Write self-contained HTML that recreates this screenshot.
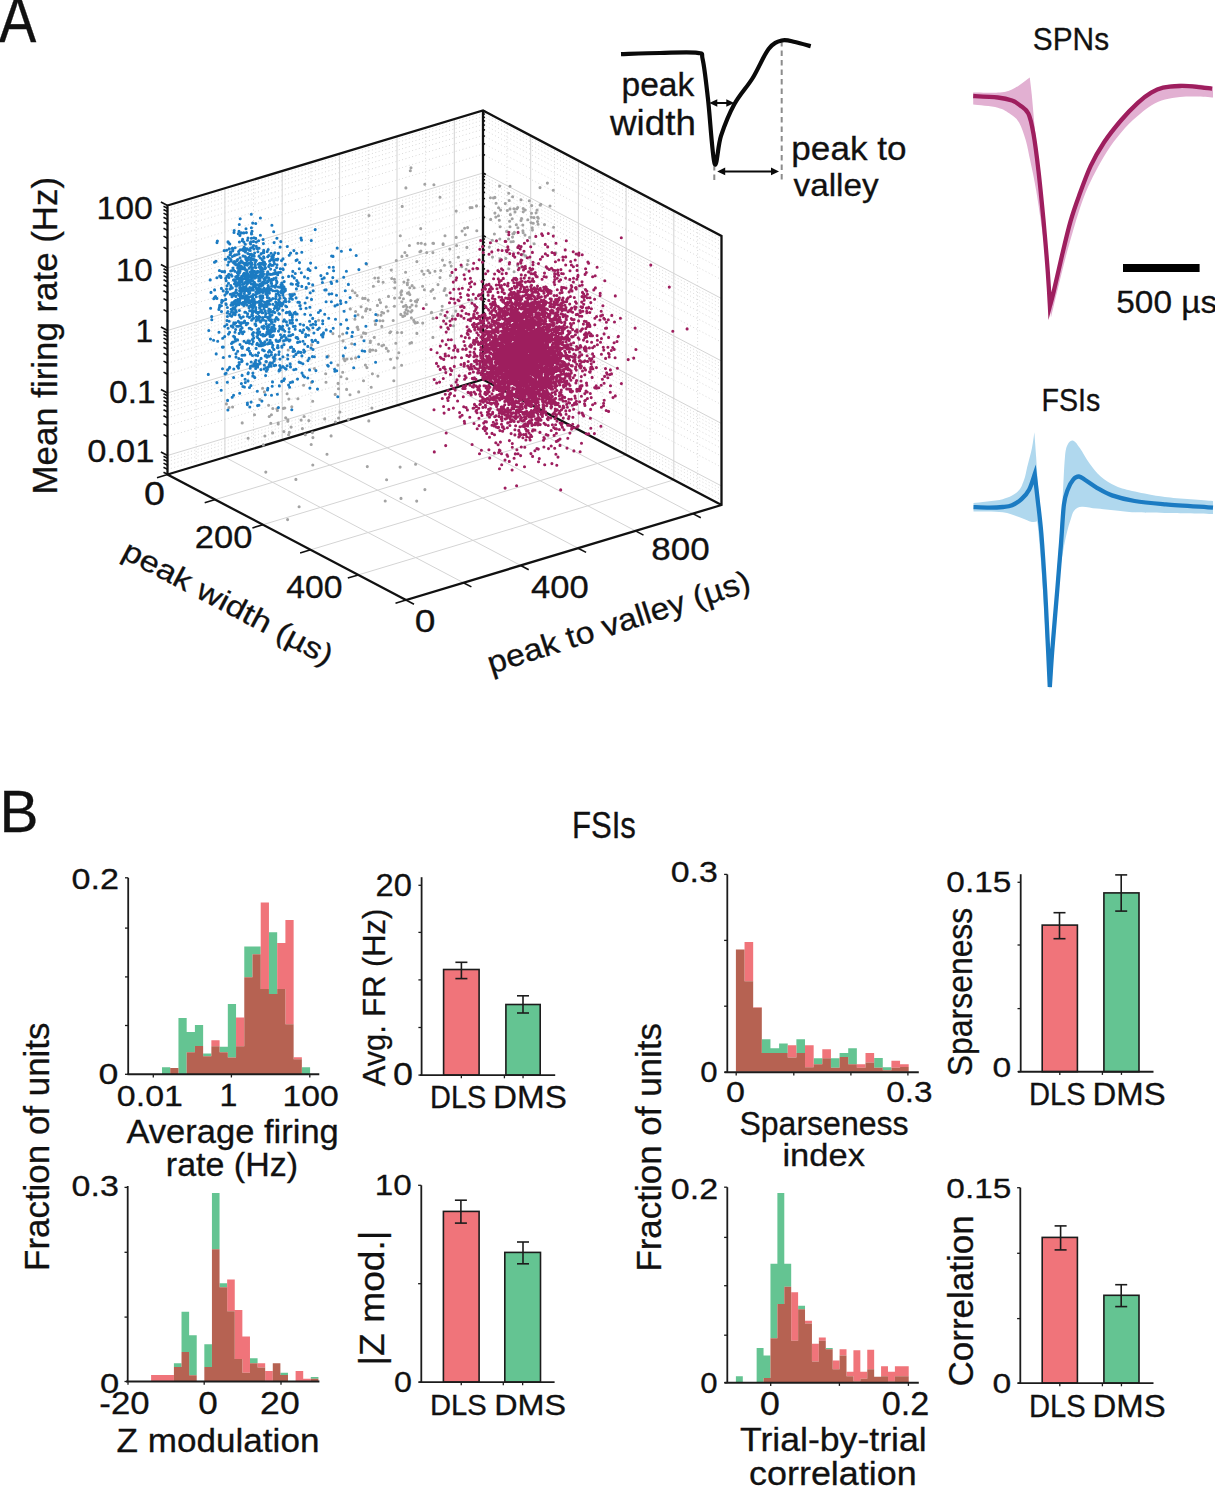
<!DOCTYPE html>
<html><head><meta charset="utf-8"><style>
html,body{margin:0;padding:0;background:#fff;overflow:hidden;width:1215px;height:1486px;}
svg{display:block;}
text{font-family:"Liberation Sans",sans-serif;font-size:100px;stroke:#111;stroke-width:0.3px;vector-effect:non-scaling-stroke;paint-order:stroke;}
</style></head><body>
<svg width="1215" height="1486" viewBox="0 0 1215 1486">
<rect width="1215" height="1486" fill="#fff"/>
<path d="M167.5 474.3L483.0 379.3L721.5 504.8M167.5 469.4L483.0 374.4L721.5 499.9M167.5 465.2L483.0 370.2L721.5 495.7M167.5 461.6L483.0 366.6L721.5 492.1M167.5 458.4L483.0 363.4L721.5 488.9M167.5 436.7L483.0 341.7L721.5 467.2M167.5 425.7L483.0 330.7L721.5 456.2M167.5 417.9L483.0 322.9L721.5 448.4M167.5 411.8L483.0 316.8L721.5 442.3M167.5 406.9L483.0 311.9L721.5 437.4M167.5 402.7L483.0 307.7L721.5 433.2M167.5 399.1L483.0 304.1L721.5 429.6M167.5 395.9L483.0 300.9L721.5 426.4M167.5 374.2L483.0 279.2L721.5 404.7M167.5 363.2L483.0 268.2L721.5 393.7M167.5 355.4L483.0 260.4L721.5 385.9M167.5 349.3L483.0 254.3L721.5 379.8M167.5 344.4L483.0 249.4L721.5 374.9M167.5 340.2L483.0 245.2L721.5 370.7M167.5 336.6L483.0 241.6L721.5 367.1M167.5 333.4L483.0 238.4L721.5 363.9M167.5 311.7L483.0 216.7L721.5 342.2M167.5 300.7L483.0 205.7L721.5 331.2M167.5 292.9L483.0 197.9L721.5 323.4M167.5 286.8L483.0 191.8L721.5 317.3M167.5 281.9L483.0 186.9L721.5 312.4M167.5 277.7L483.0 182.7L721.5 308.2M167.5 274.1L483.0 179.1L721.5 304.6M167.5 270.9L483.0 175.9L721.5 301.4M167.5 249.2L483.0 154.2L721.5 279.7M167.5 238.2L483.0 143.2L721.5 268.7M167.5 230.4L483.0 135.4L721.5 260.9M167.5 224.3L483.0 129.3L721.5 254.8M167.5 219.4L483.0 124.4L721.5 249.9M167.5 215.2L483.0 120.2L721.5 245.7M167.5 211.6L483.0 116.6L721.5 242.1M167.5 208.4L483.0 113.4L721.5 238.9M196.2 465.9L196.2 196.9M253.5 448.6L253.5 179.6M310.9 431.3L310.9 162.3M368.3 414.0L368.3 145.0M425.6 396.8L425.6 127.8M506.9 392.1L506.9 123.1M554.5 417.1L554.5 148.1M602.2 442.2L602.2 173.2M650.0 467.4L650.0 198.4M697.6 492.5L697.6 223.5" fill="none" stroke="#cfcfcf" stroke-width="0.8" stroke-dasharray="1 2.5"/>
<path d="M167.5 455.5L483.0 360.5L721.5 486.0M167.5 393.0L483.0 298.0L721.5 423.5M167.5 330.5L483.0 235.5L721.5 361.0M167.5 268.0L483.0 173.0L721.5 298.5M224.9 457.2L224.9 188.2M224.9 457.2L463.4 582.7M282.2 440.0L282.2 171.0M282.2 440.0L520.7 565.5M339.6 422.7L339.6 153.7M339.6 422.7L578.1 548.2M397.0 405.4L397.0 136.4M397.0 405.4L635.5 530.9M454.3 388.1L454.3 119.1M454.3 388.1L692.8 513.6M530.7 404.6L530.7 135.6M215.2 499.6L530.7 404.6M578.4 429.7L578.4 160.7M262.9 524.7L578.4 429.7M626.1 454.8L626.1 185.8M310.6 549.8L626.1 454.8M673.8 479.9L673.8 210.9M358.3 574.9L673.8 479.9" fill="none" stroke="#d4d4d4" stroke-width="1"/>
<path d="M167.5 205.5L167.5 474.5L406.0 600.0L721.5 505.0L721.5 236.0L483.0 110.5ZM483.0 110.5L483.0 379.5M167.5 474.5L483.0 379.5L721.5 505.0" fill="none" stroke="#111" stroke-width="2.3" stroke-linejoin="miter"/>
<path d="M167.5 474.3l-4.0 -2.1M483.0 379.3l1.9 1.0M167.5 469.4l-4.0 -2.1M483.0 374.4l1.9 1.0M167.5 465.2l-4.0 -2.1M483.0 370.2l1.9 1.0M167.5 461.6l-4.0 -2.1M483.0 366.6l1.9 1.0M167.5 458.4l-4.0 -2.1M483.0 363.4l1.9 1.0M167.5 455.5l-6.6 -3.5M483.0 360.5l2.8 1.5M167.5 436.7l-4.0 -2.1M483.0 341.7l1.9 1.0M167.5 425.7l-4.0 -2.1M483.0 330.7l1.9 1.0M167.5 417.9l-4.0 -2.1M483.0 322.9l1.9 1.0M167.5 411.8l-4.0 -2.1M483.0 316.8l1.9 1.0M167.5 406.9l-4.0 -2.1M483.0 311.9l1.9 1.0M167.5 402.7l-4.0 -2.1M483.0 307.7l1.9 1.0M167.5 399.1l-4.0 -2.1M483.0 304.1l1.9 1.0M167.5 395.9l-4.0 -2.1M483.0 300.9l1.9 1.0M167.5 393.0l-6.6 -3.5M483.0 298.0l2.8 1.5M167.5 374.2l-4.0 -2.1M483.0 279.2l1.9 1.0M167.5 363.2l-4.0 -2.1M483.0 268.2l1.9 1.0M167.5 355.4l-4.0 -2.1M483.0 260.4l1.9 1.0M167.5 349.3l-4.0 -2.1M483.0 254.3l1.9 1.0M167.5 344.4l-4.0 -2.1M483.0 249.4l1.9 1.0M167.5 340.2l-4.0 -2.1M483.0 245.2l1.9 1.0M167.5 336.6l-4.0 -2.1M483.0 241.6l1.9 1.0M167.5 333.4l-4.0 -2.1M483.0 238.4l1.9 1.0M167.5 330.5l-6.6 -3.5M483.0 235.5l2.8 1.5M167.5 311.7l-4.0 -2.1M483.0 216.7l1.9 1.0M167.5 300.7l-4.0 -2.1M483.0 205.7l1.9 1.0M167.5 292.9l-4.0 -2.1M483.0 197.9l1.9 1.0M167.5 286.8l-4.0 -2.1M483.0 191.8l1.9 1.0M167.5 281.9l-4.0 -2.1M483.0 186.9l1.9 1.0M167.5 277.7l-4.0 -2.1M483.0 182.7l1.9 1.0M167.5 274.1l-4.0 -2.1M483.0 179.1l1.9 1.0M167.5 270.9l-4.0 -2.1M483.0 175.9l1.9 1.0M167.5 268.0l-6.6 -3.5M483.0 173.0l2.8 1.5M167.5 249.2l-4.0 -2.1M483.0 154.2l1.9 1.0M167.5 238.2l-4.0 -2.1M483.0 143.2l1.9 1.0M167.5 230.4l-4.0 -2.1M483.0 135.4l1.9 1.0M167.5 224.3l-4.0 -2.1M483.0 129.3l1.9 1.0M167.5 219.4l-4.0 -2.1M483.0 124.4l1.9 1.0M167.5 215.2l-4.0 -2.1M483.0 120.2l1.9 1.0M167.5 211.6l-4.0 -2.1M483.0 116.6l1.9 1.0M167.5 208.4l-4.0 -2.1M483.0 113.4l1.9 1.0M167.5 205.5l-6.6 -3.5M483.0 110.5l2.8 1.5M167.5 474.5l-10.5 3.2M215.2 499.6l-10.5 3.2M262.9 524.7l-10.5 3.2M310.6 549.8l-10.5 3.2M358.3 574.9l-10.5 3.2M406.0 600.0l-10.5 3.2M406.0 600.0l8.0 4.2M463.4 582.7l8.0 4.2M520.7 565.5l8.0 4.2M578.1 548.2l8.0 4.2M635.5 530.9l8.0 4.2M692.8 513.6l8.0 4.2" fill="none" stroke="#111" stroke-width="1.6"/>
<path d="M400.9 292.3h0M434.4 298.3h0M405.8 305.2h0M361.6 336.9h0M375.0 321.0h0M390.6 359.3h0M401.3 294.7h0M433.9 184.8h0M377.4 305.4h0M352.4 290.7h0M369.0 215.5h0M407.4 283.1h0M440.6 314.2h0M363.5 332.9h0M383.1 282.2h0M419.9 251.7h0M363.5 380.7h0M390.6 331.7h0M338.5 388.8h0M347.0 359.0h0M326.0 382.3h0M411.4 317.8h0M366.9 367.6h0M424.4 289.7h0M391.3 270.1h0M407.2 313.7h0M311.5 382.4h0M395.8 343.3h0M374.8 278.0h0M408.1 280.0h0M342.7 372.3h0M362.7 298.4h0M394.1 367.7h0M397.3 358.1h0M445.0 235.7h0M388.2 351.1h0M412.0 305.0h0M402.2 206.4h0M389.8 332.8h0M403.4 306.5h0M409.8 294.6h0M394.9 282.2h0M351.7 343.8h0M410.8 300.6h0M492.5 257.1h0M338.1 383.4h0M443.1 244.5h0M442.0 310.2h0M362.5 317.2h0M493.5 198.0h0M409.4 245.5h0M393.8 380.8h0M426.3 304.5h0M444.2 290.4h0M413.7 320.3h0M444.5 265.2h0M408.1 311.0h0M435.0 271.2h0M467.6 227.6h0M381.8 326.4h0M433.1 318.4h0M397.3 332.5h0M401.7 290.9h0M343.0 340.9h0M358.0 314.8h0M432.9 337.4h0M451.2 266.1h0M462.1 231.0h0M344.2 359.5h0M358.1 329.4h0M440.7 270.6h0M339.9 412.0h0M377.6 315.1h0M404.8 312.6h0M456.2 237.4h0M440.0 277.6h0M365.1 298.4h0M381.8 312.3h0M380.5 302.6h0M494.4 234.0h0M370.1 309.6h0M400.8 314.4h0M455.8 311.1h0M399.7 297.7h0M394.6 298.1h0M370.0 349.7h0M401.8 301.7h0M366.8 308.7h0M466.9 247.4h0M471.5 300.0h0M407.4 293.2h0M429.8 272.7h0M387.9 311.0h0M458.4 257.3h0M394.4 279.3h0M406.9 255.5h0M377.9 376.1h0M396.3 260.5h0M358.7 391.9h0M348.4 419.4h0M402.8 316.4h0M381.9 345.7h0M446.9 317.8h0M496.1 203.2h0M357.1 327.2h0M355.6 311.5h0M407.4 284.8h0M452.5 316.1h0M422.7 323.1h0M386.3 306.7h0M420.9 251.1h0M428.0 270.5h0M372.7 350.0h0M412.0 310.6h0M416.2 305.9h0M355.7 357.9h0M412.1 285.6h0M374.3 337.4h0M442.5 260.1h0M409.8 287.7h0M416.6 301.9h0M401.6 365.2h0M414.5 321.8h0M335.2 394.4h0M318.6 320.3h0M422.6 286.3h0M288.2 350.0h0M420.7 228.6h0M350.0 394.8h0M450.4 275.6h0M365.6 333.4h0M400.3 235.8h0M417.6 299.8h0M337.9 365.1h0M468.0 260.6h0M508.7 268.7h0M406.8 307.1h0M379.4 299.7h0M373.4 286.3h0M378.6 344.3h0M449.8 249.0h0M368.2 300.1h0M406.1 309.8h0M354.9 319.2h0M409.9 343.2h0M372.4 373.8h0M489.3 247.1h0M388.5 296.4h0M461.8 266.8h0M414.1 287.8h0M375.5 324.4h0M383.6 313.0h0M355.0 292.7h0M380.0 267.3h0M401.7 332.6h0M393.2 320.5h0M351.4 358.7h0M386.3 348.4h0M440.0 197.3h0M361.1 306.8h0M369.9 351.4h0M431.0 291.2h0M464.6 228.3h0M371.2 387.2h0M404.7 315.6h0M350.3 308.9h0M314.4 368.5h0M445.0 288.5h0M415.4 301.3h0M366.6 264.3h0M398.8 352.7h0M438.0 284.6h0M411.6 342.6h0M394.4 306.3h0M370.4 341.0h0M332.9 333.6h0M514.1 271.7h0M379.9 320.7h0M442.2 306.3h0M391.7 278.5h0M382.9 320.8h0M357.1 295.6h0M416.9 261.6h0M416.9 333.4h0M378.4 281.5h0M431.3 312.8h0M456.6 245.6h0M426.7 252.6h0M421.9 271.1h0M381.0 315.3h0M346.8 378.7h0M443.1 243.9h0M433.5 243.4h0M403.4 298.7h0M401.9 256.4h0M418.0 243.3h0M450.0 262.3h0M467.3 264.6h0M366.2 309.1h0M476.8 230.8h0M343.8 358.5h0M421.3 243.2h0M446.5 295.2h0M432.9 252.6h0M512.5 237.1h0M456.2 211.1h0M365.4 365.0h0M325.7 373.8h0M432.9 243.2h0M375.8 350.6h0M411.0 312.0h0M466.1 269.2h0M341.0 376.8h0M303.6 385.2h0M408.8 292.6h0M410.0 307.2h0M415.1 323.0h0M394.7 288.0h0M370.3 342.5h0M309.3 330.1h0M417.4 322.5h0M347.8 328.4h0M311.6 344.9h0M423.8 274.3h0M431.6 312.4h0M404.9 252.5h0M339.4 336.2h0M365.7 310.9h0M342.7 334.0h0M383.6 345.0h0M403.9 282.1h0M357.5 327.1h0M432.8 289.6h0M405.6 272.3h0M500.6 210.1h0M328.3 356.1h0M425.1 244.2h0M378.3 278.0h0M453.5 325.8h0M344.9 360.7h0M555.8 252.9h0M472.0 207.5h0M529.6 237.4h0M531.2 222.8h0M525.0 235.1h0M513.3 241.5h0M465.3 234.8h0M492.3 240.3h0M510.0 208.9h0M523.2 208.5h0M494.9 197.4h0M514.4 232.4h0M537.5 221.6h0M538.1 224.3h0M512.9 233.8h0M538.3 218.2h0M509.6 221.3h0M516.8 208.7h0M537.6 217.2h0M525.2 210.0h0M522.9 230.7h0M505.7 258.4h0M523.2 254.2h0M536.1 212.7h0M506.6 231.4h0M516.3 224.8h0M508.7 193.3h0M510.0 186.3h0M523.2 211.7h0M499.3 220.3h0M521.0 199.7h0M476.5 205.9h0M470.1 207.6h0M550.0 206.0h0M529.3 200.7h0M521.6 218.6h0M513.7 233.7h0M553.6 227.3h0M517.7 207.5h0M527.8 219.8h0M533.3 223.3h0M553.3 190.3h0M508.5 239.0h0M507.3 210.5h0M509.2 200.5h0M517.6 265.5h0M540.2 205.1h0M495.8 217.1h0M537.1 210.0h0M499.8 239.0h0M534.0 217.6h0M490.4 197.7h0M499.6 186.1h0M531.5 213.3h0M525.6 255.8h0M540.8 204.4h0M534.1 243.7h0M498.6 207.8h0M512.6 196.8h0M547.4 183.1h0M490.7 219.4h0M510.0 226.8h0M521.0 220.4h0M540.0 187.6h0M515.0 211.9h0M517.9 227.8h0M494.9 213.1h0M532.4 229.9h0M500.0 258.7h0M521.6 266.7h0M532.2 227.8h0M510.4 214.8h0M510.3 214.6h0M531.4 217.2h0M505.3 203.6h0M513.9 208.8h0M511.0 241.7h0M523.1 232.6h0M522.8 225.0h0M512.2 218.8h0M531.7 205.6h0M544.5 224.6h0M498.5 215.7h0M500.1 226.7h0M264.9 436.0h0M262.6 388.2h0M264.4 391.9h0M288.6 434.8h0M312.7 401.3h0M263.3 444.9h0M301.1 420.1h0M327.0 454.3h0M335.4 422.0h0M302.4 428.6h0M268.6 405.2h0M291.8 406.7h0M287.8 421.3h0M371.9 408.1h0M285.7 417.7h0M305.3 434.7h0M272.8 408.5h0M232.6 407.0h0M308.8 420.6h0M254.5 414.8h0M291.1 427.1h0M269.2 416.5h0M226.4 403.9h0M346.6 389.4h0M278.2 423.1h0M276.9 408.7h0M287.9 419.9h0M287.1 393.7h0M284.8 408.0h0M270.8 423.2h0M312.4 432.6h0M272.6 432.9h0M331.1 435.9h0M338.6 418.0h0M283.9 431.6h0M242.2 422.9h0M271.4 414.8h0M229.0 407.5h0M289.3 432.4h0M324.7 418.9h0M283.4 408.4h0M304.1 416.5h0M311.2 444.5h0M288.9 399.0h0M259.9 399.6h0M248.1 438.3h0M297.9 398.7h0M312.9 437.6h0M277.4 410.5h0M278.2 424.0h0M385.2 501.0h0M416.7 501.1h0M424.9 489.6h0M265.8 472.1h0M367.3 466.6h0M400.1 467.1h0M299.1 506.8h0M386.6 479.8h0M401.0 498.4h0M368.8 420.9h0M312.8 465.0h0M295.9 479.4h0M415.6 464.3h0M287.6 519.6h0M411.0 167.7h0M424.8 184.3h0M405.9 187.9h0M410.3 170.8h0" stroke="#a3a3a3" stroke-width="3.1" stroke-linecap="round" fill="none"/>
<path d="M271.3 282.4h0M268.6 310.9h0M255.8 307.6h0M298.1 285.8h0M307.8 378.0h0M280.4 306.0h0M244.0 331.8h0M239.4 264.2h0M231.5 275.4h0M231.2 326.1h0M265.3 279.9h0M248.5 275.6h0M296.6 320.0h0M237.8 267.1h0M250.9 241.9h0M251.1 276.3h0M227.9 410.0h0M258.8 312.4h0M268.6 327.2h0M240.5 287.3h0M247.3 301.3h0M218.9 309.4h0M272.5 331.1h0M301.8 252.3h0M332.8 277.6h0M239.0 231.4h0M292.3 319.9h0M260.4 235.3h0M245.3 289.1h0M246.3 295.8h0M296.1 297.9h0M331.8 293.7h0M261.7 283.9h0M280.5 272.3h0M221.0 277.4h0M250.0 328.3h0M265.9 293.9h0M263.4 243.6h0M255.7 223.5h0M214.5 262.2h0M234.3 301.5h0M264.8 306.8h0M230.9 259.5h0M253.5 241.4h0M323.5 332.9h0M249.5 317.4h0M260.1 363.0h0M245.0 249.2h0M258.2 302.1h0M238.8 282.9h0M252.1 277.8h0M233.4 342.1h0M248.9 293.8h0M234.0 232.5h0M271.6 283.6h0M319.3 328.1h0M290.0 340.0h0M240.3 330.6h0M336.9 281.2h0M282.8 295.1h0M269.8 330.9h0M269.3 364.5h0M252.4 301.7h0M233.6 262.8h0M272.5 274.3h0M267.6 343.9h0M221.6 302.4h0M238.7 285.0h0M238.7 284.9h0M250.6 353.2h0M310.0 270.5h0M265.2 355.9h0M271.4 354.7h0M253.9 283.9h0M300.8 352.4h0M261.9 326.9h0M302.0 373.1h0M255.6 355.1h0M267.0 357.3h0M235.1 300.9h0M258.5 352.8h0M217.4 241.0h0M236.1 311.3h0M331.6 283.4h0M264.9 267.7h0M350.1 297.6h0M234.8 263.9h0M277.4 318.7h0M299.8 341.8h0M237.9 299.2h0M241.5 359.5h0M248.6 289.1h0M220.7 276.3h0M275.9 259.5h0M315.6 321.6h0M262.0 312.8h0M268.7 266.6h0M239.2 315.0h0M252.0 365.9h0M358.7 356.8h0M222.5 368.7h0M227.4 316.5h0M285.4 290.6h0M239.6 322.5h0M248.6 292.3h0M277.4 394.3h0M257.6 292.8h0M290.5 295.8h0M267.7 271.7h0M261.6 289.8h0M254.6 259.9h0M238.5 368.1h0M249.8 291.3h0M287.1 365.8h0M271.5 331.8h0M346.8 332.9h0M260.1 297.5h0M211.7 316.6h0M279.3 369.9h0M250.6 243.9h0M258.7 328.9h0M293.8 356.5h0M228.1 275.4h0M256.3 312.4h0M232.2 397.3h0M230.3 315.5h0M264.0 258.0h0M242.6 296.4h0M254.2 366.0h0M266.4 371.3h0M351.9 336.4h0M231.5 312.0h0M293.0 351.4h0M270.1 312.1h0M245.6 270.1h0M234.6 307.8h0M217.7 341.2h0M255.9 366.1h0M306.3 287.2h0M261.5 283.4h0M250.6 301.4h0M236.1 306.1h0M340.5 300.7h0M225.7 278.4h0M293.8 369.8h0M257.9 290.7h0M236.3 312.0h0M233.7 302.5h0M233.5 293.3h0M336.5 295.3h0M227.0 285.8h0M246.9 284.2h0M280.1 328.7h0M237.4 272.9h0M259.5 305.1h0M242.3 261.9h0M234.5 303.6h0M272.2 386.3h0M279.8 340.3h0M317.9 342.4h0M303.6 329.9h0M274.2 365.6h0M271.8 323.2h0M315.4 340.4h0M208.3 374.4h0M307.8 346.4h0M264.3 350.8h0M272.8 345.4h0M219.7 276.1h0M227.9 311.5h0M257.2 272.8h0M304.6 351.4h0M219.4 307.2h0M214.6 289.9h0M254.5 286.7h0M315.9 370.6h0M245.5 282.8h0M264.2 288.3h0M284.1 297.7h0M257.0 284.9h0M229.2 248.8h0M277.0 282.1h0M299.5 262.6h0M347.8 328.2h0M247.5 277.6h0M260.9 342.4h0M274.1 242.6h0M229.7 367.4h0M264.5 280.0h0M304.5 276.9h0M249.5 276.2h0M263.1 335.9h0M249.0 307.8h0M255.6 324.3h0M273.4 273.5h0M290.4 382.5h0M272.2 285.9h0M252.6 280.8h0M222.4 347.1h0M269.8 333.4h0M238.3 233.7h0M280.8 241.6h0M244.5 287.5h0M241.0 293.7h0M285.7 340.1h0M285.3 289.0h0M263.7 252.7h0M271.9 225.2h0M231.6 270.7h0M233.0 268.0h0M231.0 305.1h0M255.7 368.5h0M258.0 332.1h0M250.5 366.2h0M249.2 277.2h0M267.6 330.3h0M235.5 341.0h0M216.0 261.3h0M243.8 305.6h0M240.2 278.5h0M257.8 302.3h0M251.5 233.9h0M259.1 267.3h0M265.7 314.2h0M240.2 249.9h0M246.4 232.6h0M238.2 294.3h0M238.4 302.4h0M244.8 312.2h0M364.7 351.2h0M237.1 260.1h0M284.3 319.8h0M288.6 276.4h0M257.6 319.4h0M264.8 341.9h0M292.4 295.6h0M242.6 333.8h0M291.0 296.7h0M240.9 287.5h0M248.1 278.5h0M250.9 385.5h0M242.4 284.2h0M317.7 329.5h0M281.7 283.1h0M261.1 273.6h0M243.2 302.2h0M247.8 258.9h0M274.9 273.8h0M235.0 332.2h0M249.8 293.1h0M255.0 286.7h0M252.8 308.2h0M253.7 318.2h0M246.6 297.1h0M258.9 405.3h0M236.6 283.5h0M308.5 328.9h0M252.1 272.7h0M256.4 316.8h0M252.5 287.6h0M301.5 240.0h0M251.8 315.9h0M228.0 241.9h0M240.7 329.3h0M264.8 278.0h0M279.4 385.9h0M229.2 321.2h0M268.9 342.5h0M267.4 273.4h0M289.6 311.9h0M364.0 340.8h0M327.0 356.9h0M269.2 274.3h0M303.7 350.0h0M237.6 264.5h0M241.4 266.2h0M270.1 336.5h0M245.7 297.1h0M246.6 290.4h0M307.0 297.7h0M247.3 277.1h0M235.9 264.6h0M232.4 248.3h0M317.5 389.1h0M252.7 289.0h0M238.7 279.4h0M307.0 327.6h0M230.8 253.4h0M248.0 373.8h0M275.4 291.0h0M235.5 281.4h0M228.8 274.2h0M252.5 313.0h0M256.8 344.4h0M327.2 273.5h0M261.6 277.0h0M232.3 287.9h0M243.9 274.0h0M242.5 268.6h0M227.4 382.2h0M262.9 292.4h0M234.9 279.7h0M289.6 387.2h0M252.0 280.7h0M299.8 305.8h0M254.8 278.1h0M210.5 339.0h0M282.7 326.3h0M241.6 276.4h0M266.7 282.7h0M269.0 287.2h0M235.2 309.4h0M267.6 330.9h0M287.3 246.5h0M259.9 276.9h0M310.5 315.0h0M245.0 297.6h0M262.2 272.6h0M257.8 271.3h0M244.7 278.5h0M252.0 307.1h0M253.1 332.8h0M263.5 320.0h0M239.6 301.9h0M245.1 379.3h0M270.2 340.3h0M256.5 275.9h0M286.1 337.9h0M225.2 259.2h0M279.9 328.4h0M260.2 311.5h0M292.4 284.2h0M291.1 283.9h0M267.2 328.8h0M238.7 277.8h0M263.0 282.1h0M290.1 323.0h0M304.7 344.0h0M310.6 263.1h0M250.5 267.1h0M224.2 250.6h0M324.8 290.0h0M262.8 285.3h0M264.8 335.7h0M251.5 233.0h0M250.1 254.4h0M281.5 290.9h0M253.8 255.8h0M283.2 269.6h0M295.2 326.3h0M256.3 246.4h0M239.3 295.5h0M269.3 274.1h0M265.9 355.1h0M270.1 264.3h0M239.3 273.0h0M270.4 309.7h0M253.4 290.0h0M289.9 294.5h0M260.1 317.2h0M255.1 302.7h0M239.1 362.5h0M263.2 282.6h0M281.5 260.6h0M245.4 249.2h0M278.4 287.0h0M246.2 249.7h0M223.3 347.1h0M311.5 299.4h0M286.4 321.9h0M216.9 298.4h0M230.7 271.0h0M266.9 332.2h0M308.0 269.4h0M275.1 355.5h0M249.8 287.6h0M278.7 272.5h0M258.8 276.0h0M226.8 276.3h0M232.6 293.8h0M256.5 319.8h0M229.6 332.3h0M268.5 292.9h0M241.4 322.8h0M265.3 280.3h0M266.6 326.9h0M240.4 269.0h0M313.9 333.0h0M261.0 295.9h0M343.3 355.9h0M239.3 364.2h0M249.5 387.5h0M268.8 255.5h0M251.3 259.7h0M261.8 268.1h0M251.0 272.3h0M308.4 268.9h0M250.2 250.5h0M242.9 386.5h0M238.7 283.7h0M255.1 303.2h0M226.5 292.0h0M232.5 294.3h0M255.7 238.4h0M249.5 341.1h0M258.8 292.4h0M228.2 257.0h0M250.4 275.2h0M346.0 302.3h0M277.8 259.1h0M269.8 319.6h0M252.3 334.2h0M255.0 324.0h0M259.7 296.5h0M233.5 314.2h0M256.3 242.1h0M235.7 276.8h0M282.9 366.5h0M264.1 309.1h0M242.2 278.3h0M254.1 274.5h0M233.8 369.0h0M252.8 315.5h0M233.5 270.0h0M273.8 259.5h0M252.9 373.1h0M295.2 312.4h0M261.7 291.8h0M242.2 297.9h0M252.3 280.9h0M291.6 347.1h0M262.1 259.6h0M232.4 342.4h0M250.9 264.4h0M240.2 218.8h0M244.0 341.2h0M281.6 305.8h0M260.8 299.7h0M239.4 271.5h0M255.9 325.6h0M263.3 345.3h0M269.1 265.6h0M234.6 255.1h0M268.2 290.3h0M259.2 360.9h0M346.4 271.2h0M260.1 265.4h0M246.8 282.2h0M267.6 288.0h0M278.1 347.6h0M256.9 289.9h0M255.4 301.9h0M266.3 289.5h0M242.7 296.6h0M232.7 251.0h0M265.9 321.0h0M242.4 346.7h0M301.9 355.9h0M313.2 290.8h0M262.8 312.8h0M245.1 268.7h0M245.9 257.5h0M264.8 344.4h0M238.9 253.8h0M275.6 298.7h0M279.5 295.5h0M262.4 285.3h0M358.9 269.6h0M337.4 304.7h0M251.5 290.0h0M260.6 269.6h0M296.1 260.4h0M219.4 270.5h0M247.4 248.9h0M278.0 293.8h0M255.9 311.8h0M292.5 322.9h0M271.2 329.9h0M277.3 272.7h0M254.4 282.4h0M265.9 361.5h0M245.2 256.6h0M275.7 286.5h0M272.2 336.7h0M304.6 377.0h0M242.5 249.6h0M269.7 316.3h0M245.8 274.9h0M234.5 283.7h0M260.4 258.0h0M239.7 288.1h0M227.6 369.9h0M256.1 271.9h0M278.6 299.7h0M261.0 254.0h0M238.0 271.8h0M269.1 356.3h0M262.2 343.3h0M254.9 283.4h0M256.9 248.1h0M246.8 305.0h0M234.5 324.1h0M262.3 305.4h0M258.7 278.4h0M279.4 341.0h0M271.5 395.3h0M260.0 280.5h0M250.2 368.2h0M296.6 253.3h0M248.0 380.9h0M263.2 261.6h0M294.3 277.9h0M266.4 361.6h0M243.8 283.8h0M219.7 305.2h0M237.3 366.2h0M331.1 362.7h0M280.1 370.0h0M329.2 267.2h0M253.5 332.5h0M343.7 277.3h0M259.2 292.9h0M282.2 327.2h0M264.7 302.3h0M268.5 352.1h0M297.3 337.5h0M292.6 381.9h0M251.5 296.4h0M245.4 300.4h0M297.5 379.1h0M243.1 256.1h0M258.6 240.8h0M282.1 288.9h0M297.1 314.0h0M238.5 284.2h0M249.1 268.3h0M310.7 325.0h0M250.4 259.8h0M265.3 304.3h0M246.2 259.6h0M292.8 271.4h0M241.1 323.7h0M235.7 300.5h0M238.4 326.2h0M252.3 311.7h0M376.5 320.6h0M245.5 299.7h0M271.5 319.8h0M253.9 237.8h0M259.9 320.9h0M297.9 352.5h0M235.9 296.4h0M230.8 285.5h0M252.3 269.5h0M223.0 300.8h0M252.7 223.1h0M264.0 264.2h0M242.6 239.2h0M268.8 312.8h0M252.5 267.7h0M243.8 232.9h0M252.3 289.2h0M247.5 260.4h0M226.7 293.1h0M277.0 264.7h0M241.8 361.6h0M227.6 400.4h0M246.1 263.1h0M282.9 268.9h0M278.3 253.4h0M308.5 335.3h0M253.4 303.7h0M250.9 266.3h0M271.7 343.2h0M260.9 290.5h0M244.0 322.2h0M299.3 268.7h0M242.9 290.8h0M285.4 368.6h0M265.9 302.7h0M280.6 367.7h0M232.0 296.7h0M243.5 286.7h0M296.8 280.6h0M261.1 358.4h0M265.4 264.1h0M272.2 322.4h0M231.9 302.8h0M263.7 326.0h0M225.1 373.9h0M282.8 277.5h0M257.7 365.4h0M260.2 278.4h0M260.0 284.6h0M304.8 314.3h0M233.1 308.0h0M284.2 281.6h0M243.1 278.9h0M333.2 328.3h0M236.8 326.2h0M281.3 337.8h0M270.1 362.9h0M239.7 290.8h0M256.9 318.5h0M255.9 360.2h0M271.5 328.7h0M241.4 232.9h0M282.1 287.3h0M259.8 267.3h0M295.3 273.5h0M266.8 290.1h0M309.6 369.9h0M275.6 272.6h0M259.3 339.4h0M216.9 277.7h0M245.3 244.3h0M256.7 364.1h0M227.3 313.0h0M264.5 262.3h0M259.1 286.7h0M241.8 267.2h0M276.9 238.2h0M322.7 320.7h0M245.8 250.9h0M244.4 267.4h0M249.2 328.2h0M260.2 289.2h0M277.3 259.9h0M229.2 249.0h0M251.6 320.3h0M309.9 307.3h0M271.2 281.5h0M226.9 324.6h0M264.7 265.2h0M279.5 314.1h0M283.6 340.9h0M293.9 250.6h0M260.7 290.5h0M273.3 286.3h0M246.4 278.6h0M277.4 347.6h0M259.7 308.3h0M268.8 333.9h0M301.3 272.8h0M326.1 289.9h0M260.4 344.9h0M257.1 312.2h0M246.0 228.8h0M245.5 303.1h0M279.3 305.0h0M256.1 348.4h0M252.2 344.1h0M280.7 303.1h0M255.9 292.0h0M239.9 235.4h0M257.3 343.4h0M249.4 343.2h0M253.1 335.4h0M244.6 269.0h0M273.5 327.6h0M251.8 314.9h0M255.6 274.6h0M261.4 310.4h0M280.5 334.8h0M255.3 265.6h0M296.1 337.6h0M257.9 251.7h0M280.3 268.7h0M273.7 349.4h0M272.5 347.2h0M281.8 346.3h0M238.3 272.6h0M239.7 272.5h0M267.6 317.4h0M354.7 344.3h0M292.3 317.3h0M229.6 356.2h0M306.2 288.3h0M280.7 303.4h0M274.2 359.8h0M254.5 284.4h0M262.6 349.9h0M257.3 391.3h0M243.2 268.7h0M299.1 362.1h0M246.8 299.9h0M258.3 264.2h0M337.8 396.8h0M261.8 306.1h0M244.0 296.5h0M264.7 283.3h0M251.2 275.9h0M282.8 310.2h0M255.2 361.9h0M280.1 247.1h0M260.8 266.9h0M242.8 355.2h0M244.8 268.7h0M334.6 369.2h0M269.0 319.7h0M224.6 272.0h0M266.0 334.8h0M250.6 248.0h0M253.9 260.0h0M292.4 299.3h0M255.7 277.5h0M375.8 314.5h0M232.5 309.4h0M250.2 306.3h0M265.0 267.4h0M269.4 293.1h0M311.3 240.5h0M232.8 250.2h0M346.5 319.9h0M226.1 373.2h0M227.8 265.0h0M219.0 332.3h0M247.4 316.2h0M273.2 311.2h0M312.9 327.7h0M237.8 301.6h0M228.8 242.9h0M242.0 355.3h0M236.0 303.8h0M242.1 304.3h0M278.2 291.6h0M300.1 330.6h0M269.6 261.1h0M272.9 304.2h0M269.0 291.9h0M315.7 324.6h0M276.6 304.0h0M231.0 315.8h0M255.0 267.2h0M215.5 296.5h0M265.3 316.6h0M231.7 288.2h0M271.4 352.3h0M283.5 367.2h0M262.7 295.8h0M233.6 395.2h0M282.9 356.8h0M322.4 282.5h0M314.4 356.8h0M283.5 321.3h0M242.2 281.6h0M282.1 329.2h0M272.8 290.7h0M288.7 312.2h0M292.2 323.2h0M226.6 250.2h0M284.6 301.3h0M279.8 365.5h0M263.5 251.7h0M276.1 340.0h0M249.8 301.0h0M260.1 296.6h0M233.0 327.3h0M232.7 249.8h0M241.4 291.9h0M320.9 275.6h0M288.6 385.1h0M264.9 268.7h0M289.2 301.5h0M253.6 255.4h0M249.3 306.6h0M290.6 335.6h0M273.3 335.4h0M267.8 388.4h0M350.4 249.7h0M277.7 274.7h0M272.5 312.0h0M296.5 284.2h0M284.0 344.6h0M244.6 288.1h0M255.8 267.8h0M320.4 310.6h0M254.6 304.7h0M276.4 341.1h0M237.6 339.9h0M265.9 292.4h0M280.0 359.1h0M246.2 281.6h0M286.6 306.7h0M233.7 312.6h0M253.0 301.4h0M251.1 402.1h0M259.7 301.0h0M286.0 301.6h0M280.9 284.7h0M236.8 261.0h0M294.1 313.1h0M228.9 277.4h0M217.0 242.6h0M313.0 324.3h0M237.7 268.0h0M251.9 264.5h0M243.6 303.4h0M245.1 248.0h0M257.6 329.6h0M252.2 299.3h0M248.0 238.0h0M271.8 342.8h0M227.0 320.6h0M260.8 271.7h0M276.0 296.3h0M266.6 291.6h0M245.6 277.5h0M216.2 353.9h0M257.6 337.5h0M274.8 270.3h0M267.4 369.5h0M297.6 342.4h0M247.4 403.0h0M288.8 335.8h0M230.1 254.6h0M253.7 338.1h0M251.2 362.0h0M226.0 303.8h0M208.8 330.5h0M283.7 380.4h0M276.8 307.4h0M259.6 363.6h0M235.2 338.8h0M230.4 252.1h0M241.9 278.0h0M267.5 389.9h0M247.8 283.3h0M224.6 271.4h0M249.1 300.3h0M239.8 281.1h0M301.0 238.1h0M284.4 378.9h0M245.4 251.9h0M259.1 345.8h0M234.3 261.6h0M255.8 274.2h0M263.5 305.4h0M268.2 329.7h0M265.9 313.4h0M234.9 271.3h0M267.9 318.0h0M297.9 338.8h0M279.6 326.3h0M261.2 334.7h0M239.4 310.5h0M211.8 319.7h0M273.3 256.9h0M282.3 284.5h0M315.8 267.7h0M237.5 278.7h0M235.2 282.1h0M274.3 308.5h0M244.7 289.1h0M240.0 344.5h0M244.3 263.4h0M266.6 277.3h0M234.5 255.5h0M248.7 280.0h0M270.8 274.4h0M241.4 383.6h0M238.7 282.2h0M284.2 291.4h0M276.7 283.0h0M240.9 303.0h0M239.6 266.1h0M294.4 294.2h0M293.6 349.3h0M244.4 387.0h0M289.1 331.9h0M255.3 294.8h0M232.3 256.5h0M254.4 283.2h0M263.1 239.5h0M271.1 253.3h0M243.1 249.5h0M239.4 242.0h0M250.3 280.3h0M259.1 332.7h0M259.0 256.2h0M255.0 260.0h0M244.3 293.6h0M299.4 302.4h0M276.6 267.6h0M257.6 288.7h0M267.7 256.7h0M328.7 318.3h0M252.8 298.5h0M355.1 315.9h0M277.0 290.7h0M248.6 342.1h0M257.4 248.8h0M273.8 278.6h0M237.7 351.2h0M243.2 297.2h0M254.1 306.0h0M307.9 278.3h0M257.6 355.6h0M274.0 349.5h0M253.4 259.3h0M375.6 362.3h0M352.5 332.3h0M248.0 340.7h0M273.7 231.8h0M242.0 279.3h0M300.2 305.6h0M275.2 306.0h0M252.8 376.0h0M210.6 308.2h0M333.6 270.7h0M302.3 332.4h0M280.0 359.1h0M258.6 318.4h0M315.5 340.3h0M224.7 336.5h0M254.2 256.2h0M323.2 334.4h0M243.9 242.1h0M262.8 289.7h0M310.2 292.7h0M231.2 260.9h0M333.3 267.3h0M242.1 288.4h0M242.5 278.8h0M233.8 322.9h0M318.4 312.5h0M233.6 324.2h0M262.5 263.8h0M267.4 295.7h0M255.0 264.2h0M270.6 269.1h0M210.2 279.9h0M281.9 347.2h0M247.4 290.2h0M249.7 291.7h0M232.2 309.7h0M291.8 409.8h0M267.3 295.6h0M259.1 302.5h0M250.1 272.1h0M223.2 290.9h0M257.6 366.9h0M250.7 261.8h0M252.7 297.0h0M234.4 263.2h0M281.0 292.4h0M259.0 272.0h0M245.5 287.4h0M297.1 259.7h0M275.4 354.7h0M228.5 334.1h0M243.2 316.7h0M253.9 248.9h0M271.5 259.3h0M243.6 296.4h0M244.0 275.7h0M274.8 312.5h0M273.9 261.4h0M251.3 283.9h0M272.9 279.6h0M240.1 270.9h0M260.4 218.0h0M232.6 302.9h0M236.0 286.1h0M250.3 242.6h0M251.0 280.1h0M254.3 276.6h0M278.8 313.5h0M245.6 281.7h0M241.1 295.6h0M249.8 407.0h0M362.2 350.7h0M257.6 405.6h0M246.2 287.7h0M247.9 253.5h0M259.3 345.1h0M268.0 330.3h0M268.0 281.8h0M248.3 372.8h0M233.6 377.5h0M251.4 227.7h0M279.0 370.9h0M225.7 299.4h0M278.4 407.6h0M270.3 334.0h0M266.2 323.8h0M255.1 260.3h0M267.2 251.6h0M259.1 248.2h0M238.3 303.6h0M259.1 316.4h0M231.5 343.5h0M241.5 347.3h0M239.3 224.5h0M229.4 258.3h0M247.2 342.5h0M365.9 326.3h0M247.4 349.5h0M251.7 280.5h0M247.2 364.1h0M264.0 288.7h0M239.1 303.8h0M274.4 263.5h0M290.4 347.4h0M274.2 361.0h0M345.3 290.8h0M242.3 240.7h0M252.3 339.5h0M289.1 328.6h0M252.6 280.3h0M278.8 354.4h0M259.7 308.3h0M303.2 375.6h0M237.8 300.4h0M266.3 367.8h0M243.4 297.9h0M271.7 327.1h0M237.8 259.5h0M231.7 316.2h0M229.9 314.3h0M251.9 289.1h0M240.5 289.9h0M253.5 285.0h0M241.5 277.4h0M269.2 265.3h0M269.6 350.6h0M260.9 369.6h0M226.2 304.4h0M335.0 305.9h0M302.9 363.7h0M261.4 345.7h0M235.7 322.8h0M247.0 270.6h0M257.1 336.5h0M265.6 375.5h0M264.9 290.4h0M289.3 340.9h0M245.9 286.5h0M284.8 331.2h0M288.1 339.7h0M233.6 336.2h0M254.4 286.2h0M226.0 259.3h0M245.4 282.7h0M353.7 367.7h0M290.2 363.9h0M271.0 300.1h0M264.4 365.2h0M311.9 340.3h0M246.8 258.3h0M269.7 304.2h0M280.0 298.2h0M331.6 256.0h0M283.7 336.1h0M238.9 304.7h0M271.2 279.6h0M251.1 304.7h0M290.7 313.5h0M251.7 263.1h0M275.0 328.7h0M254.1 376.8h0M247.0 260.6h0M348.4 284.4h0M263.7 250.2h0M309.9 388.1h0M266.9 275.2h0M229.4 368.1h0M268.4 366.9h0M238.6 251.6h0M271.7 286.1h0M259.7 263.2h0M240.1 317.0h0M260.2 341.0h0M265.3 394.8h0M307.9 360.6h0M264.4 307.2h0M233.6 349.8h0M267.6 304.4h0M245.8 296.5h0M249.2 250.2h0M289.8 298.5h0M283.2 292.6h0M276.0 277.7h0M267.2 297.5h0M301.8 286.4h0M254.8 283.4h0M324.2 277.9h0M271.1 283.3h0M330.7 331.3h0M247.6 313.7h0M247.0 295.8h0M261.1 320.7h0M240.6 325.8h0M226.5 289.0h0M234.0 302.9h0M238.2 267.8h0M298.5 351.7h0M277.4 310.2h0M257.0 293.4h0M245.6 312.2h0M286.1 369.1h0M283.5 329.7h0M242.7 262.8h0M340.8 324.3h0M274.7 319.7h0M262.3 269.2h0M278.4 305.3h0M295.2 329.2h0M226.2 280.7h0M259.8 284.2h0M235.1 262.6h0M234.2 262.2h0M283.0 304.1h0M234.6 337.0h0M277.8 345.6h0M331.4 301.8h0M242.3 348.3h0M239.9 282.5h0M248.1 276.9h0M255.8 309.5h0M275.2 287.3h0M214.4 297.8h0M268.4 355.8h0M262.9 297.7h0M248.6 263.2h0M263.0 334.3h0M231.2 309.2h0M227.5 291.9h0M283.0 303.0h0M241.5 331.7h0M250.8 277.5h0M324.7 314.2h0M238.3 321.3h0M233.4 304.3h0M272.5 381.9h0M256.6 289.2h0M285.1 264.8h0M309.6 321.3h0M322.8 336.9h0M251.3 214.3h0M305.6 336.7h0M249.4 282.3h0M276.4 317.6h0M252.0 231.3h0M322.5 334.2h0M257.8 334.6h0M236.0 353.7h0M260.3 277.6h0M283.0 258.9h0M271.8 279.6h0M247.6 282.0h0M278.1 341.5h0M242.1 375.4h0M260.9 263.2h0M295.9 354.4h0M253.2 341.5h0M334.9 371.3h0M303.6 325.1h0M231.0 287.0h0M247.4 404.6h0M274.0 325.4h0M290.6 253.1h0M238.8 358.6h0M252.8 301.1h0M253.7 304.9h0M315.2 229.6h0M241.1 260.8h0M289.9 320.5h0M277.8 302.8h0M222.7 338.3h0M250.5 353.5h0M292.1 294.5h0M344.1 311.2h0M287.4 325.3h0M245.3 382.5h0M248.6 348.2h0M263.7 265.0h0M251.7 271.6h0M275.5 298.6h0M256.6 288.2h0M297.9 302.3h0M229.8 244.0h0M238.7 270.3h0M251.4 238.3h0M326.2 329.9h0M272.8 298.6h0M289.8 314.7h0M253.5 245.5h0M242.1 361.0h0M258.7 281.0h0M326.1 301.8h0M230.0 289.0h0M253.2 294.5h0M241.1 318.1h0M266.7 274.1h0M248.5 302.6h0M345.3 347.7h0M279.2 301.2h0M236.6 304.4h0M244.1 273.3h0M249.1 297.0h0M268.8 279.4h0M232.3 296.3h0M223.4 357.5h0M263.6 256.7h0M311.0 348.0h0M322.1 279.0h0M240.8 324.1h0M292.4 315.4h0M216.9 382.6h0M239.4 262.7h0M251.4 258.2h0M269.3 324.7h0M251.6 254.2h0M256.3 260.6h0M237.0 303.2h0M256.8 332.7h0M269.8 343.4h0M293.4 326.4h0M275.6 319.3h0M238.9 254.0h0M221.5 311.6h0M268.7 277.8h0M235.2 314.6h0M238.5 282.3h0M244.1 247.3h0M275.0 358.5h0M281.7 337.2h0M271.8 265.4h0M275.8 285.4h0M312.5 381.6h0M244.8 249.3h0M266.0 290.0h0M243.4 322.6h0M329.1 294.1h0M366.1 263.5h0M239.7 280.5h0M258.1 334.6h0M263.4 282.5h0M256.2 288.5h0M243.9 268.3h0M305.1 303.0h0M246.4 288.5h0M243.4 248.7h0M322.7 323.8h0M255.9 274.7h0M262.2 300.9h0M269.2 298.3h0M221.8 300.2h0M335.5 319.2h0M250.1 276.1h0M247.2 280.0h0M300.7 362.7h0M296.4 288.9h0M231.8 303.1h0M271.0 289.2h0M255.2 286.1h0M253.0 311.0h0M279.8 287.3h0M249.1 257.0h0M298.2 282.9h0M312.7 318.4h0M258.4 290.3h0M213.8 298.7h0M268.0 326.2h0M283.9 286.7h0M286.2 312.7h0M246.7 272.8h0M244.5 296.6h0M271.5 336.3h0M263.1 275.4h0M266.1 304.9h0M260.6 277.4h0M234.7 279.6h0M238.6 365.4h0M240.4 293.7h0M259.0 291.9h0M238.3 275.2h0M262.3 304.5h0M263.6 274.1h0M247.8 323.2h0M254.6 253.0h0M273.3 279.5h0M232.3 347.4h0M233.3 303.5h0M285.4 299.1h0M260.5 303.1h0M333.0 256.4h0M246.0 323.3h0M308.8 283.6h0M300.7 308.7h0M271.7 256.6h0M251.4 310.8h0M256.2 320.9h0M246.2 342.8h0M262.8 319.1h0M247.5 240.2h0M236.2 289.9h0M250.4 353.9h0M258.0 330.1h0M248.6 298.0h0M268.9 309.0h0M232.0 276.1h0M231.3 274.9h0M275.0 321.2h0M268.3 280.7h0M255.9 271.9h0M337.2 248.1h0M237.0 276.3h0M287.1 325.1h0M270.1 320.4h0M239.7 290.9h0M279.0 308.5h0M243.4 274.4h0M328.3 366.1h0M292.2 276.1h0M289.2 255.2h0M336.7 370.8h0M244.2 263.6h0M331.0 282.1h0M239.7 393.2h0M279.1 351.7h0M228.7 262.1h0M255.2 311.4h0M292.8 334.5h0M272.4 363.1h0M265.3 311.0h0M267.6 301.0h0M264.2 368.9h0M261.2 271.9h0M305.8 334.6h0M258.0 292.7h0M256.3 260.5h0M236.9 293.1h0M251.6 329.3h0M249.8 302.8h0M269.9 289.9h0M239.8 300.1h0M313.0 349.5h0M273.7 254.7h0M244.8 264.9h0M284.4 335.3h0M270.7 363.6h0M284.8 289.0h0M312.4 356.6h0M272.2 330.1h0M252.4 319.2h0M356.2 255.5h0M257.9 313.4h0M251.5 276.4h0M243.7 290.8h0M236.5 254.7h0M249.7 310.8h0M341.4 251.2h0M270.0 315.0h0M306.1 308.3h0M260.4 274.8h0M233.5 280.1h0M285.2 264.3h0M271.1 366.3h0M266.9 306.5h0M247.4 265.3h0M239.2 333.4h0M303.0 341.3h0M255.4 262.0h0M270.1 316.8h0M237.1 285.4h0M276.4 280.5h0M246.6 289.0h0M262.8 317.5h0M252.5 247.3h0M245.8 258.7h0M259.7 331.8h0M222.0 271.6h0M252.5 355.5h0M263.5 290.0h0M224.7 326.2h0M242.1 327.9h0M295.7 314.0h0M290.5 366.9h0M227.4 307.5h0M241.1 261.8h0M260.6 322.0h0M235.1 247.7h0M221.2 390.3h0M268.2 292.4h0M235.9 291.7h0M340.8 303.6h0M273.2 357.5h0M234.4 295.3h0M268.5 302.5h0M285.7 306.0h0M256.3 296.8h0M312.6 341.7h0M287.7 359.0h0M294.6 351.1h0M247.7 273.9h0M275.6 365.2h0M236.4 286.2h0M244.6 321.0h0M278.2 319.6h0M213.6 340.3h0M240.4 297.6h0M233.0 304.9h0M249.4 351.1h0M327.6 365.3h0M268.2 249.5h0M295.9 369.2h0M261.3 253.6h0M266.3 291.7h0M244.8 291.4h0M274.5 330.9h0M250.9 274.4h0M286.7 312.3h0M239.9 262.8h0M269.3 301.2h0M235.6 329.5h0M273.1 265.3h0M268.2 285.5h0M259.8 306.1h0M238.6 272.0h0M221.4 305.8h0M244.8 355.1h0M230.3 294.3h0M309.1 358.4h0M304.0 352.3h0M243.4 250.6h0M267.0 339.8h0M235.9 286.1h0M278.5 331.1h0M251.8 270.0h0M251.2 275.1h0M265.6 291.4h0M321.5 334.9h0M224.9 295.1h0M241.0 268.2h0M235.3 292.5h0M259.6 307.6h0M272.0 315.0h0M252.6 274.8h0M266.2 277.4h0M275.7 302.1h0M221.4 288.4h0M252.1 255.7h0M254.2 299.4h0M263.7 328.4h0M232.3 248.4h0M312.7 284.9h0M240.1 257.8h0M228.1 328.2h0M254.8 377.6h0M263.2 271.5h0M264.0 278.7h0M228.5 283.3h0M261.9 401.1h0M239.8 285.4h0M243.8 283.8h0M253.9 363.8h0M265.5 267.9h0M264.1 350.7h0M271.1 259.7h0M261.1 286.3h0M246.3 324.7h0M281.7 381.4h0M276.2 294.3h0M211.0 292.4h0M271.5 322.4h0M254.1 271.4h0M234.2 230.6h0M287.7 355.0h0M300.2 324.2h0M236.0 357.1h0M274.9 252.8h0" stroke="#1b7bc2" stroke-width="3.1" stroke-linecap="round" fill="none"/>
<path d="M519.4 377.3h0M498.2 344.3h0M514.2 349.5h0M504.2 365.9h0M531.3 326.9h0M538.6 355.5h0M563.1 400.9h0M600.7 315.9h0M511.9 310.8h0M539.4 360.6h0M519.5 436.3h0M564.9 378.3h0M496.7 357.0h0M490.9 286.7h0M533.6 383.0h0M529.9 268.2h0M531.3 356.0h0M512.9 329.0h0M510.9 334.8h0M567.7 337.7h0M500.3 348.2h0M508.2 334.1h0M472.1 368.9h0M556.4 329.3h0M509.1 294.9h0M552.7 324.6h0M506.3 250.6h0M536.1 382.5h0M540.2 424.6h0M553.6 373.1h0M547.0 362.9h0M566.0 381.5h0M472.5 324.7h0M536.5 276.8h0M564.3 346.9h0M517.5 384.5h0M524.2 353.0h0M584.3 368.0h0M503.0 392.8h0M541.9 332.9h0M506.9 331.6h0M497.0 379.9h0M493.6 377.4h0M555.4 366.7h0M531.5 285.3h0M517.7 388.0h0M532.9 374.7h0M546.8 302.5h0M503.8 332.3h0M541.9 372.3h0M502.7 354.9h0M561.3 381.5h0M442.3 398.5h0M518.4 373.9h0M540.3 333.5h0M549.0 397.4h0M509.0 318.5h0M522.7 412.2h0M489.6 361.0h0M532.6 371.9h0M520.0 352.2h0M531.2 351.5h0M495.8 346.8h0M499.5 338.6h0M543.1 385.9h0M505.8 353.1h0M545.6 376.1h0M451.3 339.7h0M576.2 401.6h0M511.3 368.2h0M497.2 370.3h0M489.7 458.0h0M546.3 382.6h0M531.9 303.6h0M549.3 337.6h0M590.0 297.7h0M512.1 361.4h0M547.6 327.4h0M565.8 401.2h0M511.7 349.2h0M524.9 375.6h0M516.9 313.6h0M529.8 281.7h0M532.1 367.9h0M554.8 371.7h0M533.0 264.8h0M521.9 391.7h0M549.5 341.4h0M571.7 308.1h0M525.1 360.5h0M559.6 392.8h0M532.7 278.8h0M557.7 273.9h0M527.8 424.7h0M501.7 297.2h0M513.7 357.2h0M489.3 333.0h0M532.4 405.1h0M440.2 369.4h0M531.9 419.7h0M573.5 278.3h0M569.0 416.5h0M520.8 364.6h0M536.9 346.0h0M566.2 318.7h0M554.7 303.1h0M489.5 289.2h0M496.5 240.7h0M540.2 337.7h0M523.6 317.6h0M542.4 309.5h0M517.9 366.6h0M504.9 381.0h0M541.3 389.6h0M541.1 354.8h0M534.5 310.2h0M541.8 384.1h0M488.6 409.2h0M446.0 323.7h0M540.0 418.9h0M531.5 333.1h0M562.4 299.9h0M541.3 352.7h0M529.1 367.1h0M603.8 318.3h0M527.4 330.1h0M540.4 351.9h0M552.9 399.9h0M531.5 327.0h0M460.2 293.6h0M509.3 461.4h0M539.9 313.5h0M570.1 374.1h0M520.6 367.8h0M543.9 293.3h0M559.3 326.5h0M528.9 361.9h0M536.1 370.2h0M510.9 352.3h0M524.2 414.4h0M513.7 417.0h0M498.9 382.6h0M556.5 351.0h0M538.4 360.6h0M531.5 365.6h0M507.8 372.3h0M518.4 362.0h0M579.4 366.1h0M555.7 337.7h0M539.5 323.4h0M523.3 340.4h0M516.1 279.8h0M527.9 347.5h0M547.6 375.1h0M498.1 325.3h0M514.8 366.5h0M514.5 360.5h0M555.0 270.5h0M527.5 330.1h0M571.0 344.9h0M539.6 338.4h0M543.9 349.7h0M538.4 385.1h0M543.9 437.5h0M454.9 303.1h0M537.5 316.8h0M522.7 367.1h0M536.2 354.3h0M477.2 428.7h0M534.9 401.8h0M566.6 373.7h0M508.1 410.1h0M548.2 290.1h0M532.7 269.1h0M531.1 406.5h0M552.8 414.2h0M524.3 345.3h0M493.9 353.8h0M521.0 349.5h0M565.3 315.9h0M540.7 360.1h0M518.2 343.6h0M475.2 340.5h0M516.6 356.9h0M489.5 360.0h0M490.6 414.7h0M485.1 374.1h0M559.7 369.5h0M614.1 342.8h0M516.4 304.3h0M560.8 378.7h0M519.9 299.7h0M500.9 376.5h0M523.0 344.0h0M494.7 416.7h0M541.4 413.0h0M537.4 346.5h0M539.0 319.6h0M546.9 371.3h0M546.2 363.8h0M513.3 352.2h0M579.2 347.9h0M533.5 362.6h0M515.8 357.4h0M490.9 344.4h0M502.6 367.8h0M576.3 370.1h0M514.3 365.6h0M529.0 389.9h0M509.6 383.6h0M531.9 355.4h0M562.1 366.4h0M539.2 370.9h0M556.5 358.4h0M513.9 394.8h0M496.0 356.2h0M535.2 350.6h0M534.5 297.0h0M514.4 351.6h0M532.9 343.3h0M514.7 328.9h0M491.9 343.2h0M587.2 334.4h0M552.3 353.1h0M480.2 401.0h0M526.8 321.1h0M549.1 387.8h0M477.6 341.5h0M478.8 408.3h0M500.7 384.6h0M559.7 399.3h0M555.9 454.2h0M526.4 355.8h0M525.9 372.8h0M546.8 337.7h0M540.7 387.2h0M546.1 380.7h0M497.4 319.7h0M532.1 314.6h0M538.4 347.9h0M524.4 379.5h0M544.8 320.9h0M545.9 287.2h0M563.0 328.3h0M527.4 325.4h0M508.0 349.0h0M497.5 358.8h0M554.0 399.5h0M547.2 268.1h0M483.4 353.6h0M546.1 342.0h0M484.3 339.4h0M541.7 352.7h0M468.6 299.8h0M556.8 465.3h0M527.0 319.5h0M511.1 366.9h0M528.3 394.2h0M603.6 403.2h0M528.4 385.7h0M515.7 315.7h0M542.2 369.0h0M486.3 363.7h0M443.3 367.6h0M510.4 419.0h0M530.9 359.8h0M525.3 371.4h0M506.5 356.0h0M499.5 312.0h0M520.2 249.0h0M543.8 398.1h0M534.5 355.3h0M517.8 346.8h0M480.0 344.1h0M479.7 385.9h0M531.4 364.5h0M575.9 382.9h0M527.5 343.4h0M518.7 350.7h0M533.8 347.7h0M513.9 383.1h0M535.3 309.2h0M484.0 359.6h0M546.5 348.3h0M530.5 366.6h0M500.7 324.2h0M513.3 255.6h0M522.3 351.0h0M525.2 336.5h0M531.5 384.8h0M524.3 303.6h0M515.9 369.3h0M527.4 355.0h0M606.4 322.2h0M530.1 387.8h0M517.5 316.5h0M512.8 408.4h0M533.5 311.8h0M492.0 369.6h0M564.4 373.9h0M551.8 359.7h0M550.6 363.4h0M495.0 368.9h0M522.6 343.2h0M511.7 373.5h0M529.0 365.7h0M552.8 362.4h0M508.6 298.9h0M509.8 329.8h0M505.0 460.1h0M497.3 315.0h0M480.6 328.8h0M464.1 274.7h0M534.4 365.0h0M533.9 309.1h0M541.1 384.0h0M527.0 338.6h0M550.1 366.7h0M499.7 399.9h0M532.6 330.7h0M531.0 270.1h0M515.6 302.4h0M515.0 350.8h0M594.7 387.6h0M498.9 383.4h0M552.5 374.7h0M499.8 309.7h0M538.2 354.1h0M516.7 382.7h0M531.5 382.3h0M530.1 365.9h0M539.5 377.7h0M461.5 357.8h0M539.4 347.2h0M554.7 284.5h0M509.3 264.0h0M538.4 384.5h0M502.7 414.0h0M573.4 266.7h0M513.8 345.1h0M466.2 348.9h0M531.7 388.0h0M554.8 279.5h0M489.5 339.6h0M540.9 375.2h0M591.3 367.4h0M521.1 400.2h0M512.7 324.8h0M532.2 293.9h0M529.1 316.8h0M576.2 314.6h0M542.4 360.3h0M508.4 402.4h0M518.3 253.0h0M530.1 412.3h0M518.9 314.0h0M557.5 361.0h0M505.2 336.7h0M530.1 359.5h0M494.8 356.3h0M519.8 415.3h0M522.1 351.4h0M501.0 412.0h0M502.9 313.1h0M503.9 326.2h0M534.2 356.7h0M504.5 322.8h0M532.8 366.2h0M514.6 405.7h0M529.2 398.0h0M477.8 372.6h0M551.7 354.0h0M541.6 314.7h0M511.9 405.1h0M499.9 382.1h0M536.4 340.7h0M490.4 373.4h0M528.6 320.3h0M541.4 352.5h0M551.4 340.9h0M538.5 263.6h0M504.1 355.3h0M497.0 288.7h0M539.3 379.6h0M518.7 353.6h0M560.2 375.0h0M522.2 366.0h0M517.7 354.6h0M531.3 363.4h0M531.2 365.1h0M486.4 341.2h0M513.1 331.0h0M548.0 335.5h0M496.5 328.1h0M523.9 347.5h0M502.8 301.8h0M534.6 324.9h0M513.8 325.7h0M578.2 337.7h0M523.5 270.0h0M549.1 354.2h0M512.2 357.9h0M537.1 298.6h0M544.2 289.1h0M480.5 350.0h0M519.9 342.1h0M543.6 410.1h0M559.1 299.6h0M569.1 331.9h0M535.3 403.3h0M531.0 348.6h0M561.5 308.0h0M558.2 342.3h0M561.0 361.2h0M521.3 274.9h0M503.4 337.3h0M498.2 375.7h0M602.9 305.8h0M471.5 281.7h0M537.8 354.4h0M538.6 340.8h0M491.1 368.4h0M517.1 377.5h0M495.4 424.1h0M561.6 273.5h0M521.5 417.8h0M501.5 424.3h0M524.0 385.0h0M482.6 246.6h0M562.7 396.8h0M590.3 371.6h0M538.9 384.6h0M512.7 399.2h0M565.6 278.1h0M518.8 436.9h0M530.0 320.5h0M514.0 333.9h0M499.3 413.3h0M502.5 344.2h0M495.5 373.7h0M522.3 403.6h0M462.3 306.1h0M541.8 359.3h0M523.9 311.6h0M567.1 355.3h0M528.0 295.6h0M549.1 338.4h0M520.4 291.8h0M507.8 391.0h0M546.5 354.7h0M469.3 337.9h0M551.2 291.3h0M613.0 397.5h0M554.7 319.7h0M511.7 351.2h0M522.8 382.3h0M521.2 260.0h0M482.1 370.9h0M571.4 391.9h0M547.1 364.4h0M526.8 312.5h0M542.1 279.3h0M528.7 349.0h0M533.4 398.3h0M548.0 373.8h0M517.9 309.3h0M522.2 391.1h0M531.5 341.9h0M551.5 307.0h0M561.9 398.4h0M534.3 388.0h0M483.9 376.0h0M472.4 386.7h0M515.4 359.0h0M534.9 336.9h0M511.9 302.9h0M545.9 339.9h0M514.0 401.8h0M509.5 341.6h0M529.4 348.7h0M509.3 336.6h0M482.5 292.8h0M530.1 395.5h0M525.2 361.4h0M560.5 414.3h0M494.6 352.2h0M541.1 335.3h0M532.7 325.6h0M507.0 324.6h0M533.3 345.8h0M512.0 408.1h0M498.1 357.6h0M527.0 327.6h0M530.5 414.9h0M539.3 366.1h0M522.1 317.2h0M555.2 392.0h0M498.3 352.9h0M532.3 360.6h0M543.4 304.7h0M484.8 334.9h0M531.8 411.7h0M516.4 321.8h0M511.6 400.3h0M495.8 363.1h0M520.4 354.9h0M497.8 404.1h0M535.6 392.5h0M540.2 342.2h0M500.5 344.1h0M551.1 408.0h0M542.4 368.9h0M531.3 365.5h0M495.0 303.0h0M519.1 373.5h0M525.4 309.8h0M509.0 362.9h0M466.1 313.5h0M522.4 361.2h0M463.9 341.5h0M535.6 361.9h0M500.3 357.9h0M578.0 275.4h0M545.2 361.6h0M536.9 448.5h0M497.6 376.2h0M532.4 347.3h0M497.8 380.3h0M517.3 355.9h0M569.5 369.6h0M480.5 362.3h0M502.5 383.0h0M522.6 323.1h0M543.5 388.2h0M547.5 295.3h0M543.5 291.3h0M541.5 344.1h0M590.7 360.4h0M496.2 340.3h0M550.4 397.8h0M512.8 339.2h0M509.1 346.2h0M549.0 339.9h0M545.5 400.8h0M528.6 379.1h0M521.1 376.3h0M501.2 350.0h0M564.4 362.5h0M502.7 345.9h0M443.6 321.1h0M590.8 334.1h0M525.6 316.8h0M482.7 315.2h0M479.2 259.7h0M513.5 297.6h0M469.9 393.1h0M468.3 319.8h0M541.3 300.2h0M516.5 379.6h0M545.8 380.6h0M500.8 370.4h0M503.8 360.3h0M551.3 376.3h0M524.0 316.6h0M539.0 319.9h0M548.8 361.9h0M530.3 383.6h0M505.2 348.1h0M536.7 354.7h0M556.2 361.7h0M524.7 342.5h0M530.1 339.2h0M532.1 288.7h0M544.2 337.4h0M495.7 375.1h0M528.6 378.9h0M515.5 370.0h0M511.4 313.9h0M486.7 433.5h0M478.4 329.2h0M542.0 373.4h0M541.1 365.5h0M512.4 320.0h0M495.0 344.5h0M510.6 300.9h0M521.5 371.0h0M566.4 358.3h0M550.0 363.4h0M483.4 365.2h0M485.4 405.2h0M464.3 421.4h0M544.7 397.2h0M545.0 333.7h0M513.3 332.4h0M513.1 379.8h0M476.4 406.4h0M482.4 360.0h0M557.3 289.8h0M501.7 326.0h0M497.0 363.5h0M523.8 369.2h0M539.3 393.1h0M508.8 232.3h0M542.4 365.0h0M536.7 371.9h0M585.1 350.5h0M539.9 432.4h0M492.2 331.2h0M524.7 376.0h0M510.5 370.1h0M511.5 315.0h0M560.3 353.7h0M492.7 354.6h0M507.1 367.6h0M536.9 318.2h0M542.4 415.9h0M524.0 362.4h0M538.9 308.1h0M555.9 369.1h0M518.1 328.9h0M564.8 322.9h0M483.3 402.2h0M485.2 430.7h0M517.6 345.6h0M546.8 346.0h0M527.0 391.1h0M529.1 371.1h0M521.4 308.9h0M522.4 345.9h0M528.6 395.8h0M528.5 335.1h0M592.9 368.8h0M581.8 354.8h0M510.9 356.7h0M489.5 437.2h0M486.4 338.9h0M493.7 347.4h0M535.6 419.1h0M489.2 350.3h0M525.7 399.7h0M581.9 385.9h0M473.9 384.5h0M527.4 402.1h0M560.2 319.9h0M530.9 356.0h0M534.4 347.6h0M580.6 331.1h0M520.2 328.0h0M511.1 433.6h0M501.1 367.7h0M530.8 380.3h0M502.0 420.7h0M548.6 328.5h0M535.1 334.5h0M563.3 406.0h0M507.4 357.8h0M506.4 313.0h0M520.8 317.6h0M576.7 380.5h0M539.2 358.9h0M476.0 411.2h0M513.3 406.2h0M514.5 348.0h0M570.8 289.5h0M527.9 393.1h0M526.2 326.2h0M557.0 421.1h0M536.1 301.8h0M530.5 364.0h0M529.6 330.2h0M554.1 435.4h0M571.3 372.9h0M556.1 367.2h0M510.2 338.3h0M521.2 348.7h0M443.3 378.5h0M543.5 380.7h0M546.4 313.0h0M551.7 369.8h0M492.3 397.8h0M446.2 433.0h0M555.6 398.2h0M559.9 411.3h0M474.1 323.4h0M518.1 368.6h0M528.6 337.9h0M524.4 348.5h0M498.2 389.5h0M516.5 352.8h0M570.0 385.5h0M529.8 312.1h0M595.2 275.7h0M497.8 409.5h0M515.9 400.7h0M533.7 372.0h0M569.6 359.9h0M518.1 299.6h0M549.5 379.5h0M540.5 328.6h0M547.5 369.2h0M498.4 361.2h0M515.6 301.9h0M567.1 355.7h0M517.4 302.1h0M567.5 375.9h0M544.1 363.5h0M551.1 352.0h0M507.5 362.2h0M503.5 328.9h0M502.9 373.6h0M520.3 410.0h0M609.2 357.0h0M556.7 385.8h0M496.2 342.3h0M547.6 342.7h0M532.3 391.5h0M479.5 453.8h0M480.9 294.6h0M510.3 421.8h0M587.1 355.7h0M521.0 303.7h0M537.4 347.1h0M564.1 381.2h0M457.6 401.0h0M472.3 378.4h0M530.5 337.2h0M501.4 390.5h0M522.3 318.8h0M496.6 358.6h0M509.1 398.3h0M540.2 328.1h0M483.0 332.9h0M544.3 347.2h0M532.1 390.3h0M509.7 349.9h0M499.5 468.8h0M527.3 373.1h0M503.2 365.9h0M508.7 376.9h0M542.6 368.8h0M525.0 315.1h0M516.3 377.6h0M581.3 376.6h0M493.5 330.7h0M544.6 356.9h0M540.3 367.7h0M512.2 347.5h0M494.2 321.4h0M535.9 348.0h0M547.5 327.5h0M535.1 354.2h0M512.3 363.7h0M494.1 426.0h0M529.8 374.0h0M517.9 263.9h0M544.9 296.2h0M461.4 336.0h0M510.8 412.7h0M520.8 350.9h0M502.2 375.3h0M490.8 363.5h0M551.4 404.4h0M469.0 329.6h0M563.7 364.5h0M512.7 380.0h0M523.5 315.4h0M543.5 440.2h0M524.9 381.4h0M538.3 347.6h0M548.3 292.7h0M554.2 318.8h0M471.2 364.6h0M552.2 321.9h0M553.1 325.6h0M535.7 365.4h0M553.8 377.3h0M539.3 345.9h0M533.4 326.4h0M505.8 332.0h0M467.2 333.4h0M517.4 328.5h0M584.1 361.6h0M518.1 355.8h0M560.1 367.4h0M527.9 317.0h0M566.7 388.9h0M510.2 350.8h0M527.1 424.6h0M492.9 295.9h0M514.8 330.9h0M577.2 332.1h0M481.5 349.6h0M529.9 324.7h0M537.7 304.3h0M509.7 368.1h0M535.5 350.7h0M501.6 345.5h0M563.0 298.1h0M498.6 372.6h0M573.6 342.7h0M566.4 367.3h0M505.5 361.2h0M511.9 330.4h0M526.1 391.3h0M545.0 333.1h0M534.3 375.6h0M542.6 330.2h0M541.4 375.4h0M440.3 346.1h0M518.8 298.6h0M540.4 259.2h0M543.6 382.4h0M552.0 252.5h0M532.7 353.5h0M512.0 357.4h0M514.2 337.0h0M559.3 333.3h0M509.0 356.9h0M497.6 368.7h0M533.4 382.1h0M535.8 355.2h0M463.5 386.8h0M510.6 373.9h0M453.4 408.1h0M483.2 252.6h0M520.3 346.1h0M483.4 327.1h0M525.5 405.6h0M564.3 329.0h0M529.4 342.9h0M511.7 312.6h0M530.2 397.1h0M515.9 344.1h0M559.4 297.7h0M533.3 339.8h0M521.1 322.7h0M510.3 370.8h0M543.9 324.3h0M494.5 325.3h0M499.8 313.4h0M500.4 335.4h0M549.9 341.3h0M491.1 347.2h0M517.1 372.7h0M551.3 304.2h0M545.6 286.9h0M516.8 358.7h0M575.1 357.2h0M539.2 374.4h0M501.2 418.8h0M553.0 358.3h0M496.7 397.7h0M509.2 358.1h0M519.6 384.7h0M563.6 371.2h0M480.7 331.8h0M512.4 360.2h0M496.3 285.0h0M469.8 384.9h0M509.0 389.6h0M556.7 343.2h0M498.2 327.3h0M497.5 323.9h0M521.5 360.1h0M450.0 321.0h0M508.5 384.1h0M498.6 364.3h0M484.0 385.8h0M528.2 379.4h0M522.9 360.0h0M471.1 345.4h0M521.1 361.9h0M518.2 293.4h0M575.2 309.1h0M519.9 354.9h0M519.4 317.7h0M525.2 362.0h0M566.5 345.0h0M526.6 352.5h0M490.6 335.1h0M509.5 353.3h0M476.0 379.4h0M569.1 340.5h0M620.4 318.2h0M536.4 400.0h0M506.1 306.5h0M493.7 332.6h0M552.6 372.7h0M533.3 321.4h0M500.7 351.7h0M574.2 404.4h0M540.4 324.0h0M504.3 311.7h0M543.8 370.8h0M552.4 344.9h0M487.4 393.5h0M519.0 387.8h0M568.7 402.6h0M545.1 366.8h0M505.1 412.3h0M523.4 350.2h0M491.7 372.2h0M588.6 323.2h0M487.4 339.5h0M518.8 430.7h0M501.9 372.4h0M544.5 380.6h0M506.1 373.8h0M514.8 381.2h0M530.3 331.4h0M569.7 304.0h0M566.0 288.1h0M535.6 290.4h0M516.2 396.6h0M510.8 320.1h0M544.2 345.9h0M494.1 346.4h0M539.6 385.0h0M512.5 280.3h0M506.7 331.3h0M527.9 348.7h0M550.8 417.9h0M508.0 375.3h0M534.4 380.4h0M487.1 351.1h0M494.7 309.9h0M509.5 347.4h0M508.1 422.8h0M541.7 337.6h0M518.6 326.4h0M540.9 336.2h0M531.7 339.3h0M558.0 338.0h0M522.2 307.0h0M490.0 387.2h0M530.7 396.2h0M477.2 326.7h0M527.0 388.9h0M539.7 357.7h0M543.9 340.8h0M528.6 391.1h0M545.1 344.5h0M531.6 378.6h0M503.3 301.4h0M516.7 386.2h0M522.8 359.0h0M517.8 333.7h0M593.8 356.4h0M543.8 406.6h0M528.0 367.4h0M594.6 299.3h0M523.5 307.9h0M531.8 372.4h0M498.9 387.8h0M552.5 364.2h0M561.9 330.2h0M440.3 357.2h0M505.9 382.8h0M571.3 348.5h0M586.3 433.7h0M476.2 318.5h0M559.0 413.3h0M496.6 405.2h0M537.9 322.0h0M508.1 336.9h0M611.3 350.5h0M570.7 261.5h0M535.8 380.5h0M539.6 303.0h0M507.7 305.3h0M521.7 337.1h0M536.5 321.9h0M552.2 371.2h0M525.6 341.2h0M535.2 317.2h0M522.5 404.1h0M518.3 347.8h0M520.8 386.2h0M512.3 359.4h0M487.4 379.3h0M499.8 352.1h0M542.7 342.1h0M525.0 355.9h0M499.7 339.2h0M542.9 363.0h0M538.3 384.6h0M552.3 345.4h0M526.1 393.7h0M510.5 355.8h0M538.0 352.5h0M494.9 299.2h0M551.4 377.4h0M545.4 323.7h0M514.5 349.0h0M543.4 371.3h0M552.4 396.5h0M516.8 402.6h0M489.0 284.4h0M431.0 349.5h0M495.6 329.3h0M527.6 376.5h0M521.7 284.9h0M485.3 401.0h0M547.3 364.9h0M505.2 327.5h0M518.5 329.3h0M583.4 324.1h0M505.2 303.4h0M504.0 350.5h0M512.6 376.5h0M532.6 380.1h0M503.6 300.7h0M571.6 429.1h0M527.2 375.9h0M522.2 338.6h0M508.4 357.2h0M560.8 339.9h0M528.1 371.3h0M509.6 403.5h0M457.9 351.3h0M550.1 298.7h0M543.1 340.2h0M580.0 360.6h0M555.6 424.8h0M452.3 319.1h0M517.2 318.9h0M484.3 374.2h0M528.2 393.8h0M509.1 385.5h0M514.0 363.5h0M464.1 307.4h0M540.3 332.0h0M530.7 341.5h0M556.4 433.2h0M502.9 337.1h0M522.8 364.5h0M513.3 332.8h0M529.7 341.5h0M499.9 316.4h0M521.8 281.3h0M575.4 331.2h0M506.1 357.6h0M556.1 302.9h0M540.6 359.7h0M521.9 321.1h0M542.2 352.9h0M532.6 327.5h0M516.5 358.0h0M538.9 294.2h0M589.4 347.9h0M567.0 448.1h0M526.0 377.8h0M531.5 369.2h0M500.0 450.6h0M481.0 412.8h0M507.5 368.7h0M514.5 323.3h0M510.2 330.3h0M529.9 257.1h0M594.9 318.2h0M520.0 364.0h0M567.3 298.9h0M561.5 289.9h0M518.8 324.5h0M538.5 306.0h0M551.8 337.4h0M575.2 260.0h0M522.1 379.0h0M556.5 332.7h0M500.5 347.8h0M522.1 370.4h0M508.5 336.1h0M504.8 404.7h0M593.7 361.8h0M515.6 318.0h0M534.5 340.6h0M515.6 359.5h0M606.2 410.5h0M584.5 349.2h0M548.7 374.5h0M522.9 368.1h0M476.9 364.1h0M525.8 360.5h0M504.3 354.5h0M491.5 403.4h0M490.4 327.2h0M521.7 360.6h0M566.7 381.7h0M530.0 346.8h0M527.6 412.5h0M495.2 372.5h0M499.7 345.4h0M572.0 319.4h0M513.4 317.8h0M508.6 335.6h0M504.0 338.8h0M529.0 358.0h0M531.7 337.2h0M530.2 363.5h0M511.1 352.9h0M535.6 350.5h0M583.3 415.2h0M517.7 337.6h0M549.2 364.7h0M504.9 397.6h0M507.5 326.8h0M562.0 342.9h0M452.0 272.4h0M556.7 385.5h0M528.6 393.1h0M566.7 301.6h0M514.2 379.5h0M569.8 279.4h0M499.8 351.9h0M562.9 407.8h0M549.0 360.0h0M554.7 448.2h0M556.5 345.5h0M560.3 358.4h0M512.7 307.0h0M502.1 250.5h0M542.1 414.6h0M526.2 346.3h0M520.3 387.1h0M529.9 373.0h0M612.7 347.6h0M532.1 349.4h0M492.0 345.8h0M539.5 289.9h0M517.1 340.9h0M516.9 367.3h0M540.9 344.3h0M548.2 336.7h0M541.2 384.6h0M527.0 392.8h0M586.5 383.0h0M562.5 326.9h0M561.5 409.8h0M518.5 353.3h0M496.5 363.1h0M495.8 353.8h0M537.5 375.4h0M516.1 383.4h0M511.4 375.6h0M533.4 379.7h0M601.2 311.2h0M542.3 311.4h0M552.2 322.0h0M512.2 366.8h0M499.2 338.0h0M537.0 377.2h0M480.4 404.3h0M534.5 288.6h0M545.4 361.0h0M560.3 356.9h0M512.3 420.1h0M483.7 321.4h0M522.5 392.8h0M540.0 373.2h0M517.6 367.0h0M527.6 374.6h0M473.8 341.3h0M534.5 308.9h0M515.8 344.2h0M535.6 340.1h0M635.1 328.1h0M530.7 371.8h0M523.1 339.4h0M535.2 303.2h0M498.4 367.3h0M557.5 351.5h0M520.0 352.7h0M543.8 352.1h0M502.1 418.6h0M536.3 308.5h0M542.1 371.7h0M454.7 345.9h0M546.2 365.1h0M494.6 301.8h0M569.6 425.2h0M520.6 261.9h0M554.0 382.0h0M517.9 336.7h0M515.8 395.2h0M530.0 295.4h0M504.9 397.4h0M517.3 369.2h0M554.9 353.6h0M505.2 412.0h0M504.6 384.8h0M501.4 372.4h0M538.5 318.2h0M503.4 365.2h0M515.9 297.9h0M523.9 336.2h0M545.9 360.6h0M501.5 339.3h0M516.7 345.7h0M520.8 366.0h0M547.8 338.6h0M535.9 373.6h0M501.4 331.3h0M527.7 308.7h0M542.8 358.5h0M572.6 329.6h0M615.1 357.7h0M529.8 355.1h0M476.9 307.2h0M539.9 390.5h0M524.7 350.4h0M633.7 358.1h0M495.1 359.3h0M506.9 359.6h0M523.3 371.3h0M556.7 366.6h0M505.2 340.7h0M500.8 342.7h0M604.8 280.8h0M544.7 464.8h0M508.7 394.0h0M549.9 290.5h0M511.3 381.1h0M518.4 363.7h0M536.4 309.6h0M537.6 359.4h0M506.6 388.5h0M579.6 285.8h0M573.1 357.3h0M526.8 352.7h0M580.3 312.4h0M509.7 355.8h0M527.8 294.5h0M523.9 330.0h0M528.6 389.0h0M527.4 322.0h0M533.4 273.8h0M518.5 353.9h0M570.9 311.3h0M526.6 358.9h0M549.0 361.4h0M513.9 353.1h0M510.5 356.9h0M535.2 352.1h0M553.2 378.5h0M501.4 390.9h0M472.0 303.2h0M560.0 293.1h0M541.7 395.5h0M511.4 362.5h0M521.8 397.7h0M581.5 443.3h0M528.4 371.7h0M529.7 379.8h0M582.5 371.0h0M526.0 294.5h0M585.3 346.9h0M511.8 295.0h0M500.4 386.6h0M565.6 352.8h0M535.8 236.4h0M575.7 367.1h0M515.2 378.1h0M505.3 366.4h0M500.4 326.6h0M507.9 373.5h0M586.2 321.6h0M505.4 333.4h0M510.3 379.4h0M511.4 380.9h0M558.4 328.4h0M591.4 308.8h0M523.1 380.3h0M508.1 376.8h0M515.9 364.5h0M544.9 369.0h0M558.3 375.9h0M526.1 316.7h0M536.2 346.9h0M509.4 361.9h0M514.5 384.8h0M522.9 342.2h0M491.0 374.9h0M503.0 370.6h0M445.2 369.2h0M537.0 400.7h0M505.3 360.4h0M554.5 355.8h0M485.6 273.7h0M508.7 328.9h0M544.6 313.9h0M505.4 306.9h0M520.7 353.5h0M548.0 327.2h0M507.9 374.8h0M589.1 332.6h0M572.5 391.2h0M532.3 387.0h0M515.5 342.6h0M505.2 352.0h0M527.7 401.4h0M523.5 343.9h0M500.9 389.7h0M532.5 309.7h0M496.8 401.9h0M523.8 356.8h0M503.1 426.7h0M538.0 318.9h0M497.1 396.6h0M533.6 348.1h0M550.1 292.6h0M508.1 283.3h0M505.0 316.1h0M520.0 338.4h0M537.2 288.5h0M510.6 402.9h0M534.4 398.5h0M491.4 404.1h0M555.3 410.6h0M501.3 338.0h0M505.8 376.2h0M522.5 367.6h0M527.3 366.1h0M479.4 389.3h0M525.3 394.6h0M473.1 408.3h0M550.3 324.5h0M517.9 384.7h0M485.3 364.1h0M491.0 353.4h0M446.2 332.1h0M542.2 393.9h0M533.1 369.7h0M548.6 357.4h0M551.6 369.2h0M523.8 307.4h0M534.1 358.9h0M535.0 409.7h0M542.7 399.2h0M554.8 254.4h0M478.4 335.1h0M517.8 294.9h0M534.4 362.3h0M502.0 352.2h0M510.6 396.8h0M516.6 375.1h0M505.2 337.1h0M582.0 296.6h0M551.1 300.9h0M489.1 338.1h0M579.5 360.8h0M503.7 338.1h0M536.8 360.9h0M519.0 303.2h0M478.9 418.3h0M489.3 410.5h0M556.4 337.3h0M562.2 423.2h0M541.3 314.5h0M538.2 345.6h0M521.5 360.2h0M526.2 327.1h0M531.0 384.1h0M493.2 390.4h0M481.4 450.3h0M483.4 342.3h0M464.6 379.3h0M543.0 336.6h0M596.4 367.6h0M517.4 341.2h0M474.2 392.1h0M501.9 324.0h0M552.1 329.5h0M528.0 341.6h0M530.5 348.9h0M520.8 349.0h0M489.7 349.4h0M496.2 335.7h0M517.4 303.8h0M550.9 394.8h0M540.3 349.2h0M527.4 385.9h0M505.4 342.9h0M534.8 355.8h0M529.7 395.6h0M559.6 317.3h0M474.0 408.0h0M488.4 309.5h0M534.2 333.0h0M505.5 330.8h0M522.7 321.1h0M520.6 371.8h0M448.0 400.5h0M497.6 353.9h0M544.1 320.8h0M502.6 431.3h0M545.1 363.3h0M519.9 356.8h0M523.2 341.8h0M560.5 364.5h0M490.1 337.2h0M520.4 365.1h0M504.1 348.3h0M506.4 356.1h0M523.4 375.1h0M492.6 368.2h0M552.2 367.0h0M544.0 306.7h0M537.2 400.1h0M524.3 295.7h0M584.8 374.8h0M537.8 385.0h0M520.3 365.6h0M473.5 379.0h0M513.2 313.5h0M525.8 377.5h0M590.6 368.9h0M447.5 398.3h0M455.7 269.6h0M556.7 326.9h0M515.7 361.4h0M505.9 376.5h0M544.5 273.1h0M583.6 415.9h0M577.7 276.6h0M558.6 275.3h0M497.0 361.6h0M558.8 370.6h0M505.2 241.4h0M513.7 355.4h0M517.0 356.6h0M496.6 353.7h0M530.1 377.2h0M529.0 333.4h0M593.8 289.9h0M508.0 371.1h0M500.2 356.9h0M513.3 324.2h0M504.9 409.9h0M530.9 339.8h0M533.5 345.3h0M492.4 310.6h0M529.8 332.6h0M541.6 346.8h0M599.9 320.0h0M584.9 337.7h0M538.8 399.1h0M533.6 336.9h0M521.0 345.9h0M532.8 269.0h0M586.0 391.0h0M520.2 375.8h0M592.1 377.4h0M563.2 362.7h0M546.8 363.4h0M502.8 346.9h0M527.3 340.1h0M510.1 394.0h0M517.9 367.9h0M502.8 387.4h0M574.2 427.7h0M548.1 378.4h0M543.9 405.4h0M544.0 369.2h0M594.4 433.6h0M481.0 347.4h0M589.5 358.5h0M502.0 395.9h0M518.4 368.2h0M530.0 365.0h0M524.8 305.6h0M472.1 444.5h0M527.0 371.2h0M509.7 351.0h0M552.5 312.9h0M562.2 344.5h0M512.1 370.8h0M487.1 320.3h0M500.2 368.5h0M524.9 344.2h0M527.8 300.1h0M539.6 328.7h0M554.5 317.7h0M540.0 432.2h0M526.3 391.8h0M534.1 388.5h0M537.4 291.9h0M549.6 365.9h0M550.6 365.9h0M546.9 377.0h0M584.2 300.3h0M511.4 355.7h0M542.3 397.2h0M509.3 351.2h0M530.7 347.2h0M467.1 326.8h0M499.0 297.1h0M514.7 382.2h0M552.4 333.0h0M530.7 360.3h0M517.6 340.8h0M531.2 359.7h0M523.2 377.7h0M551.7 352.5h0M493.5 317.5h0M523.1 396.4h0M549.5 368.8h0M549.2 326.8h0M476.2 386.1h0M588.7 307.4h0M539.4 396.1h0M525.7 320.8h0M515.9 333.9h0M470.0 373.2h0M530.4 343.1h0M500.4 365.0h0M539.3 347.4h0M471.0 347.0h0M518.7 297.1h0M513.0 330.5h0M533.2 339.3h0M562.3 355.4h0M516.1 301.7h0M570.6 389.3h0M510.8 410.1h0M547.7 246.9h0M516.6 370.7h0M550.7 373.4h0M541.3 323.8h0M534.6 344.8h0M521.4 315.2h0M504.3 324.8h0M532.7 344.8h0M554.8 356.7h0M531.0 307.9h0M537.1 406.6h0M545.3 370.4h0M548.4 374.8h0M523.9 333.4h0M533.7 281.4h0M531.2 334.0h0M524.4 345.6h0M530.7 340.9h0M474.7 327.2h0M498.7 342.7h0M540.1 314.2h0M515.9 352.2h0M571.8 286.9h0M485.2 325.7h0M545.3 244.4h0M519.6 395.7h0M512.7 359.2h0M492.6 375.4h0M524.0 328.0h0M525.1 414.3h0M538.3 333.0h0M495.1 307.7h0M501.1 397.0h0M525.1 396.4h0M510.4 341.0h0M487.1 358.1h0M556.1 317.9h0M509.8 363.7h0M536.0 355.3h0M479.8 404.6h0M568.9 389.1h0M610.3 392.3h0M567.6 365.0h0M514.0 379.5h0M563.7 387.2h0M473.6 325.1h0M525.4 290.0h0M495.8 377.3h0M449.0 348.2h0M486.4 344.9h0M564.0 429.8h0M498.1 330.2h0M522.4 420.9h0M574.0 354.0h0M476.6 410.2h0M498.7 452.5h0M503.4 367.0h0M537.2 276.7h0M534.5 376.2h0M546.1 346.2h0M515.5 348.3h0M524.6 391.3h0M513.8 310.1h0M514.2 292.2h0M503.8 388.0h0M530.1 440.0h0M510.4 329.4h0M576.6 404.1h0M555.7 403.7h0M499.8 359.4h0M526.0 349.8h0M527.2 369.2h0M557.0 378.0h0M537.4 292.0h0M536.7 349.1h0M533.4 334.7h0M498.4 325.3h0M555.0 305.1h0M528.5 360.0h0M515.5 354.8h0M578.6 390.2h0M506.8 350.0h0M524.8 364.9h0M533.5 296.0h0M492.0 425.2h0M499.7 308.2h0M518.5 375.1h0M529.1 405.5h0M571.0 370.7h0M570.1 332.6h0M506.6 372.9h0M529.7 313.7h0M531.3 410.5h0M445.2 354.1h0M530.5 390.8h0M507.9 400.2h0M520.7 381.1h0M532.8 319.1h0M486.5 376.7h0M502.2 337.1h0M553.2 270.1h0M507.1 352.3h0M518.5 368.8h0M603.5 405.7h0M521.9 377.6h0M496.8 395.2h0M489.6 352.6h0M525.4 357.4h0M569.6 410.5h0M507.8 380.8h0M520.2 322.3h0M579.7 355.9h0M480.8 337.2h0M543.9 335.9h0M517.0 344.1h0M540.4 339.2h0M531.1 372.2h0M492.1 321.4h0M573.2 251.8h0M580.9 306.8h0M601.2 385.2h0M510.7 355.6h0M507.3 357.9h0M496.5 368.6h0M532.1 315.2h0M534.3 409.7h0M491.2 376.6h0M576.1 287.5h0M523.1 355.6h0M536.4 340.6h0M524.3 425.9h0M516.7 324.7h0M547.8 332.0h0M546.8 370.1h0M529.8 340.3h0M516.2 356.8h0M528.0 391.7h0M516.9 356.6h0M514.1 458.2h0M548.3 386.3h0M538.1 414.4h0M549.4 347.7h0M560.9 333.0h0M525.4 282.1h0M526.4 317.4h0M543.7 310.6h0M492.4 315.0h0M551.2 381.8h0M543.6 359.8h0M491.7 363.5h0M540.1 382.0h0M504.0 365.6h0M542.2 346.6h0M500.1 353.2h0M525.4 352.0h0M538.3 319.5h0M545.7 333.5h0M531.8 357.2h0M550.2 362.0h0M539.7 378.5h0M489.9 380.9h0M512.3 447.3h0M535.0 308.2h0M513.7 358.2h0M490.4 408.6h0M545.2 351.2h0M516.6 339.2h0M531.1 314.8h0M527.7 374.3h0M526.0 373.0h0M554.0 412.7h0M525.0 332.3h0M541.7 394.5h0M514.8 257.1h0M527.4 326.7h0M530.9 353.1h0M507.3 401.1h0M552.4 367.1h0M549.5 399.0h0M493.8 332.8h0M504.4 369.6h0M528.8 335.8h0M451.7 370.6h0M553.2 379.3h0M517.7 373.2h0M558.0 311.8h0M534.2 410.3h0M529.0 329.4h0M579.1 339.2h0M562.8 378.8h0M506.8 338.5h0M514.3 360.9h0M550.2 400.0h0M526.1 381.2h0M535.0 317.2h0M608.5 353.2h0M516.3 327.1h0M448.8 409.4h0M571.3 399.2h0M533.3 379.7h0M533.3 303.9h0M542.4 385.4h0M497.7 327.9h0M503.9 332.7h0M552.6 389.3h0M517.7 304.0h0M608.6 411.4h0M487.0 367.3h0M547.4 358.8h0M533.9 401.5h0M532.3 350.8h0M534.3 389.2h0M580.1 386.9h0M555.2 331.2h0M556.5 379.5h0M548.1 372.9h0M526.7 305.8h0M538.6 393.2h0M535.9 372.4h0M546.3 368.6h0M566.0 341.7h0M484.5 364.3h0M550.5 350.9h0M522.0 355.4h0M508.2 365.3h0M546.2 338.4h0M521.4 396.2h0M546.4 378.8h0M545.7 321.2h0M576.4 401.2h0M535.9 350.0h0M535.0 341.5h0M617.0 341.5h0M507.3 392.7h0M528.8 351.7h0M495.9 305.3h0M528.8 373.0h0M470.1 355.2h0M520.7 355.7h0M506.4 415.5h0M504.8 367.0h0M555.1 316.1h0M537.6 373.1h0M516.7 347.1h0M526.7 436.8h0M484.6 353.0h0M501.8 361.6h0M578.8 255.2h0M488.3 351.3h0M510.3 309.4h0M543.5 347.4h0M563.8 385.3h0M540.5 352.7h0M527.7 393.8h0M489.7 363.4h0M530.7 435.1h0M522.1 351.0h0M555.0 392.3h0M543.1 348.1h0M524.1 326.3h0M511.1 415.4h0M602.4 379.2h0M522.2 354.0h0M507.3 346.3h0M510.5 392.2h0M507.6 408.5h0M538.7 344.7h0M517.1 311.1h0M485.2 370.3h0M572.3 365.9h0M561.1 391.9h0M526.0 407.9h0M524.8 326.0h0M546.9 382.5h0M549.6 356.3h0M528.7 315.2h0M540.0 329.0h0M501.7 464.8h0M490.5 291.4h0M513.0 360.2h0M525.6 417.5h0M531.2 332.5h0M574.9 396.0h0M523.1 333.5h0M487.5 390.3h0M500.4 393.9h0M520.2 397.9h0M547.8 324.9h0M585.8 328.6h0M536.0 353.6h0M492.6 304.6h0M547.9 402.8h0M596.6 316.5h0M542.5 368.6h0M592.6 404.8h0M542.7 327.2h0M560.8 327.5h0M508.4 391.8h0M502.8 270.0h0M543.0 381.6h0M552.7 339.6h0M527.5 404.2h0M574.7 306.9h0M529.9 309.5h0M534.9 346.9h0M511.0 309.8h0M540.3 352.2h0M512.9 310.3h0M545.0 345.1h0M538.7 392.8h0M499.4 351.9h0M530.1 405.9h0M519.0 358.4h0M530.6 381.1h0M561.7 337.7h0M672.8 331.3h0M520.2 374.1h0M507.7 414.1h0M527.3 375.1h0M544.0 322.6h0M504.9 349.8h0M525.8 434.4h0M485.7 368.3h0M507.6 349.6h0M528.0 350.8h0M501.6 364.4h0M501.6 334.8h0M532.3 326.3h0M534.5 371.6h0M531.9 344.5h0M552.0 310.9h0M526.0 345.6h0M499.3 281.9h0M505.1 488.1h0M522.6 296.1h0M528.7 334.7h0M531.8 311.7h0M503.3 381.9h0M527.0 366.0h0M507.2 319.3h0M496.5 386.7h0M519.5 316.2h0M520.7 323.9h0M516.3 333.6h0M521.2 385.8h0M503.4 358.7h0M488.8 322.9h0M528.0 367.2h0M515.8 340.4h0M573.4 360.9h0M539.9 362.5h0M577.6 349.2h0M522.2 395.1h0M528.0 350.7h0M534.9 381.8h0M530.3 352.8h0M521.5 298.1h0M506.5 418.2h0M496.8 406.2h0M539.5 361.8h0M502.1 273.8h0M564.7 397.4h0M513.2 325.1h0M506.6 346.5h0M500.2 366.3h0M558.3 336.3h0M523.1 388.7h0M573.4 282.0h0M526.4 377.1h0M557.2 381.3h0M539.8 351.7h0M502.1 414.0h0M540.5 346.6h0M488.2 295.2h0M507.7 341.6h0M513.9 395.0h0M513.8 339.8h0M516.2 305.6h0M547.7 344.9h0M502.1 364.7h0M529.1 297.3h0M533.7 388.7h0M571.1 365.6h0M497.5 331.0h0M543.6 401.8h0M541.5 342.7h0M498.4 384.0h0M521.3 351.5h0M528.6 328.5h0M489.4 357.1h0M510.3 378.0h0M515.7 333.8h0M557.3 409.9h0M528.4 392.2h0M490.4 304.1h0M541.8 337.5h0M522.6 340.3h0M544.2 321.0h0M543.9 300.1h0M515.5 307.4h0M483.0 376.9h0M524.4 243.3h0M566.7 301.1h0M544.4 371.5h0M547.6 340.4h0M537.6 331.8h0M503.0 289.8h0M516.1 414.5h0M485.7 386.1h0M531.6 389.7h0M542.0 396.8h0M500.8 362.8h0M522.0 326.1h0M526.3 303.9h0M477.8 389.7h0M515.0 317.4h0M539.6 348.4h0M563.6 366.0h0M515.3 331.6h0M497.5 355.6h0M547.7 372.0h0M527.3 310.6h0M510.4 399.3h0M534.4 337.2h0M490.0 331.5h0M493.8 350.7h0M516.4 348.0h0M540.5 355.0h0M528.7 305.4h0M508.5 351.9h0M494.3 386.7h0M518.2 340.6h0M496.5 359.7h0M585.6 268.7h0M536.7 355.1h0M533.3 337.8h0M479.0 294.9h0M470.5 331.2h0M546.9 345.1h0M500.1 373.5h0M524.0 399.7h0M468.8 367.8h0M554.0 362.3h0M515.8 312.9h0M507.1 335.9h0M457.0 379.7h0M488.8 413.6h0M484.1 341.3h0M507.1 395.2h0M542.9 355.0h0M590.3 393.5h0M551.5 268.2h0M549.8 315.4h0M540.5 342.8h0M507.6 371.0h0M518.9 367.0h0M495.5 404.3h0M466.9 355.4h0M546.9 390.3h0M570.9 380.2h0M511.3 291.9h0M531.1 320.2h0M562.7 333.1h0M538.8 407.8h0M515.6 341.4h0M555.8 355.2h0M540.4 394.3h0M495.5 387.6h0M528.4 376.4h0M515.4 344.3h0M522.9 324.2h0M497.9 380.8h0M511.6 346.1h0M503.7 334.1h0M510.3 362.7h0M567.4 335.3h0M523.3 313.3h0M544.4 394.6h0M600.2 293.3h0M485.9 317.9h0M504.6 355.8h0M510.8 311.1h0M543.1 331.6h0M528.7 392.8h0M569.9 433.1h0M533.7 360.8h0M511.5 404.0h0M525.5 391.0h0M548.0 395.6h0M509.7 350.4h0M539.0 314.3h0M505.0 327.8h0M540.6 340.6h0M538.0 355.1h0M560.9 339.7h0M496.4 363.5h0M503.9 409.0h0M525.1 380.6h0M509.2 374.7h0M474.7 329.4h0M501.5 453.8h0M487.9 271.1h0M489.0 254.3h0M515.9 317.9h0M544.7 363.4h0M507.8 246.9h0M512.4 373.1h0M545.8 349.1h0M507.7 361.8h0M547.7 309.5h0M534.8 348.8h0M534.3 400.9h0M518.7 348.4h0M513.1 349.1h0M474.5 344.2h0M530.7 370.3h0M591.8 366.9h0M510.9 402.2h0M518.2 282.7h0M520.7 341.4h0M521.1 286.2h0M541.1 360.4h0M569.6 403.0h0M523.5 361.0h0M516.8 383.3h0M494.3 345.5h0M577.5 314.4h0M558.9 354.5h0M558.1 363.2h0M495.0 338.4h0M567.3 348.9h0M553.9 360.3h0M478.4 295.8h0M568.8 373.9h0M571.9 427.4h0M534.5 342.8h0M533.1 363.2h0M508.9 347.8h0M524.4 354.1h0M534.0 358.2h0M551.4 366.9h0M532.6 424.7h0M514.4 316.0h0M550.7 384.3h0M560.4 304.9h0M521.1 389.1h0M549.7 359.5h0M532.4 304.2h0M517.6 321.3h0M552.0 378.0h0M548.0 418.2h0M569.1 384.3h0M488.0 357.3h0M518.3 344.0h0M523.3 385.0h0M537.3 373.3h0M536.5 412.4h0M525.0 352.4h0M503.2 397.4h0M551.1 380.3h0M534.5 394.5h0M510.7 343.6h0M536.8 349.7h0M533.4 344.0h0M530.5 364.7h0M532.8 414.0h0M547.0 369.3h0M516.4 327.1h0M528.6 393.7h0M510.6 373.9h0M512.6 367.2h0M482.3 359.6h0M522.2 382.3h0M531.6 423.2h0M508.3 308.8h0M487.1 349.4h0M490.0 317.5h0M539.3 458.6h0M510.9 364.7h0M533.9 385.1h0M521.0 374.0h0M489.7 326.5h0M559.6 361.1h0M507.9 285.9h0M531.5 397.5h0M535.9 312.6h0M509.2 363.2h0M504.1 337.0h0M601.4 407.2h0M509.8 253.6h0M530.5 325.0h0M549.3 371.9h0M503.7 370.5h0M562.1 305.5h0M564.5 325.0h0M519.2 359.6h0M520.5 281.9h0M533.6 412.7h0M493.6 343.9h0M539.0 393.5h0M508.1 364.1h0M521.3 254.6h0M531.8 302.7h0M544.1 276.6h0M553.3 369.7h0M474.6 304.9h0M605.5 328.2h0M554.5 362.3h0M456.6 277.7h0M513.0 348.9h0M539.7 363.2h0M543.1 315.3h0M552.8 324.1h0M538.2 312.9h0M503.0 380.3h0M473.9 366.2h0M522.3 342.7h0M544.4 360.0h0M496.7 351.8h0M595.1 403.2h0M507.9 329.2h0M553.4 403.1h0M548.2 386.6h0M548.8 399.5h0M523.0 338.9h0M520.7 346.9h0M565.6 347.8h0M532.7 351.4h0M529.8 343.0h0M517.6 337.3h0M480.7 401.2h0M579.1 357.3h0M536.4 362.4h0M509.0 387.6h0M473.5 326.7h0M506.6 333.4h0M491.1 398.4h0M552.3 351.5h0M487.8 359.8h0M499.3 324.6h0M529.7 382.2h0M551.2 382.9h0M500.8 310.8h0M522.8 348.3h0M510.7 340.8h0M493.3 422.2h0M525.7 399.6h0M586.1 350.9h0M543.4 391.4h0M512.5 393.8h0M571.6 336.6h0M531.4 374.2h0M532.4 323.4h0M529.3 356.2h0M524.3 317.1h0M512.3 443.5h0M539.1 341.9h0M546.9 333.2h0M438.2 366.3h0M526.3 316.1h0M524.4 368.9h0M493.4 374.3h0M517.6 381.7h0M494.3 352.2h0M547.2 386.1h0M536.8 354.9h0M482.6 343.8h0M514.8 358.7h0M527.7 329.6h0M512.0 413.4h0M509.3 373.7h0M509.4 440.6h0M544.6 322.0h0M545.5 424.6h0M551.9 312.9h0M541.5 343.5h0M508.2 313.1h0M552.4 356.5h0M569.6 310.2h0M536.9 343.8h0M510.0 391.2h0M529.3 374.5h0M567.9 358.4h0M526.2 305.3h0M532.1 372.7h0M509.7 398.0h0M490.4 372.6h0M549.3 348.7h0M521.0 335.6h0M527.9 381.2h0M555.5 340.0h0M532.5 367.8h0M553.5 319.6h0M495.7 386.7h0M458.0 300.0h0M523.5 373.0h0M543.3 334.2h0M509.8 348.8h0M547.2 344.5h0M474.1 314.5h0M531.0 353.3h0M500.2 364.0h0M551.2 430.5h0M529.3 347.6h0M526.4 374.0h0M499.8 312.5h0M553.8 343.1h0M498.0 372.6h0M512.5 404.4h0M531.4 358.5h0M548.6 363.2h0M506.8 334.8h0M495.8 365.1h0M529.1 325.2h0M536.2 366.7h0M498.4 369.1h0M525.6 334.1h0M517.8 291.1h0M564.9 310.0h0M547.9 335.7h0M453.8 289.2h0M499.6 362.4h0M556.8 295.6h0M534.4 336.7h0M498.3 278.9h0M488.4 331.9h0M486.9 333.7h0M508.9 376.0h0M553.0 328.9h0M529.6 420.9h0M527.2 367.1h0M480.5 354.9h0M589.6 371.8h0M494.3 338.8h0M530.1 325.7h0M450.5 374.5h0M529.7 330.4h0M519.8 359.8h0M575.3 398.2h0M510.1 415.5h0M507.8 340.9h0M565.0 355.8h0M496.1 352.8h0M515.2 394.1h0M527.6 345.6h0M527.2 366.5h0M523.2 291.8h0M484.7 317.9h0M505.2 377.2h0M526.9 389.0h0M525.2 412.0h0M550.9 362.7h0M515.1 334.1h0M512.7 336.2h0M498.0 292.4h0M523.8 349.1h0M495.1 334.9h0M537.8 341.0h0M529.1 374.2h0M604.2 400.2h0M525.7 429.0h0M504.1 361.5h0M499.4 363.4h0M495.5 367.3h0M535.2 338.0h0M540.2 372.3h0M444.1 413.1h0M531.6 315.3h0M492.6 337.3h0M485.7 393.5h0M520.2 316.9h0M502.6 318.7h0M474.5 404.4h0M448.4 329.0h0M528.9 394.9h0M569.1 291.9h0M528.6 363.5h0M531.2 364.9h0M454.5 395.8h0M517.5 363.7h0M567.8 367.6h0M535.1 365.9h0M504.0 336.7h0M526.6 364.4h0M526.0 290.2h0M458.8 289.0h0M581.0 347.0h0M520.6 329.8h0M514.3 372.4h0M536.6 383.8h0M510.1 325.8h0M567.7 425.2h0M530.5 307.7h0M523.9 390.9h0M507.0 251.7h0M485.1 350.5h0M528.7 364.0h0M602.5 315.1h0M584.8 400.8h0M518.7 344.2h0M523.8 314.9h0M576.1 254.0h0M520.0 331.5h0M488.1 337.9h0M548.5 360.3h0M526.5 358.8h0M573.6 323.0h0M490.5 379.8h0M495.1 362.3h0M499.2 271.6h0M533.5 358.0h0M568.5 418.6h0M499.0 416.4h0M530.7 358.6h0M559.2 333.8h0M564.7 322.1h0M473.3 342.6h0M521.4 385.6h0M560.6 279.7h0M543.8 330.1h0M532.6 302.5h0M484.3 348.5h0M576.4 303.3h0M575.4 334.8h0M515.4 418.1h0M531.8 340.1h0M519.1 356.9h0M596.2 385.9h0M518.2 349.3h0M552.7 364.9h0M549.1 380.1h0M568.1 369.7h0M468.1 392.4h0M534.3 352.1h0M546.0 337.6h0M501.6 369.9h0M575.9 349.8h0M523.1 336.0h0M553.7 346.5h0M500.5 370.2h0M530.4 343.5h0M538.2 390.4h0M537.9 303.4h0M538.2 402.6h0M517.8 354.8h0M557.8 320.0h0M556.1 335.5h0M523.1 414.1h0M525.3 392.7h0M580.4 345.6h0M547.0 345.1h0M524.0 361.3h0M519.0 374.0h0M502.6 398.2h0M535.5 376.9h0M536.6 363.6h0M518.2 348.6h0M521.0 278.5h0M561.3 390.0h0M542.7 335.4h0M537.0 398.6h0M552.6 368.3h0M538.8 405.2h0M459.0 300.7h0M564.0 362.8h0M493.1 371.2h0M530.1 361.7h0M510.3 351.1h0M550.5 325.5h0M474.8 348.9h0M474.9 361.5h0M502.4 289.5h0M510.5 363.4h0M530.5 305.8h0M543.0 388.7h0M516.6 322.8h0M532.9 397.3h0M509.7 372.2h0M547.6 339.4h0M488.7 368.8h0M527.3 350.8h0M519.3 352.8h0M460.6 306.7h0M482.3 289.8h0M537.8 336.1h0M513.3 315.0h0M434.2 379.5h0M551.3 299.0h0M559.5 361.0h0M562.1 310.7h0M503.2 327.9h0M536.9 376.2h0M539.3 391.7h0M503.5 302.2h0M511.0 330.6h0M518.3 409.9h0M587.6 361.4h0M497.0 351.6h0M493.5 383.3h0M545.7 411.9h0M504.6 385.1h0M454.3 366.4h0M519.5 307.2h0M544.4 396.5h0M524.5 466.7h0M496.4 328.2h0M499.8 324.4h0M499.9 398.6h0M505.3 331.7h0M521.9 316.9h0M477.1 356.3h0M521.7 339.1h0M521.7 331.7h0M587.1 324.3h0M526.7 388.2h0M487.6 318.1h0M538.8 349.5h0M527.9 368.6h0M544.6 322.5h0M499.1 380.7h0M502.8 365.5h0M489.6 337.5h0M530.2 373.6h0M545.4 412.0h0M548.9 383.7h0M555.4 346.9h0M526.4 321.1h0M547.6 375.7h0M517.8 247.4h0M550.4 403.4h0M522.0 328.7h0M559.3 429.5h0M579.6 316.1h0M525.1 344.0h0M509.9 345.6h0M491.5 363.9h0M501.5 268.8h0M482.9 378.1h0M554.2 281.9h0M520.4 385.4h0M496.5 331.8h0M508.1 347.1h0M453.8 299.0h0M521.6 377.3h0M527.9 355.5h0M508.3 371.8h0M581.7 302.1h0M566.3 383.5h0M530.6 320.4h0M594.4 346.2h0M516.7 410.2h0M491.2 370.8h0M534.6 388.9h0M495.9 311.4h0M547.3 336.3h0M537.8 372.5h0M532.7 357.5h0M534.3 387.9h0M541.3 369.0h0M494.4 308.7h0M540.3 363.8h0M478.4 329.0h0M441.3 358.3h0M509.2 338.5h0M503.0 359.1h0M514.8 348.9h0M491.3 364.0h0M535.9 276.0h0M549.0 393.8h0M494.3 399.5h0M548.2 351.3h0M585.4 400.3h0M556.0 243.3h0M504.3 361.4h0M465.8 385.6h0M517.4 313.9h0M539.2 362.0h0M503.4 337.6h0M514.3 331.2h0M490.1 363.7h0M546.0 333.9h0M530.5 369.7h0M566.3 354.8h0M560.5 339.6h0M560.5 367.3h0M611.5 373.9h0M501.5 407.1h0M544.4 350.0h0M556.9 390.5h0M544.7 316.4h0M525.6 338.8h0M538.4 341.6h0M515.5 305.0h0M516.3 362.3h0M520.3 283.0h0M480.7 240.5h0M604.1 383.3h0M687.1 328.9h0M551.9 463.6h0M484.5 359.8h0M522.8 306.1h0M553.0 368.4h0M496.7 375.1h0M582.2 285.1h0M517.0 320.2h0M530.1 320.9h0M527.8 342.2h0M485.3 315.5h0M541.3 310.1h0M546.4 355.9h0M499.4 368.4h0M549.2 269.5h0M536.5 411.2h0M518.0 349.1h0M539.1 342.4h0M546.9 368.9h0M541.8 378.9h0M527.9 302.7h0M507.8 415.3h0M489.9 357.9h0M555.5 337.4h0M572.6 312.3h0M531.8 352.0h0M568.8 399.3h0M526.7 368.2h0M545.7 301.5h0M460.9 315.9h0M524.9 308.4h0M516.0 335.9h0M523.0 331.9h0M518.0 453.8h0M546.7 382.7h0M541.3 340.2h0M528.7 368.2h0M544.1 307.2h0M531.3 357.0h0M581.4 366.3h0M526.3 321.6h0M529.6 343.1h0M555.8 383.7h0M463.3 386.5h0M524.3 306.1h0M507.8 342.7h0M487.3 402.5h0M587.4 326.4h0M507.4 343.8h0M476.9 332.8h0M509.9 425.5h0M493.6 330.0h0M581.8 316.2h0M570.1 331.9h0M532.5 430.9h0M512.7 338.1h0M524.1 291.1h0M570.8 327.4h0M585.3 296.3h0M558.9 329.7h0M499.4 351.5h0M525.7 387.1h0M515.5 325.9h0M550.1 387.7h0M492.2 370.0h0M547.2 359.7h0M490.3 325.7h0M541.8 330.0h0M546.7 325.7h0M559.5 309.3h0M555.6 340.4h0M537.9 350.5h0M496.2 360.0h0M561.7 361.6h0M520.9 340.7h0M498.6 427.3h0M474.8 355.3h0M563.3 418.1h0M512.7 335.2h0M526.5 338.5h0M514.6 372.7h0M548.8 358.4h0M550.3 386.6h0M532.6 382.4h0M523.9 345.9h0M553.8 304.8h0M520.8 329.0h0M576.8 389.4h0M484.8 377.1h0M528.6 342.2h0M527.9 375.5h0M525.9 340.7h0M565.7 265.0h0M514.1 421.4h0M546.2 289.8h0M504.8 361.0h0M520.8 396.2h0M536.9 371.0h0M535.3 348.4h0M507.3 357.3h0M512.3 374.7h0M517.0 326.8h0M522.0 307.5h0M517.6 360.9h0M483.2 398.6h0M489.8 366.6h0M546.2 266.7h0M562.1 292.5h0M524.2 355.1h0M505.6 335.6h0M505.2 318.2h0M521.5 341.8h0M498.6 376.6h0M543.5 346.6h0M517.2 372.7h0M557.2 328.5h0M498.9 317.9h0M519.6 383.7h0M555.7 327.3h0M527.2 318.4h0M507.8 335.6h0M499.3 336.7h0M527.6 339.6h0M516.7 334.3h0M525.3 266.4h0M525.6 390.4h0M503.4 407.2h0M482.6 372.1h0M529.1 308.8h0M586.3 272.5h0M490.5 377.3h0M434.0 409.8h0M517.2 315.8h0M514.1 310.7h0M555.7 377.2h0M545.4 253.9h0M531.6 349.7h0M511.1 357.6h0M497.7 360.0h0M499.2 372.1h0M529.9 337.3h0M508.8 397.9h0M464.4 364.3h0M502.7 367.0h0M553.7 427.6h0M527.4 391.4h0M521.6 393.8h0M513.8 331.8h0M537.2 401.9h0M561.7 287.4h0M495.8 321.6h0M533.1 304.6h0M603.3 347.3h0M484.1 362.3h0M581.7 329.6h0M513.8 388.7h0M485.8 378.8h0M540.3 288.2h0M538.5 392.5h0M514.2 345.4h0M507.5 375.6h0M499.0 372.5h0M512.7 406.1h0M524.3 417.3h0M564.4 302.0h0M518.8 347.6h0M516.1 371.7h0M542.0 389.6h0M578.8 389.0h0M533.2 339.8h0M525.3 423.9h0M526.9 352.7h0M473.4 387.1h0M546.4 342.3h0M530.2 340.7h0M520.0 409.5h0M556.9 322.9h0M510.1 395.4h0M534.9 450.8h0M520.2 406.6h0M556.8 336.5h0M474.6 311.2h0M547.3 348.2h0M519.6 332.4h0M518.5 347.4h0M508.9 297.7h0M534.6 299.8h0M518.2 346.1h0M582.7 414.6h0M557.7 363.8h0M491.3 365.4h0M470.4 278.2h0M522.7 335.6h0M527.6 346.4h0M539.5 386.8h0M514.1 361.0h0M559.8 394.0h0M500.6 355.1h0M538.9 328.4h0M545.6 379.9h0M497.2 375.4h0M554.1 302.9h0M540.0 333.5h0M512.1 314.9h0M537.2 401.1h0M531.5 384.1h0M526.6 350.2h0M517.4 362.7h0M514.6 344.0h0M525.6 341.6h0M525.9 341.9h0M510.6 336.8h0M590.4 418.2h0M531.8 339.1h0M504.5 284.4h0M578.9 253.1h0M569.4 351.9h0M507.6 298.4h0M503.3 384.5h0M505.9 329.7h0M537.5 286.1h0M528.7 361.0h0M547.9 347.4h0M499.3 390.7h0M515.6 379.2h0M538.5 461.8h0M535.0 424.8h0M550.4 302.7h0M542.6 360.4h0M527.0 328.3h0M513.4 345.0h0M542.3 377.6h0M534.8 388.6h0M518.6 402.9h0M520.4 328.0h0M553.0 343.7h0M522.7 391.1h0M476.7 338.4h0M528.4 289.9h0M549.2 317.6h0M514.7 322.6h0M518.9 312.8h0M505.6 368.1h0M497.6 355.8h0M555.3 338.1h0M500.1 387.2h0M556.1 370.2h0M521.3 357.2h0M558.5 375.2h0M507.4 427.7h0M508.0 357.4h0M572.9 417.3h0M586.7 311.2h0M567.1 367.3h0M529.4 337.6h0M500.1 315.2h0M533.5 394.1h0M491.1 335.4h0M530.8 343.7h0M531.3 397.5h0M482.2 397.3h0M496.4 427.1h0M517.4 397.1h0M531.1 349.4h0M515.8 345.8h0M498.3 385.5h0M532.6 396.9h0M519.5 308.0h0M564.6 382.5h0M521.9 365.6h0M534.6 334.5h0M568.0 357.1h0M536.0 351.3h0M494.4 342.1h0M473.2 294.2h0M505.9 337.4h0M499.9 343.3h0M496.4 361.5h0M552.0 374.3h0M514.9 332.1h0M440.9 327.1h0M525.0 418.0h0M545.3 386.5h0M565.5 368.8h0M532.1 328.0h0M600.9 426.3h0M533.4 359.6h0M480.7 353.1h0M512.4 370.0h0M527.6 290.7h0M532.5 326.3h0M524.7 359.1h0M572.2 356.8h0M532.3 332.9h0M486.8 352.3h0M590.3 335.7h0M513.8 383.4h0M486.2 388.0h0M487.5 415.1h0M478.5 342.8h0M561.0 333.8h0M533.8 304.6h0M575.2 362.0h0M501.7 311.2h0M527.3 344.2h0M474.7 283.9h0M519.0 349.0h0M552.5 357.6h0M538.8 356.8h0M539.2 341.4h0M494.4 403.0h0M507.2 342.9h0M523.2 378.6h0M523.9 375.7h0M527.0 287.0h0M516.0 324.1h0M495.3 365.6h0M517.0 365.5h0M524.2 394.7h0M530.6 365.0h0M528.5 394.0h0M490.4 242.7h0M532.1 402.0h0M524.4 426.8h0M551.2 382.7h0M525.1 357.9h0M507.9 336.0h0M543.7 334.7h0M449.5 302.8h0M600.1 295.6h0M521.5 373.0h0M566.9 335.9h0M524.1 356.8h0M536.2 351.9h0M520.8 324.9h0M504.3 385.2h0M591.9 358.9h0M542.7 334.4h0M528.9 363.3h0M552.8 359.3h0M517.2 371.4h0M508.0 384.5h0M482.1 335.9h0M551.3 406.6h0M526.1 418.5h0M445.8 372.6h0M532.5 327.1h0M480.3 391.4h0M504.5 353.0h0M538.8 342.0h0M534.2 357.0h0M570.2 356.3h0M536.1 355.2h0M524.2 361.5h0M569.4 349.3h0M516.8 346.7h0M562.4 427.2h0M477.0 412.7h0M569.1 332.6h0M484.9 288.1h0M526.3 347.2h0M536.4 350.3h0M534.0 346.5h0M555.6 403.8h0M521.5 337.0h0M501.3 351.7h0M526.4 388.2h0M535.7 380.5h0M539.1 323.8h0M453.6 350.2h0M516.0 311.7h0M544.2 360.3h0M474.7 354.0h0M528.5 326.7h0M463.3 396.8h0M519.4 295.7h0M538.8 331.8h0M540.6 362.2h0M520.1 348.2h0M516.3 341.7h0M503.3 278.4h0M526.9 331.9h0M509.7 318.2h0M489.5 417.2h0M544.4 438.4h0M507.2 368.6h0M512.7 367.7h0M501.2 280.5h0M542.4 344.4h0M551.7 350.9h0M561.5 424.9h0M521.5 404.7h0M494.5 379.4h0M531.8 334.3h0M501.6 378.3h0M534.9 430.1h0M535.0 332.4h0M538.0 347.5h0M546.2 336.9h0M512.9 326.3h0M533.4 341.4h0M455.2 390.1h0M608.6 337.4h0M525.2 322.7h0M508.3 249.5h0M481.4 374.8h0M518.7 284.7h0M457.6 385.0h0M522.4 408.6h0M526.2 333.3h0M505.4 378.8h0M515.9 278.2h0M533.0 262.3h0M530.4 363.4h0M445.1 315.6h0M491.2 307.5h0M513.4 312.5h0M453.3 282.1h0M501.2 316.6h0M514.5 356.1h0M502.5 316.3h0M532.3 416.5h0M523.3 336.1h0M529.5 437.5h0M510.0 396.1h0M575.5 287.8h0M492.9 365.5h0M517.3 374.7h0M512.7 348.6h0M530.0 322.8h0M537.8 402.4h0M515.4 377.3h0M543.6 316.3h0M566.3 240.8h0M510.7 313.9h0M512.6 345.3h0M502.0 308.9h0M465.1 388.4h0M546.0 386.8h0M526.9 366.2h0M515.7 356.7h0M527.7 401.9h0M511.3 334.1h0M497.1 375.7h0M560.6 358.1h0M590.8 302.6h0M487.0 386.7h0M562.9 257.0h0M549.5 303.1h0M548.9 366.1h0M548.3 314.6h0M487.3 346.3h0M478.5 344.5h0M523.2 390.8h0M541.4 290.6h0M564.0 362.2h0M499.4 381.1h0M516.0 310.4h0M523.3 345.3h0M513.4 324.3h0M586.8 291.1h0M547.7 374.4h0M510.8 352.7h0M523.9 381.2h0M484.3 286.2h0M511.4 297.8h0M545.7 373.3h0M469.1 271.1h0M537.1 341.8h0M524.3 382.8h0M551.3 338.1h0M510.4 371.1h0M582.5 292.4h0M521.3 447.0h0M513.9 348.1h0M582.0 281.7h0M537.4 346.6h0M505.1 373.4h0M549.3 370.2h0M544.1 423.3h0M544.0 408.7h0M501.6 354.8h0M547.7 392.5h0M541.3 308.2h0M504.2 293.4h0M566.1 414.2h0M590.8 367.4h0M570.6 370.5h0M492.3 319.9h0M564.8 351.1h0M483.2 323.4h0M554.1 324.6h0M562.7 361.6h0M512.1 308.0h0M570.1 310.3h0M517.4 358.8h0M545.8 359.2h0M515.7 315.7h0M517.4 285.2h0M524.1 312.3h0M489.6 399.9h0M514.9 348.8h0M522.6 363.7h0M451.4 370.5h0M603.8 350.1h0M570.4 296.5h0M544.4 332.3h0M511.2 360.5h0M560.1 423.1h0M508.1 368.3h0M462.8 388.5h0M515.3 397.1h0M524.6 314.1h0M563.7 309.1h0M562.8 342.3h0M553.0 376.5h0M508.3 364.7h0M520.0 327.6h0M535.4 292.1h0M535.8 338.0h0M516.6 352.6h0M529.3 351.7h0M539.2 419.9h0M493.3 321.2h0M539.5 325.4h0M543.2 406.1h0M488.9 449.7h0M498.5 398.3h0M547.3 365.9h0M537.9 377.3h0M557.9 357.5h0M512.6 365.5h0M518.4 390.8h0M543.0 347.7h0M503.2 412.0h0M558.2 440.4h0M514.4 312.5h0M510.9 340.7h0M551.9 334.7h0M485.2 345.9h0M604.1 333.9h0M516.3 297.0h0M518.9 297.0h0M451.0 298.5h0M546.8 405.7h0M560.7 489.9h0M584.2 348.0h0M534.2 342.2h0M501.1 300.0h0M557.8 301.4h0M510.9 381.0h0M508.0 393.8h0M518.5 346.0h0M547.3 370.2h0M516.1 395.1h0M529.3 310.8h0M478.9 386.9h0M450.5 393.4h0M515.2 295.4h0M500.8 356.9h0M530.5 346.4h0M513.5 317.0h0M597.4 344.7h0M542.3 345.3h0M499.8 338.2h0M534.2 344.2h0M526.6 431.1h0M568.4 358.2h0M567.2 327.0h0M545.1 397.4h0M555.1 304.8h0M540.0 309.9h0M531.8 400.2h0M517.4 355.0h0M501.5 362.2h0M513.3 412.9h0M526.9 324.4h0M536.6 420.1h0M543.6 359.5h0M546.7 366.6h0M535.7 308.3h0M532.3 370.1h0M567.2 344.7h0M537.9 424.9h0M553.2 339.8h0M529.2 416.9h0M543.3 317.2h0M557.3 299.4h0M537.9 305.4h0M534.1 357.2h0M528.0 430.6h0M540.9 349.9h0M461.3 316.3h0M567.3 316.2h0M529.1 371.0h0M494.0 323.8h0M503.4 340.5h0M461.0 364.5h0M527.4 368.3h0M512.1 320.5h0M513.9 320.8h0M521.6 383.7h0M540.9 363.0h0M470.0 385.3h0M498.7 394.8h0M560.7 371.7h0M500.4 442.1h0M544.5 323.0h0M512.4 360.5h0M539.3 411.5h0M514.6 342.9h0M482.5 367.8h0M547.1 383.1h0M514.7 366.8h0M555.7 403.6h0M446.1 344.6h0M558.6 341.1h0M538.5 328.9h0M524.7 306.0h0M525.6 334.5h0M526.6 309.1h0M542.8 353.4h0M524.1 347.2h0M538.3 449.1h0M518.0 367.9h0M491.6 341.8h0M508.0 362.9h0M505.5 336.8h0M528.9 304.4h0M531.7 307.6h0M510.6 305.9h0M516.5 327.0h0M555.8 404.7h0M561.7 336.7h0M516.5 391.4h0M536.7 343.1h0M493.1 348.9h0M532.6 456.4h0M542.6 235.5h0M525.1 301.9h0M545.2 376.2h0M509.4 302.5h0M532.2 321.5h0M510.6 293.4h0M514.6 356.7h0M541.5 321.1h0M524.2 354.3h0M568.0 345.1h0M511.3 320.7h0M549.6 363.5h0M559.2 344.3h0M557.1 342.4h0M520.9 434.6h0M513.8 282.7h0M520.9 377.2h0M483.3 428.6h0M545.7 358.4h0M539.6 371.6h0M502.1 375.6h0M542.1 361.5h0M536.6 291.9h0M530.8 311.6h0M497.2 313.5h0M546.0 328.0h0M524.1 424.5h0M530.9 390.6h0M548.8 341.9h0M552.5 351.0h0M511.9 351.5h0M468.6 289.7h0M522.1 362.8h0M519.6 353.3h0M514.3 371.4h0M516.6 485.8h0M536.6 346.2h0M486.1 356.1h0M537.1 382.6h0M456.0 280.0h0M527.3 257.8h0M515.3 453.9h0M549.5 331.1h0M548.2 425.5h0M530.7 349.5h0M469.0 356.5h0M561.0 327.2h0M583.5 340.1h0M556.3 362.8h0M596.4 388.3h0M565.0 346.9h0M499.1 363.7h0M551.9 377.7h0M522.2 337.4h0M509.4 354.7h0M537.4 341.7h0M526.4 383.9h0M460.0 416.9h0M559.5 380.2h0M527.4 384.7h0M566.7 339.2h0M529.2 323.4h0M509.6 323.6h0M524.5 386.1h0M528.7 321.2h0M524.7 347.7h0M535.9 324.4h0M531.0 325.3h0M580.3 364.0h0M496.2 327.7h0M524.0 251.3h0M585.5 369.9h0M485.0 362.3h0M512.3 344.3h0M482.3 400.3h0M570.4 323.5h0M523.2 347.8h0M572.7 424.2h0M507.5 302.4h0M532.2 333.1h0M534.6 348.8h0M520.5 385.3h0M535.0 323.2h0M470.7 286.7h0M523.4 342.2h0M485.9 399.6h0M494.8 323.1h0M535.6 392.2h0M561.3 399.3h0M468.4 295.4h0M522.6 372.4h0M523.0 344.8h0M523.0 396.2h0M535.3 272.5h0M469.8 417.2h0M557.9 351.7h0M535.7 344.3h0M498.2 250.1h0M504.5 352.9h0M548.5 448.6h0M485.0 365.2h0M502.1 377.0h0M527.1 415.6h0M508.9 353.1h0M522.8 412.9h0M488.3 374.8h0M523.9 364.0h0M572.4 405.2h0M466.1 407.5h0M519.0 320.0h0M483.4 363.4h0M531.9 340.0h0M494.9 381.5h0M530.7 377.7h0M538.0 358.3h0M513.5 350.0h0M547.1 382.9h0M434.3 451.9h0M524.1 381.6h0M542.3 348.6h0M509.8 335.3h0M546.3 277.1h0M582.5 328.8h0M515.3 320.0h0M553.3 353.6h0M499.1 384.6h0M513.1 367.0h0M526.7 328.2h0M502.0 409.8h0M550.5 347.6h0M524.3 278.1h0M541.2 350.8h0M582.6 307.1h0M601.4 338.5h0M485.7 364.5h0M555.9 370.6h0M507.6 321.7h0M475.3 306.1h0M508.0 398.9h0M551.2 330.1h0M486.9 366.2h0M514.5 356.6h0M531.9 358.1h0M493.2 357.3h0M554.1 295.5h0M517.0 370.5h0M534.1 369.0h0M611.8 315.4h0M549.3 386.6h0M470.9 366.4h0M527.7 389.2h0M507.4 309.0h0M559.3 396.0h0M516.4 410.5h0M548.0 435.3h0M527.5 240.6h0M531.7 358.0h0M534.7 398.2h0M535.2 329.7h0M486.6 428.4h0M525.9 362.9h0M550.7 339.3h0M547.1 366.0h0M480.4 396.0h0M502.0 288.6h0M504.4 376.8h0M494.0 396.9h0M492.0 433.4h0M465.3 337.6h0M580.6 385.8h0M525.3 349.3h0M538.1 297.7h0M558.0 353.2h0M566.0 309.9h0M523.2 345.8h0M533.2 354.1h0M576.9 391.3h0M509.0 341.1h0M519.2 391.9h0M525.5 364.8h0M500.3 287.2h0M531.5 339.9h0M508.1 377.6h0M529.2 346.8h0M470.1 352.0h0M492.7 412.2h0M523.4 360.9h0M443.8 359.4h0M497.9 270.6h0M452.0 357.7h0M525.4 357.7h0M541.7 365.1h0M522.6 334.9h0M522.7 307.3h0M518.2 421.8h0M531.1 390.5h0M531.9 346.8h0M507.2 378.7h0M617.4 368.2h0M532.5 356.8h0M527.4 319.1h0M521.9 369.1h0M542.2 359.3h0M497.6 360.1h0M582.2 413.0h0M556.9 339.9h0M542.5 320.2h0M535.6 324.9h0M520.6 351.9h0M578.6 320.9h0M563.8 345.2h0M523.8 314.2h0M517.6 382.1h0M476.3 341.9h0M530.0 306.5h0M537.6 334.9h0M513.3 358.3h0M554.0 347.8h0M542.6 380.9h0M489.9 403.3h0M535.7 346.5h0M488.6 323.0h0M516.9 357.1h0M500.0 338.0h0M534.2 360.2h0M565.4 327.7h0M535.9 397.1h0M502.9 339.4h0M507.5 386.2h0M460.8 297.2h0M523.5 374.1h0M518.1 232.4h0M549.4 336.1h0M501.5 285.5h0M539.5 393.0h0M528.0 394.4h0M501.9 315.9h0M556.9 363.7h0M529.3 404.1h0M544.0 353.8h0M474.4 377.9h0M515.0 307.6h0M529.6 352.3h0M521.6 339.2h0M511.1 364.3h0M524.4 326.1h0M528.8 298.8h0M469.4 373.5h0M535.3 332.1h0M508.8 404.6h0M510.6 300.1h0M485.5 289.1h0M563.8 369.5h0M535.0 363.3h0M540.4 373.2h0M494.1 425.3h0M513.7 348.3h0M551.2 334.2h0M558.0 314.8h0M475.8 309.4h0M551.4 365.7h0M462.0 310.8h0M574.5 403.3h0M562.8 362.7h0M560.9 303.5h0M558.1 308.4h0M543.0 362.9h0M614.2 349.4h0M473.8 314.4h0M528.3 387.0h0M527.8 324.7h0M503.4 370.2h0M520.5 288.8h0M524.0 374.5h0M492.6 413.6h0M536.7 402.3h0M562.0 364.8h0M549.2 324.6h0M501.9 360.0h0M485.5 330.6h0M542.4 416.4h0M521.5 349.6h0M519.0 407.0h0M520.0 322.7h0M555.4 342.4h0M526.1 402.9h0M510.3 410.3h0M527.6 426.0h0M502.8 357.8h0M457.7 315.4h0M519.9 432.7h0M554.1 305.8h0M522.3 351.7h0M509.6 262.6h0M531.0 415.6h0M537.7 417.7h0M523.8 381.2h0M529.9 316.4h0M514.3 369.8h0M523.7 354.4h0M512.2 360.1h0M503.0 395.0h0M538.9 327.2h0M520.2 324.0h0M508.0 344.3h0M564.4 378.8h0M519.7 361.7h0M546.7 383.7h0M518.7 344.4h0M543.8 351.3h0M553.6 382.9h0M520.7 404.4h0M527.0 351.2h0M516.4 371.9h0M530.0 422.9h0M523.9 367.5h0M502.0 350.2h0M528.3 375.9h0M507.8 352.5h0M495.9 355.6h0M527.0 367.2h0M560.7 374.3h0M529.5 351.7h0M447.2 312.0h0M494.2 330.8h0M488.0 399.3h0M486.0 360.8h0M515.9 327.4h0M541.7 352.8h0M592.6 276.8h0M607.9 347.2h0M544.9 378.2h0M518.7 370.3h0M494.5 434.7h0M540.2 330.2h0M552.0 334.4h0M515.7 307.7h0M480.9 326.6h0M500.1 347.0h0M539.6 340.3h0M516.1 312.3h0M551.1 398.8h0M530.6 378.9h0M505.1 331.7h0M507.9 343.0h0M492.7 345.8h0M534.8 320.5h0M521.5 323.6h0M493.2 346.5h0M588.7 433.9h0M530.6 401.1h0M531.4 290.2h0M522.6 339.8h0M527.9 319.2h0M465.8 349.5h0M471.2 394.4h0M569.0 356.6h0M547.0 403.7h0M479.9 363.9h0M501.8 348.2h0M519.9 372.9h0M539.2 343.5h0M494.1 304.6h0M510.9 307.7h0M547.1 341.3h0M497.5 344.0h0M554.3 301.7h0M561.5 342.6h0M526.3 359.1h0M530.8 296.1h0M509.5 319.3h0M509.2 340.4h0M513.2 379.0h0M576.6 346.6h0M531.5 340.2h0M516.2 375.3h0M484.5 353.3h0M533.9 344.3h0M563.6 371.5h0M543.8 396.6h0M528.1 422.2h0M498.3 354.8h0M541.3 387.1h0M436.7 383.0h0M494.3 357.3h0M536.4 391.9h0M524.4 385.7h0M546.0 388.2h0M548.3 339.8h0M484.4 369.6h0M536.3 333.0h0M517.5 346.3h0M547.7 255.5h0M515.4 340.3h0M471.1 392.5h0M540.2 361.2h0M539.0 331.0h0M604.7 319.3h0M534.3 351.2h0M538.2 323.7h0M540.5 345.1h0M553.1 335.0h0M573.2 336.5h0M520.0 390.2h0M514.4 286.2h0M513.6 355.1h0M523.6 376.6h0M445.2 356.0h0M586.4 308.1h0M604.6 376.4h0M508.0 355.2h0M551.0 389.1h0M475.0 329.9h0M532.8 368.1h0M535.8 345.9h0M464.8 279.1h0M519.7 314.3h0M514.4 371.8h0M537.9 393.8h0M535.5 407.2h0M521.7 380.6h0M560.7 393.5h0M535.8 396.4h0M552.4 386.5h0M534.5 348.0h0M550.6 320.1h0M509.7 361.9h0M489.7 396.3h0M541.0 305.6h0M525.3 372.0h0M524.9 352.5h0M543.1 341.1h0M506.6 359.4h0M524.4 362.6h0M532.4 382.5h0M512.3 380.3h0M564.9 305.2h0M484.0 359.8h0M518.0 305.3h0M560.8 414.9h0M548.7 291.7h0M518.3 364.6h0M571.4 265.0h0M470.7 318.8h0M518.9 362.7h0M559.7 384.9h0M518.5 390.6h0M525.4 338.5h0M515.4 351.7h0M506.0 370.6h0M560.3 350.1h0M531.7 436.5h0M541.9 365.5h0M528.8 356.0h0M528.5 377.7h0M541.9 368.8h0M523.2 336.6h0M555.9 403.0h0M564.5 315.5h0M571.3 324.9h0M526.5 318.7h0M505.8 348.0h0M540.7 373.6h0M506.6 356.5h0M559.0 321.6h0M541.7 395.1h0M537.5 317.1h0M528.0 355.4h0M509.0 397.3h0M443.6 406.5h0M562.7 338.8h0M529.7 392.8h0M497.3 346.1h0M555.7 334.8h0M605.5 368.6h0M541.0 356.5h0M514.8 345.6h0M494.8 356.0h0M492.9 302.3h0M568.1 297.8h0M539.1 318.6h0M543.0 386.6h0M533.1 429.8h0M538.7 307.2h0M504.8 330.7h0M519.9 393.2h0M522.9 437.8h0M516.8 364.1h0M532.9 364.2h0M491.0 348.7h0M537.7 340.7h0M522.7 369.6h0M497.6 338.9h0M548.9 378.2h0M524.2 412.9h0M557.3 360.8h0M543.2 383.4h0M566.8 381.1h0M560.1 333.8h0M529.5 348.0h0M553.0 310.9h0M524.1 391.6h0M512.3 346.3h0M524.4 353.7h0M560.0 439.1h0M545.2 309.2h0M554.4 353.1h0M540.5 360.0h0M523.4 343.7h0M542.5 335.2h0M544.2 369.5h0M492.4 298.2h0M536.3 332.6h0M555.1 357.8h0M597.4 340.3h0M566.9 345.3h0M523.7 367.4h0M564.4 369.3h0M523.0 421.1h0M519.0 334.3h0M503.6 406.6h0M557.5 359.1h0M517.9 344.1h0M568.1 311.8h0M453.7 388.4h0M503.1 356.9h0M481.6 297.8h0M512.5 344.9h0M540.7 334.3h0M461.1 265.0h0M511.4 311.9h0M525.7 334.5h0M535.2 387.1h0M464.1 366.3h0M572.7 349.4h0M539.5 389.6h0M524.5 355.0h0M542.8 357.6h0M529.0 347.9h0M554.9 391.8h0M539.2 316.5h0M535.6 378.8h0M480.2 320.4h0M537.9 293.1h0M500.6 397.7h0M527.3 393.2h0M521.3 342.1h0M525.2 373.2h0M505.1 369.5h0M520.6 409.7h0M533.1 356.7h0M530.1 372.3h0M509.9 321.7h0M528.5 369.8h0M555.4 261.8h0M513.4 319.6h0M495.8 337.1h0M520.1 376.4h0M472.9 268.8h0M534.7 349.5h0M555.7 384.1h0M515.3 395.9h0M506.2 319.2h0M518.8 430.2h0M531.0 318.3h0M498.0 373.6h0M507.9 366.5h0M575.5 301.8h0M518.3 395.5h0M481.9 321.6h0M525.3 361.5h0M522.7 335.2h0M480.8 298.7h0M554.6 369.1h0M491.7 337.2h0M459.2 375.7h0M530.6 417.1h0M499.6 363.7h0M522.8 360.0h0M551.0 321.2h0M529.4 311.2h0M565.6 385.8h0M543.3 413.3h0M526.7 321.4h0M520.4 389.4h0M556.5 348.2h0M511.0 376.0h0M455.4 319.1h0M515.6 354.2h0M495.2 316.6h0M533.8 350.7h0M538.7 394.4h0M561.5 303.8h0M543.0 408.1h0M509.2 343.7h0M535.8 376.4h0M554.0 282.3h0M542.7 363.1h0M532.5 345.8h0M579.6 401.7h0M464.6 423.2h0M522.1 356.1h0M468.8 314.2h0M543.9 361.7h0M520.1 314.1h0M535.6 404.3h0M591.2 363.7h0M557.9 369.3h0M491.6 326.1h0M505.3 328.6h0M503.9 327.1h0M495.9 370.0h0M450.3 368.5h0M509.5 350.6h0M486.0 343.4h0M541.0 420.1h0M504.5 356.4h0M536.6 393.7h0M512.8 356.4h0M537.4 347.2h0M504.2 388.8h0M563.2 385.6h0M510.0 368.3h0M492.2 359.4h0M508.0 303.7h0M536.2 333.8h0M495.8 344.8h0M542.2 357.3h0M532.1 335.2h0M554.7 377.1h0M519.5 382.4h0M529.9 324.1h0M481.1 328.4h0M543.5 398.3h0M506.0 319.8h0M535.9 315.6h0M554.3 330.6h0M577.1 265.5h0M527.9 413.7h0M550.9 361.7h0M520.7 346.3h0M515.3 418.1h0M497.9 362.0h0M518.7 357.9h0M507.2 314.8h0M542.4 256.8h0M525.3 361.0h0M503.3 302.1h0M513.5 253.9h0M507.5 360.0h0M528.9 402.0h0M482.3 338.7h0M553.9 347.3h0M489.4 402.8h0M513.8 375.9h0M513.2 353.7h0M520.2 381.0h0M533.4 414.3h0M518.7 385.5h0M485.9 394.6h0M552.6 319.0h0M505.4 319.4h0M590.8 428.2h0M515.0 352.0h0M516.9 279.4h0M532.1 372.2h0M482.7 333.0h0M563.9 339.1h0M518.4 332.6h0M503.9 379.7h0M501.4 369.2h0M528.6 271.9h0M554.1 400.8h0M544.4 348.9h0M520.6 386.7h0M507.0 367.0h0M541.4 352.6h0M553.7 313.3h0M577.1 427.1h0M562.7 369.7h0M514.7 378.9h0M459.6 412.6h0M530.3 331.3h0M520.8 344.1h0M573.9 450.9h0M501.9 375.3h0M511.2 350.0h0M507.8 392.2h0M529.9 348.3h0M511.6 365.3h0M481.1 361.3h0M543.3 398.2h0M493.6 278.8h0M541.5 359.1h0M577.8 276.8h0M586.7 337.0h0M501.5 349.7h0M509.5 344.4h0M518.8 318.1h0M507.7 310.3h0M528.2 402.3h0M501.9 375.6h0M540.6 335.7h0M514.9 373.7h0M516.3 331.8h0M528.4 350.0h0M549.1 335.1h0M515.9 337.1h0M529.3 325.5h0M578.1 425.9h0M489.0 310.3h0M462.1 415.3h0M522.3 286.2h0M473.7 340.4h0M534.0 366.4h0M556.8 332.0h0M477.6 268.6h0M556.3 360.2h0M537.7 359.8h0M555.1 362.5h0M523.2 357.5h0M511.1 315.3h0M544.2 391.3h0M531.9 333.0h0M539.6 303.8h0M497.3 346.0h0M550.0 320.4h0M527.5 369.6h0M556.3 338.2h0M556.3 371.4h0M513.7 408.8h0M552.7 347.5h0M527.1 402.1h0M479.3 389.7h0M526.4 302.0h0M525.1 402.2h0M549.0 337.9h0M539.2 352.4h0M514.8 378.5h0M517.0 406.8h0M547.3 332.3h0M558.0 457.1h0M543.2 301.7h0M484.7 314.0h0M483.0 367.9h0M540.7 375.6h0M496.9 360.2h0M491.4 312.3h0M482.5 262.3h0M514.2 388.9h0M526.7 340.2h0M556.0 410.8h0M492.7 350.0h0M500.7 337.8h0M516.0 396.3h0M509.7 357.6h0M591.6 342.2h0M536.1 380.5h0M535.6 345.0h0M514.9 429.7h0M530.3 377.9h0M513.4 324.3h0M525.6 374.5h0M531.1 337.5h0M513.2 336.3h0M548.3 340.2h0M531.6 364.8h0M540.9 324.6h0M535.4 408.7h0M508.6 383.2h0M533.9 327.6h0M546.2 380.4h0M584.4 334.6h0M487.9 292.1h0M494.3 354.3h0M522.4 303.9h0M526.8 355.1h0M554.4 354.7h0M487.4 398.2h0M516.2 324.6h0M540.7 395.1h0M520.1 353.3h0M503.5 389.3h0M535.7 289.4h0M485.1 346.9h0M518.7 384.6h0M507.7 456.3h0M533.9 379.5h0M541.7 233.9h0M535.5 354.5h0M510.5 370.4h0M523.5 359.5h0M586.9 312.8h0M525.9 344.6h0M532.8 340.2h0M525.4 425.4h0M544.4 370.0h0M492.8 397.7h0M553.5 359.5h0M525.2 350.1h0M477.7 373.0h0M559.4 375.8h0M526.8 341.5h0M487.0 327.8h0M581.0 381.0h0M504.8 310.9h0M492.5 378.1h0M518.9 327.9h0M516.1 389.3h0M552.4 424.7h0M556.9 320.3h0M479.0 316.4h0M552.3 334.9h0M541.6 370.2h0M487.8 334.3h0M484.8 393.7h0M496.9 331.2h0M506.9 358.3h0M514.9 371.2h0M548.3 417.4h0M522.6 358.5h0M498.0 369.7h0M553.4 371.0h0M529.2 278.1h0M492.4 288.8h0M493.9 388.4h0M538.8 301.9h0M621.4 383.6h0M515.8 413.2h0M542.6 401.5h0M547.7 334.5h0M522.4 266.9h0M485.3 376.5h0M543.3 392.9h0M538.2 334.7h0M556.4 414.7h0M562.4 348.4h0M520.8 389.6h0M489.1 391.8h0M537.4 344.2h0M635.9 349.5h0M556.4 441.4h0M524.3 380.5h0M491.9 305.6h0M543.5 329.8h0M479.8 249.3h0M498.6 317.1h0M512.5 375.5h0M535.6 386.7h0M527.5 368.5h0M527.7 356.9h0M543.2 313.8h0M561.4 353.6h0M522.9 374.3h0M523.4 355.5h0M507.3 371.6h0M483.7 423.1h0M481.5 358.3h0M537.2 342.4h0M586.2 336.4h0M510.3 371.7h0M480.6 373.0h0M509.7 289.6h0M528.9 360.7h0M492.0 393.9h0M523.2 358.8h0M501.3 407.0h0M529.0 433.0h0M515.9 377.9h0M546.5 361.3h0M516.1 338.8h0M527.0 361.1h0M470.6 345.4h0M582.0 385.5h0M499.5 319.6h0M513.4 388.5h0M480.9 329.9h0M543.9 447.0h0M566.8 299.6h0M555.0 418.6h0M484.4 378.3h0M537.9 370.2h0M496.3 400.9h0M535.3 368.9h0M552.7 347.2h0M533.1 368.7h0M549.7 327.2h0M518.9 351.9h0M557.0 375.5h0M507.8 355.5h0M545.3 392.3h0M555.5 350.6h0M555.7 338.2h0M528.8 333.6h0M534.3 321.0h0M497.3 381.0h0M558.1 367.9h0M532.2 338.8h0M521.6 357.3h0M534.1 292.0h0M515.2 385.0h0M530.7 286.6h0M506.3 330.9h0M537.1 304.8h0M528.6 361.8h0M494.7 332.3h0M533.8 390.9h0M490.4 342.6h0M554.3 350.8h0M517.6 346.7h0M524.6 342.8h0M561.2 313.9h0M546.4 382.4h0M549.6 353.4h0M491.8 344.3h0M502.7 331.3h0M516.3 293.7h0M528.0 281.2h0M519.3 434.3h0M525.4 275.3h0M521.2 368.4h0M471.5 345.6h0M500.7 350.9h0M550.1 365.7h0M522.1 281.2h0M535.1 360.3h0M540.6 349.2h0M526.1 338.3h0M528.8 338.2h0M557.3 278.3h0M500.0 260.9h0M442.3 340.9h0M544.1 332.3h0M551.8 365.3h0M513.6 348.9h0M469.6 369.1h0M489.4 376.6h0M524.8 370.9h0M506.4 351.2h0M552.2 332.7h0M541.6 354.6h0M530.6 350.2h0M501.2 362.7h0M540.0 367.6h0M507.1 392.4h0M490.9 327.4h0M484.3 399.0h0M505.2 352.2h0M501.0 358.7h0M514.8 379.0h0M540.5 354.5h0M565.2 314.9h0M532.9 374.2h0M513.9 330.8h0M503.1 334.9h0M539.6 356.6h0M522.6 308.5h0M503.6 345.7h0M560.4 348.1h0M531.8 351.2h0M500.3 390.7h0M536.5 402.1h0M483.3 326.6h0M521.2 369.7h0M506.2 305.9h0M520.8 333.3h0M567.8 337.5h0M475.6 394.1h0M486.3 307.5h0M532.3 280.9h0M448.1 390.6h0M511.5 391.7h0M480.4 317.3h0M532.9 308.7h0M509.4 387.8h0M537.7 365.3h0M501.2 340.0h0M523.3 341.4h0M547.5 358.4h0M497.4 340.6h0M522.0 323.3h0M554.2 307.3h0M610.4 369.9h0M531.9 335.4h0M490.0 372.2h0M504.7 376.9h0M539.9 372.4h0M538.2 324.4h0M567.4 407.3h0M546.4 324.3h0M650.8 265.1h0M510.2 345.3h0M520.0 317.2h0M571.3 318.5h0M534.6 342.3h0M572.1 336.9h0M535.1 339.5h0M528.1 336.5h0M534.9 344.0h0M584.4 321.3h0M513.9 366.1h0M506.2 364.4h0M506.6 398.0h0M512.0 333.6h0M553.3 236.1h0M495.5 372.0h0M618.4 336.3h0M550.8 358.3h0M531.2 377.6h0M607.8 377.8h0M510.2 293.5h0M537.9 359.2h0M556.3 363.1h0M539.1 391.6h0M462.3 288.2h0M546.9 329.8h0M543.7 337.9h0M542.6 401.2h0M519.3 379.0h0M541.0 352.8h0M499.7 381.6h0M496.6 406.6h0M610.5 385.7h0M591.2 397.6h0M560.4 377.8h0M546.2 337.4h0M496.0 387.2h0M550.9 406.9h0M492.7 373.9h0M556.3 312.8h0M557.0 309.2h0M540.4 318.7h0M579.0 412.9h0M520.5 325.9h0M512.0 331.7h0M529.4 378.1h0M536.0 312.4h0M521.7 394.8h0M532.8 383.9h0M488.8 300.4h0M524.8 349.9h0M573.2 377.7h0M533.0 396.4h0M519.7 397.4h0M502.1 381.0h0M512.4 314.9h0M522.8 313.8h0M554.1 367.8h0M540.8 383.6h0M517.2 393.0h0M536.6 388.4h0M581.4 396.3h0M525.7 378.3h0M539.9 302.3h0M529.7 360.2h0M532.7 326.5h0M526.6 325.8h0M482.9 407.4h0M488.3 336.3h0M579.9 352.2h0M474.0 352.4h0M484.5 345.9h0M525.8 314.2h0M529.5 321.1h0M587.4 398.5h0M476.5 359.9h0M516.5 359.3h0M436.7 317.8h0M481.7 356.1h0M527.8 390.8h0M514.1 359.6h0M485.6 407.1h0M563.1 260.1h0M532.3 362.1h0M537.5 356.2h0M545.5 321.7h0M516.5 410.8h0M542.9 328.7h0M565.7 256.9h0M555.1 385.6h0M525.3 406.9h0M518.0 383.7h0M558.0 349.1h0M486.8 373.7h0M445.5 356.0h0M538.5 417.4h0M564.3 315.8h0M508.1 336.9h0M458.0 314.2h0M513.8 364.9h0M521.4 341.0h0M560.2 342.9h0M503.4 336.8h0M468.5 330.6h0M479.3 361.1h0M551.6 406.7h0M568.6 363.9h0M512.0 346.1h0M586.3 348.4h0M532.1 395.8h0M492.6 378.0h0M501.6 335.6h0M506.5 362.0h0M514.8 396.3h0M507.9 386.9h0M566.4 319.7h0M488.6 388.7h0M507.0 355.1h0M534.0 416.2h0M555.7 314.1h0M520.8 387.0h0M513.7 371.5h0M504.1 327.0h0M538.2 347.3h0M517.9 328.7h0M545.0 304.7h0M542.0 301.6h0M527.2 370.8h0M529.2 382.1h0M520.6 420.1h0M491.6 381.6h0M489.5 347.9h0M519.5 333.6h0M535.0 364.5h0M549.8 318.5h0M532.4 399.1h0M594.8 324.7h0M523.0 383.7h0M536.9 316.1h0M527.4 349.5h0M525.2 358.2h0M542.5 327.7h0M485.1 364.9h0M534.4 372.1h0M547.9 376.2h0M562.0 356.0h0M501.8 417.0h0M556.4 428.9h0M538.5 304.2h0M524.2 288.8h0M464.9 345.5h0M496.8 423.5h0M469.5 283.4h0M527.0 405.1h0M552.5 349.4h0M519.9 361.5h0M513.4 343.7h0M537.8 418.0h0M532.9 352.1h0M564.3 369.4h0M516.3 381.6h0M524.7 385.9h0M507.8 408.2h0M474.0 423.5h0M513.2 362.9h0M567.8 438.2h0M504.9 382.7h0M517.0 378.1h0M528.4 404.6h0M529.5 391.2h0M529.1 311.6h0M569.4 339.3h0M526.3 347.7h0M561.8 309.3h0M516.1 309.6h0M553.1 339.3h0M563.8 386.9h0M491.6 361.8h0M528.2 312.1h0M545.4 319.2h0M515.1 373.5h0M505.6 298.1h0M486.6 285.1h0M537.1 306.7h0M524.2 291.2h0M492.7 345.2h0M533.5 337.3h0M551.2 446.0h0M523.7 382.6h0M492.4 332.9h0M521.7 260.3h0M481.3 341.9h0M535.4 402.0h0M529.2 337.6h0M573.6 409.2h0M550.4 311.1h0M547.0 395.5h0M519.4 333.1h0M501.3 361.4h0M578.8 357.3h0M577.1 270.4h0M533.8 374.7h0M504.3 390.4h0M526.5 298.0h0M539.2 392.5h0M507.7 422.9h0M490.1 375.8h0M537.8 318.0h0M504.4 293.4h0M574.6 360.4h0M532.5 340.4h0M531.1 273.6h0M527.7 382.3h0M562.6 302.7h0M529.7 360.3h0M481.6 299.3h0M545.0 323.5h0M524.0 357.0h0M587.1 341.6h0M515.8 349.6h0M529.3 374.3h0M542.5 388.2h0M496.0 415.9h0M520.2 343.6h0M500.3 377.7h0M519.9 329.4h0M549.8 342.0h0M506.5 352.5h0M534.7 349.1h0M505.7 345.5h0M497.7 349.8h0M507.0 337.6h0M508.6 340.2h0M507.0 325.1h0M539.6 361.4h0M515.3 299.0h0M486.9 325.7h0M512.3 377.1h0M530.1 371.3h0M544.0 355.2h0M523.2 362.8h0M523.9 368.0h0M515.2 355.2h0M504.2 388.7h0M487.5 360.0h0M502.8 395.8h0M522.2 351.0h0M516.0 373.7h0M504.3 375.1h0M480.9 357.8h0M510.3 368.6h0M496.4 381.8h0M541.9 361.5h0M498.3 322.9h0M502.6 355.1h0M542.6 304.8h0M496.4 420.2h0M589.5 324.7h0M506.4 377.5h0M534.6 301.5h0M495.4 372.8h0M540.1 371.9h0M506.8 370.9h0M476.1 356.0h0M533.9 334.3h0M555.1 413.9h0M522.0 303.7h0M510.5 315.4h0M540.3 420.1h0M512.5 382.8h0M558.6 329.9h0M567.9 346.7h0M513.9 327.9h0M615.3 395.9h0M530.8 335.1h0M519.9 291.4h0M526.5 387.9h0M498.4 279.3h0M523.0 357.7h0M527.5 380.2h0M514.8 349.5h0M507.2 416.4h0M477.3 387.0h0M502.1 378.6h0M584.9 360.7h0M519.9 369.2h0M520.9 263.1h0M538.1 422.6h0M473.5 325.3h0M528.7 376.1h0M592.5 335.8h0M597.1 267.2h0M512.7 395.7h0M555.7 344.3h0M511.9 393.3h0M538.3 326.7h0M479.1 425.6h0M537.4 306.0h0M500.4 361.0h0M500.2 353.3h0M550.5 335.4h0M543.5 335.7h0M500.9 347.0h0M508.7 336.0h0M515.3 288.1h0M552.0 359.4h0M519.7 390.2h0M480.7 322.9h0M562.7 330.9h0M508.2 382.1h0M519.4 360.6h0M536.4 355.9h0M577.0 329.9h0M566.0 307.6h0M537.5 383.0h0M585.1 274.4h0M540.0 353.9h0M563.9 407.4h0M529.8 319.9h0M512.0 375.2h0M569.0 347.7h0M520.9 379.2h0M538.4 349.1h0M535.6 343.3h0M517.6 330.4h0M527.5 380.5h0M595.4 287.9h0M498.2 332.6h0M537.7 296.0h0M540.8 380.2h0M523.6 347.7h0M536.4 344.1h0M483.5 379.6h0M492.7 337.6h0M547.7 362.6h0M491.8 251.9h0M607.1 374.2h0M517.3 351.5h0M530.7 246.8h0M495.1 372.4h0M507.0 454.7h0M497.8 344.2h0M554.5 253.4h0M571.2 308.8h0M534.4 287.7h0M447.8 327.8h0M523.6 361.4h0M520.6 345.9h0M538.3 337.1h0M542.1 344.8h0M509.6 332.4h0M526.7 411.2h0M511.9 288.4h0M559.6 406.4h0M520.4 342.6h0M541.9 368.0h0M525.9 440.0h0M480.1 394.4h0M542.1 411.5h0M552.2 346.9h0M551.2 361.5h0M556.7 304.1h0M544.5 304.4h0M482.8 335.1h0M528.7 358.7h0M551.9 335.0h0M512.2 382.3h0M531.7 373.4h0M524.3 420.4h0M502.4 366.3h0M517.4 352.5h0M555.4 387.9h0M556.1 381.5h0M511.6 379.4h0M531.3 390.6h0M515.2 337.4h0M509.0 366.7h0M543.1 404.3h0M493.3 340.3h0M538.7 332.2h0M582.1 307.6h0M509.7 342.7h0M532.4 359.1h0M536.2 383.1h0M531.7 348.1h0M520.7 318.2h0M477.4 369.0h0M510.3 342.1h0M517.3 299.2h0M501.0 395.9h0M553.5 322.8h0M543.0 344.4h0M508.8 234.7h0M562.1 395.5h0M508.3 349.4h0M513.5 348.7h0M510.5 416.8h0M509.3 338.5h0M510.1 314.1h0M587.4 294.3h0M574.9 359.7h0M514.8 403.6h0M497.5 349.2h0M545.4 402.1h0M563.3 273.8h0M526.9 312.2h0M542.4 367.3h0M512.2 365.6h0M488.3 339.9h0M535.5 275.0h0M543.0 339.2h0M482.6 289.7h0M507.1 387.0h0M583.7 304.2h0M601.4 354.2h0M470.5 320.7h0M554.8 399.0h0M499.4 450.1h0M536.3 386.2h0M534.0 307.8h0M527.3 367.1h0M534.4 382.4h0M554.8 274.4h0M560.7 306.6h0M504.1 428.8h0M555.3 428.7h0M538.1 354.3h0M521.6 331.0h0M536.7 371.2h0M476.6 324.5h0M541.4 296.8h0M530.9 309.5h0M499.1 325.2h0M524.8 447.3h0M501.9 363.5h0M507.9 376.2h0M526.5 354.7h0M527.7 318.8h0M546.4 333.7h0M514.0 325.0h0M486.7 326.4h0M487.6 361.7h0M483.4 335.0h0M538.1 338.5h0M542.4 381.3h0M518.0 341.6h0M536.0 356.6h0M475.4 368.2h0M514.2 383.3h0M508.4 394.8h0M503.3 311.3h0M511.7 383.7h0M543.6 341.5h0M535.5 331.2h0M542.9 341.2h0M549.9 348.6h0M548.5 370.4h0M549.2 335.8h0M539.2 374.2h0M516.4 369.0h0M551.3 300.1h0M545.3 297.2h0M501.8 392.7h0M451.4 385.8h0M496.2 348.3h0M529.6 378.4h0M512.1 470.0h0M529.1 387.4h0M523.3 321.4h0M540.9 334.1h0M543.9 347.6h0M605.6 358.4h0M513.5 403.5h0M520.7 325.0h0M590.0 372.2h0M520.0 426.7h0M565.2 337.6h0M520.7 383.9h0M512.6 315.3h0M534.1 336.2h0M559.2 383.1h0M540.8 377.4h0M541.4 361.6h0M499.4 358.4h0M473.7 315.7h0M533.0 365.2h0M592.6 353.9h0M534.5 334.3h0M534.3 335.8h0M506.5 344.5h0M520.9 398.9h0M501.9 358.9h0M513.7 294.1h0M609.2 354.2h0M557.3 302.4h0M478.6 370.4h0M468.2 361.5h0M536.7 374.7h0M531.8 350.7h0M535.3 387.3h0M518.3 382.7h0M518.5 346.0h0M547.8 329.7h0M484.4 377.4h0M522.1 308.4h0M514.8 356.2h0M518.9 400.9h0M531.5 362.9h0M492.5 368.1h0M541.0 330.8h0M498.1 327.9h0M507.4 285.6h0M513.9 376.2h0M537.8 392.9h0M520.6 455.6h0M527.6 414.4h0M546.1 353.4h0M479.5 343.9h0M536.6 353.1h0M530.9 453.6h0M520.9 355.3h0M597.1 335.6h0M533.0 336.5h0M513.9 360.6h0M516.9 449.7h0M555.0 404.4h0M520.9 417.1h0M520.4 301.0h0M522.8 314.6h0M583.8 297.5h0M525.9 364.6h0M561.5 322.5h0M517.5 377.9h0M545.4 383.5h0M488.7 291.9h0M554.6 276.6h0M541.1 307.4h0M466.1 377.5h0M455.0 347.6h0M525.6 337.8h0M534.7 388.0h0M512.6 387.9h0M524.5 267.1h0M467.6 294.9h0M506.8 362.3h0M547.9 394.4h0M510.5 358.8h0M531.5 364.8h0M582.9 311.3h0M543.9 326.5h0M528.6 351.0h0M519.8 367.9h0M525.0 331.3h0M467.7 366.0h0M565.8 410.9h0M450.1 292.7h0M540.7 337.8h0M536.1 334.3h0M525.2 310.9h0M516.0 340.4h0M531.3 365.1h0M527.9 398.7h0M511.4 367.0h0M540.1 355.7h0M503.3 336.2h0M563.8 287.6h0M534.8 376.6h0M478.5 323.6h0M545.6 362.2h0M541.4 367.8h0M519.9 398.7h0M464.3 363.2h0M571.3 285.5h0M523.9 333.0h0M512.7 304.5h0M522.8 344.2h0M491.3 378.3h0M463.7 406.8h0M547.3 330.4h0M547.1 336.7h0M484.1 336.0h0M511.7 351.9h0M515.3 333.2h0M532.7 350.5h0M486.5 284.9h0M538.9 350.3h0M544.0 396.9h0M541.8 413.6h0M516.0 340.6h0M563.6 407.8h0M552.1 348.0h0M556.3 356.9h0M532.4 393.4h0M546.3 385.8h0M469.7 346.2h0M504.1 314.2h0M515.4 327.6h0M505.1 367.0h0M559.5 364.8h0M509.2 335.2h0M546.0 329.2h0M495.4 374.4h0M519.6 367.9h0M521.0 355.6h0M532.3 372.6h0M487.4 333.1h0M570.1 376.2h0M518.8 334.0h0M490.6 343.2h0M543.1 306.5h0M499.9 335.8h0M513.4 310.9h0M535.5 423.0h0M509.2 347.9h0M505.7 399.6h0M502.4 427.1h0M559.2 317.9h0M537.7 331.6h0M521.6 329.3h0M529.3 336.9h0M518.8 245.8h0M584.8 393.6h0M475.9 298.4h0M495.9 305.6h0M541.9 393.8h0M527.2 379.2h0M516.5 352.7h0M507.4 364.6h0M477.4 341.7h0M505.2 366.6h0M515.8 418.4h0M515.6 370.4h0M513.3 402.0h0M497.2 314.6h0M537.4 315.4h0M572.0 290.9h0M530.3 384.5h0M497.2 362.2h0M531.5 328.7h0M528.9 361.6h0M445.7 445.6h0M543.9 370.0h0M512.9 327.5h0M584.9 405.4h0M565.6 376.0h0M550.5 400.4h0M515.8 415.4h0M541.4 333.4h0M583.7 294.1h0M490.5 367.3h0M535.8 314.9h0M480.0 365.3h0M503.9 377.1h0M539.1 410.0h0M495.6 382.2h0M457.7 349.7h0M511.5 293.1h0M562.5 300.6h0M508.7 400.6h0M517.5 417.0h0M514.6 368.1h0M498.9 309.3h0M467.9 330.7h0M533.8 333.4h0M547.4 418.8h0M456.1 382.1h0M529.4 343.1h0M532.3 334.1h0M553.8 372.3h0M587.9 262.0h0M514.9 434.9h0M539.6 361.6h0M514.2 357.1h0M505.4 418.9h0M518.0 359.2h0M523.9 324.4h0M553.5 376.9h0M517.0 383.0h0M501.7 340.1h0M538.4 296.3h0M585.9 332.7h0M523.4 336.2h0M448.8 397.3h0M527.9 372.3h0M524.5 349.1h0M514.4 310.9h0M508.3 395.5h0M540.4 354.2h0M518.1 376.5h0M592.6 347.7h0M513.4 359.2h0M544.1 357.3h0M540.5 318.3h0M530.1 353.8h0M511.4 306.1h0M499.0 352.8h0M539.9 320.4h0M560.9 269.6h0M547.2 362.4h0M546.6 398.7h0M518.4 269.8h0M543.7 287.3h0M517.9 347.6h0M523.3 334.9h0M512.6 362.8h0M579.8 356.3h0M484.1 314.8h0M529.9 389.5h0M517.2 380.1h0M532.4 374.8h0M545.8 350.3h0M552.5 352.3h0M534.6 306.8h0M547.9 289.6h0M474.7 317.2h0M510.7 343.7h0M535.3 385.4h0M505.9 360.8h0M551.7 310.2h0M501.6 369.8h0M464.0 318.2h0M522.2 406.7h0M529.9 381.2h0M539.5 379.0h0M536.5 358.6h0M558.0 272.5h0M547.7 354.9h0M499.6 371.4h0M506.3 273.4h0M509.6 365.4h0M523.6 434.5h0M526.5 377.1h0M510.5 325.3h0M518.1 369.9h0M498.3 330.9h0M516.7 357.7h0M517.3 320.6h0M521.8 297.5h0M521.8 382.2h0M589.8 312.5h0M494.6 274.0h0M526.9 361.8h0M498.4 331.8h0M522.8 367.1h0M502.2 299.4h0M548.3 233.5h0M554.7 273.6h0M550.9 293.2h0M518.8 318.4h0M566.5 384.2h0M606.6 328.1h0M457.6 350.7h0M519.1 268.2h0M499.8 348.7h0M537.3 385.2h0M502.1 291.8h0M522.9 386.1h0M514.4 315.6h0M587.2 392.0h0M518.8 387.7h0M515.4 406.5h0M528.8 326.3h0M549.1 401.0h0M621.3 237.7h0M558.2 403.2h0M527.7 368.9h0M519.7 335.3h0M513.1 345.7h0M500.5 410.3h0M529.6 327.7h0M576.2 288.9h0M485.2 360.7h0M482.0 281.6h0M502.4 388.0h0M518.2 359.6h0M491.9 375.7h0M516.6 377.3h0M507.3 378.5h0M522.6 426.3h0M511.1 318.1h0M511.7 330.1h0M546.4 414.7h0M532.7 362.9h0M533.0 317.9h0M547.6 395.5h0M500.9 382.8h0M566.1 366.4h0M489.7 361.3h0M542.8 350.1h0M525.6 366.5h0M503.8 369.1h0M504.1 363.1h0M543.3 368.2h0M520.8 347.4h0M481.9 315.3h0M543.6 379.6h0M499.0 284.8h0M476.5 361.9h0M492.3 399.5h0M535.0 360.5h0M580.6 388.6h0M516.9 357.7h0M477.6 318.5h0M587.3 297.8h0M515.3 373.3h0M551.5 335.0h0M538.2 332.7h0M473.4 372.0h0M510.7 368.5h0M485.0 421.5h0M508.2 360.5h0M521.1 351.6h0M494.3 315.4h0M444.3 367.1h0M534.3 355.0h0M496.5 331.3h0M498.2 326.0h0M502.2 354.9h0M600.5 342.2h0M547.6 342.8h0M485.6 331.6h0M538.1 409.6h0M520.6 399.9h0M488.9 378.0h0M546.7 327.8h0M512.6 325.9h0M521.7 317.3h0M513.2 343.5h0M501.4 259.7h0M498.8 376.2h0M522.4 349.9h0M514.2 333.0h0M472.9 318.0h0M527.8 350.3h0M522.9 355.0h0M547.3 317.1h0M546.2 434.5h0M462.7 349.2h0M542.9 343.1h0M491.5 344.0h0M510.3 325.1h0M515.1 370.9h0M545.9 338.8h0M561.0 355.0h0M503.3 349.1h0M516.4 344.6h0M521.4 347.3h0M515.2 338.5h0M495.8 442.7h0M516.9 287.0h0M497.8 368.3h0M501.4 365.4h0M515.2 359.0h0M576.5 380.8h0M528.3 373.1h0M554.8 331.1h0M514.8 340.6h0M471.2 394.9h0M547.0 368.4h0M535.8 391.9h0M540.8 352.6h0M498.6 345.4h0M449.6 394.5h0M552.0 388.1h0M618.1 336.8h0M542.2 347.7h0M521.7 356.4h0M485.2 392.2h0M526.5 339.2h0M541.5 335.4h0M523.9 304.1h0M531.5 351.5h0M437.1 352.7h0M511.5 334.0h0M495.1 349.5h0M533.1 346.4h0M528.9 324.2h0M519.3 388.7h0M530.3 325.4h0M515.6 425.7h0M489.2 377.7h0M510.2 342.0h0M537.6 371.6h0M520.4 359.5h0M540.6 353.6h0M499.0 360.4h0M538.1 339.5h0M525.5 304.7h0M519.9 330.4h0M483.5 320.2h0M544.9 338.4h0M551.5 370.8h0M510.5 343.0h0M504.7 319.4h0M543.4 348.1h0M531.6 291.0h0M483.1 350.0h0M570.3 391.5h0M540.2 340.5h0M504.1 368.1h0M531.8 308.5h0M513.9 363.2h0M566.1 318.9h0M467.4 409.9h0M535.6 342.2h0M546.8 361.8h0M500.4 409.4h0M423.4 308.5h0M511.1 360.1h0M540.6 333.4h0M606.6 372.7h0M576.8 279.3h0M496.6 338.2h0M584.5 403.8h0M533.6 352.2h0M538.3 347.7h0M480.3 365.9h0M520.0 319.2h0M575.4 355.4h0M529.7 390.9h0M524.7 354.1h0M549.6 314.1h0M530.7 412.4h0M514.4 357.6h0M525.5 380.4h0M538.5 386.4h0M538.2 402.4h0M568.1 331.0h0M575.5 368.8h0M538.7 304.8h0M547.2 391.3h0M520.4 374.1h0M523.1 348.8h0M517.1 382.4h0M511.8 392.5h0M518.9 372.9h0M514.8 352.0h0M520.6 418.4h0M579.7 390.8h0M479.7 394.3h0M562.2 330.8h0M528.4 344.6h0M498.3 427.8h0M598.8 387.8h0M530.0 362.1h0M548.0 354.1h0M524.2 397.7h0M628.2 359.6h0M537.5 340.5h0M562.6 314.3h0M516.3 370.3h0M614.5 322.0h0M532.4 252.4h0M530.1 346.2h0M560.0 338.6h0M514.8 384.9h0M609.8 374.6h0M502.0 394.5h0M497.5 379.8h0M526.6 364.1h0M546.0 391.8h0M555.4 394.2h0M500.6 339.2h0M511.2 403.7h0M539.9 376.6h0M544.2 303.3h0M562.0 374.3h0M524.4 327.9h0M485.4 306.1h0M510.7 309.4h0M547.8 395.6h0M548.1 419.8h0M537.0 385.3h0M531.5 298.9h0M534.7 343.4h0M545.5 304.2h0M495.3 397.1h0M559.7 368.7h0M555.1 332.2h0M480.0 367.4h0M526.9 370.0h0M512.8 373.1h0M520.4 411.4h0M525.9 343.5h0M536.8 369.5h0M534.4 379.7h0M487.4 412.2h0M489.0 355.7h0M516.8 282.9h0M470.7 344.9h0M514.4 363.7h0M533.9 368.2h0M504.4 308.0h0M525.5 306.4h0M495.0 347.7h0M494.4 453.0h0M538.3 382.1h0M542.0 387.4h0M519.1 321.2h0M520.3 348.2h0M516.0 332.5h0M502.2 361.6h0M544.1 354.3h0M508.9 375.8h0M509.5 349.4h0M526.1 320.9h0M529.0 314.5h0M501.3 345.8h0M513.7 373.6h0M542.8 371.4h0M522.2 355.0h0M531.2 422.0h0M541.4 414.4h0M523.5 327.0h0M608.3 319.8h0M517.3 338.6h0M516.3 411.2h0M500.5 366.2h0M511.4 308.3h0M588.0 308.0h0M559.6 347.8h0M499.0 360.8h0M527.9 371.9h0M555.6 299.6h0M487.5 372.2h0M495.5 385.1h0M527.7 342.2h0M533.1 397.3h0M531.2 391.9h0M537.8 384.6h0M615.3 295.9h0M536.7 348.2h0M529.1 365.4h0M539.4 297.7h0M521.3 361.9h0M511.1 421.5h0M560.7 337.5h0M528.9 297.6h0M547.1 340.7h0M527.3 392.9h0M541.0 360.4h0M524.0 342.5h0M581.6 361.7h0M482.0 415.4h0M527.7 347.3h0M520.7 346.9h0M530.0 340.9h0M509.2 362.6h0M574.3 297.5h0M468.1 334.4h0M448.3 339.8h0M536.2 330.7h0M532.2 305.6h0M506.4 348.7h0M529.2 349.7h0M526.9 352.8h0M500.7 317.0h0M547.2 386.2h0M489.9 317.9h0M551.6 372.6h0M507.4 322.8h0M531.6 392.7h0M534.7 367.9h0M531.6 334.6h0M552.9 311.0h0M534.3 386.0h0M542.3 362.4h0M564.7 355.9h0M519.6 356.8h0M588.6 263.3h0M480.7 356.0h0M510.9 367.8h0M499.9 430.6h0M549.7 360.4h0M514.7 396.2h0M586.8 385.3h0M535.3 354.2h0M548.6 354.1h0M508.0 412.6h0M516.4 377.3h0M488.1 373.2h0M519.3 361.2h0M503.1 389.8h0M528.7 366.2h0M536.5 356.5h0M487.5 347.7h0M563.1 362.2h0M536.4 350.5h0M561.6 381.9h0M547.7 328.6h0M531.6 338.1h0M484.5 426.9h0M511.7 396.7h0M498.1 444.8h0M563.1 316.6h0M531.5 328.0h0M523.4 338.2h0M569.6 348.4h0M518.8 387.3h0M523.6 355.5h0M529.5 367.0h0M519.1 359.3h0M533.0 344.2h0M503.0 346.6h0M494.6 367.6h0M542.9 308.9h0M513.6 367.3h0M503.7 391.6h0M526.9 291.7h0M574.1 319.5h0M503.1 332.0h0M525.4 268.4h0M511.6 327.0h0M498.2 306.6h0M508.7 329.5h0M509.9 350.8h0M524.3 378.4h0M553.2 356.6h0M477.3 313.1h0M500.0 357.4h0M514.0 370.7h0M570.8 343.9h0M544.5 401.8h0M512.3 349.3h0M505.6 345.7h0M576.8 364.2h0M558.7 260.0h0M541.2 383.2h0M505.8 241.5h0M531.3 288.9h0M524.3 399.8h0M530.9 387.7h0M526.7 336.5h0M519.3 296.0h0M530.8 335.3h0M518.1 377.2h0M525.6 323.0h0M507.1 351.0h0M505.4 320.4h0M566.7 404.4h0M522.6 397.7h0M555.4 355.6h0M524.5 287.6h0M532.0 425.4h0M523.8 383.8h0M521.5 341.8h0M538.0 410.7h0M564.7 309.7h0M517.1 316.9h0M515.8 332.2h0M521.4 343.1h0M558.4 305.0h0M556.3 361.0h0M537.7 317.6h0M516.5 464.7h0M551.1 371.9h0M501.3 316.4h0M517.8 386.8h0M529.0 400.3h0M545.8 393.4h0M495.1 336.9h0M504.8 363.2h0M515.5 356.4h0M524.1 351.7h0M552.2 402.1h0M509.1 342.3h0M589.9 326.4h0M523.1 359.6h0M510.3 346.7h0M512.2 365.8h0M518.6 412.6h0M531.5 343.8h0M524.2 356.6h0M509.8 416.8h0M502.5 336.4h0M511.8 362.1h0M541.6 353.1h0M557.7 270.0h0M511.3 305.6h0M486.4 421.9h0M516.5 360.2h0M517.9 283.3h0M580.6 367.9h0M518.6 349.2h0M521.6 299.3h0M513.1 379.5h0M518.7 325.9h0M557.0 315.4h0M565.7 346.9h0M515.2 357.1h0M548.1 340.2h0M514.5 303.7h0M532.7 400.2h0M529.9 341.2h0M559.1 281.3h0M543.2 317.0h0M530.6 403.2h0M499.4 359.6h0M512.0 369.7h0M537.9 330.1h0M524.7 353.4h0M493.8 331.1h0M455.1 357.2h0M545.1 368.1h0M544.8 385.2h0M546.8 336.9h0M518.1 324.5h0M557.5 331.0h0M526.8 327.3h0M517.1 339.1h0M513.7 378.2h0M534.5 289.4h0M516.1 323.2h0M501.7 398.8h0M545.3 374.2h0M536.1 400.0h0M517.2 363.2h0M529.8 379.1h0M502.2 384.3h0M540.6 363.2h0M555.6 332.6h0M507.4 418.1h0M537.7 358.7h0M495.3 353.0h0M448.6 355.8h0M545.1 359.1h0M531.4 320.3h0M514.2 371.5h0M516.0 384.9h0M504.8 387.1h0M548.6 357.0h0M478.6 328.6h0M585.5 289.6h0M530.2 303.9h0M521.1 246.6h0M548.3 364.9h0M512.2 306.0h0M546.6 291.3h0M556.7 355.9h0M552.1 392.8h0M525.3 348.7h0M499.2 343.6h0M496.8 381.5h0M552.8 383.2h0M518.9 336.4h0M474.4 361.1h0M498.8 378.8h0M487.8 331.6h0M495.4 304.5h0M526.0 376.3h0M514.9 348.7h0M494.7 308.3h0M525.8 292.2h0M526.0 347.3h0M540.5 357.4h0M582.2 254.8h0M556.2 416.6h0M559.8 352.2h0M505.2 333.8h0M508.3 399.5h0M525.0 389.9h0M549.1 293.3h0M488.8 318.2h0M527.2 329.4h0M543.8 304.6h0M546.5 384.0h0M532.3 331.4h0M537.9 367.6h0M520.9 370.2h0M548.7 362.7h0M574.8 375.3h0M537.2 374.1h0M569.7 378.3h0M580.1 310.5h0M517.1 360.4h0M512.1 390.2h0M563.6 338.0h0M540.6 350.8h0M513.8 278.5h0M533.5 302.6h0M565.4 363.7h0M549.7 382.3h0M525.0 363.6h0M546.0 328.9h0M516.3 315.9h0M519.8 392.2h0M512.1 351.0h0M558.4 347.0h0M555.2 402.0h0M532.7 393.6h0M506.5 313.0h0M516.0 347.6h0M524.9 384.3h0M541.7 399.3h0M504.2 384.2h0M547.6 380.2h0M537.9 354.6h0M506.3 338.6h0M445.3 394.3h0M565.2 249.9h0M532.0 374.0h0M555.3 409.0h0M436.5 363.4h0M538.4 330.1h0M522.5 345.2h0M568.8 383.9h0M518.8 387.8h0M521.9 394.2h0M590.6 409.4h0M552.7 334.8h0M520.3 367.5h0M482.8 356.5h0M508.5 396.2h0M473.9 356.7h0M525.2 341.6h0M546.9 383.1h0M546.8 345.9h0M525.6 325.4h0M542.7 383.1h0M509.7 340.0h0M531.5 392.7h0M502.1 344.8h0M439.6 382.1h0M537.1 359.6h0M514.1 360.9h0M534.5 323.0h0M527.1 389.8h0M536.8 337.0h0M502.7 332.5h0M465.0 375.7h0M543.4 378.2h0M496.2 374.9h0M489.0 385.1h0M488.6 344.5h0M547.8 352.5h0M546.2 370.9h0M473.7 263.3h0M549.8 306.4h0M568.7 333.9h0M514.5 366.3h0M507.0 376.0h0M580.1 451.7h0M525.4 367.2h0M669.3 287.1h0M529.2 377.4h0M488.5 391.5h0M525.4 386.3h0M560.0 445.4h0M499.8 368.5h0M503.4 342.0h0M520.9 341.4h0M546.5 308.7h0M499.0 410.4h0M554.2 354.8h0M533.2 386.8h0M503.3 300.1h0M490.1 313.3h0M513.4 326.6h0M519.7 304.9h0M496.7 389.5h0M515.4 367.5h0M547.9 353.8h0M536.8 329.2h0M538.3 367.3h0M546.3 287.3h0M538.3 385.3h0M478.1 373.0h0M536.8 350.6h0M557.5 343.0h0M547.6 396.5h0M496.2 329.8h0M511.7 348.1h0M513.5 318.1h0M506.1 348.7h0M528.1 320.8h0M505.7 410.8h0M450.4 325.4h0M550.7 340.9h0M536.9 345.6h0M522.4 318.0h0M514.4 343.0h0M511.0 363.5h0M540.3 352.2h0M495.3 396.9h0M542.8 410.7h0M544.9 315.8h0M542.1 365.5h0M504.9 387.8h0M534.0 353.4h0M570.0 270.7h0M476.8 268.2h0M544.8 311.1h0M557.7 404.5h0M531.4 383.3h0M551.8 350.9h0M493.9 402.8h0M549.4 381.9h0M545.1 382.2h0M555.6 327.9h0M539.3 361.2h0M505.3 414.9h0M491.2 324.5h0M540.4 315.0h0M543.1 346.9h0M522.9 313.3h0M514.7 278.9h0M528.2 378.7h0M504.8 401.4h0M510.9 392.9h0M544.6 363.7h0M523.5 306.8h0M541.9 353.4h0M491.1 343.6h0M515.0 358.9h0M541.3 363.4h0M529.1 357.1h0M557.8 369.6h0M492.6 329.7h0M519.7 395.7h0M576.1 307.3h0" stroke="#9e1e5e" stroke-width="3.1" stroke-linecap="round" fill="none"/>
<text transform="translate(125.30,208.35) scale(0.3385,0.3065) translate(-85.30,34.40)" fill="#111">100</text>
<text transform="translate(135.00,270.65) scale(0.3327,0.3065) translate(-57.50,34.40)" fill="#111">10</text>
<text transform="translate(144.75,331.35) scale(0.3171,0.3154) translate(-29.20,34.40)" fill="#111">1</text>
<text transform="translate(132.15,392.55) scale(0.3341,0.3065) translate(-69.10,34.40)" fill="#111">0.1</text>
<text transform="translate(120.75,451.85) scale(0.3450,0.3065) translate(-96.90,34.40)" fill="#111">0.01</text>
<text transform="translate(154.50,493.50) scale(0.3766,0.3249) translate(-27.90,34.40)" fill="#111">0</text>
<text transform="translate(223.80,537.10) scale(0.3456,0.3079) translate(-84.00,34.40)" fill="#111">200</text>
<text transform="translate(314.05,587.90) scale(0.3377,0.3079) translate(-82.60,34.40)" fill="#111">400</text>
<text transform="translate(425.20,621.35) scale(0.3724,0.3065) translate(-27.90,34.40)" fill="#111">0</text>
<text transform="translate(559.50,587.35) scale(0.3458,0.3065) translate(-82.60,34.40)" fill="#111">400</text>
<text transform="translate(680.50,549.15) scale(0.3506,0.3065) translate(-83.70,34.40)" fill="#111">800</text>
<text transform="translate(48.60,335.40) rotate(-90.00) scale(0.3483,0.3433) translate(-456.60,25.80)" fill="#111">Mean firing rate (Hz)</text>
<text transform="translate(227.00,605.00) rotate(27.80) scale(0.3431,0.2951) translate(-340.10,25.80)" fill="#111">peak width (µs)</text>
<text transform="translate(619.50,624.50) rotate(-17.80) scale(0.3372,0.3112) translate(-406.80,25.80)" fill="#111">peak to valley (µs)</text>
<text transform="translate(17.50,20.25) scale(0.5589,0.6468) translate(-33.30,34.40)" fill="#111">A</text>
<path d="M714.3 165V181M781.7 41V181" stroke="#8c8c8c" stroke-width="2" stroke-dasharray="5.5 4" fill="none"/>
<path d="M621.0 54.2C627.5 54.0 647.3 53.2 660.0 53.0C672.7 52.8 690.3 51.8 697.4 52.9C704.5 54.0 700.9 51.8 702.7 59.5C704.5 67.2 706.0 81.7 708.0 99.0C710.0 116.3 712.4 157.3 714.6 163.5C716.8 169.7 717.7 145.8 721.0 135.9C724.3 126.0 729.0 114.0 734.3 104.3C739.6 94.6 747.0 87.2 752.7 78.0C758.4 68.8 763.8 55.2 768.6 49.0C773.4 42.8 777.3 41.7 781.7 40.5C786.1 39.3 790.2 41.0 795.0 42.0C799.8 43.0 808.1 45.6 810.7 46.3" fill="none" stroke="#0a0a0a" stroke-width="4.2" stroke-linejoin="round"/>
<line x1="714.10" y1="103.00" x2="729.50" y2="103.00" stroke="#0a0a0a" stroke-width="2" />
<path d="M709.3 103.0l8.0 -3.8v7.6zM734.3 103.0l-8.0 -3.8v7.6z" fill="#0a0a0a"/>
<line x1="722.00" y1="171.40" x2="774.20" y2="171.40" stroke="#0a0a0a" stroke-width="2" />
<path d="M717.2 171.4l8.0 -3.8v7.6zM779.0 171.4l-8.0 -3.8v7.6z" fill="#0a0a0a"/>
<text transform="translate(659.00,87.70) scale(0.3356,0.3391) translate(-111.60,25.80)" fill="#111">peak</text>
<text transform="translate(651.75,121.90) scale(0.3675,0.3597) translate(-113.40,35.70)" fill="#111">width</text>
<text transform="translate(849.30,150.90) scale(0.3510,0.3391) translate(-165.10,25.80)" fill="#111">peak to</text>
<text transform="translate(836.10,187.70) scale(0.3333,0.3112) translate(-127.90,25.80)" fill="#111">valley</text>
<path d="M973.2 92.5C977.7 92.5 993.5 93.0 1000.0 92.5C1006.5 92.0 1008.5 90.9 1012.0 89.5C1015.5 88.1 1018.5 85.7 1021.0 84.0C1023.5 82.3 1025.5 80.6 1027.0 79.5C1028.5 78.4 1029.3 77.8 1029.8 77.5L1029.8 77.5C1030.1 80.4 1031.0 87.1 1031.8 95.0C1032.6 102.9 1033.6 115.8 1034.5 125.0C1035.4 134.2 1036.0 139.2 1037.0 150.0C1038.0 160.8 1039.2 176.7 1040.5 190.0C1041.8 203.3 1043.3 216.7 1044.5 230.0C1045.7 243.3 1046.6 258.0 1047.5 270.0C1048.4 282.0 1049.6 296.7 1050.0 302.0L1050.0 302.0C1050.3 301.0 1051.2 299.5 1052.0 296.0C1052.8 292.5 1053.7 287.3 1055.0 281.0C1056.3 274.7 1058.2 265.8 1060.0 258.0C1061.8 250.2 1064.0 241.5 1066.0 234.0C1068.0 226.5 1069.9 219.7 1072.0 213.0C1074.1 206.3 1076.0 200.8 1078.5 194.0C1081.0 187.2 1083.9 179.2 1087.0 172.0C1090.1 164.8 1093.2 157.8 1097.0 151.0C1100.8 144.2 1105.3 137.3 1110.0 131.0C1114.7 124.7 1120.0 118.3 1125.0 113.0C1130.0 107.7 1135.5 102.8 1140.0 99.0C1144.5 95.2 1147.8 92.8 1152.0 90.5C1156.2 88.2 1160.3 86.6 1165.0 85.5C1169.7 84.4 1174.8 84.0 1180.0 83.8C1185.2 83.6 1190.5 83.8 1196.0 84.2C1201.5 84.7 1210.2 86.1 1213.0 86.5L1213.0 97.5C1210.2 97.3 1201.5 96.6 1196.0 96.5C1190.5 96.4 1185.2 96.5 1180.0 97.0C1174.8 97.5 1169.7 98.2 1165.0 99.5C1160.3 100.8 1156.2 102.6 1152.0 105.0C1147.8 107.4 1144.5 110.2 1140.0 114.0C1135.5 117.8 1130.0 122.5 1125.0 128.0C1120.0 133.5 1114.5 140.5 1110.0 147.0C1105.5 153.5 1101.7 160.3 1098.0 167.0C1094.3 173.7 1091.0 180.2 1088.0 187.0C1085.0 193.8 1082.5 200.7 1080.0 208.0C1077.5 215.3 1075.3 223.0 1073.0 231.0C1070.7 239.0 1068.3 247.2 1066.0 256.0C1063.7 264.8 1061.5 273.8 1059.0 284.0C1056.5 294.2 1052.3 311.9 1051.0 317.5L1051.0 317.5C1050.7 314.2 1049.9 306.6 1049.2 298.0C1048.5 289.4 1048.1 276.7 1047.0 266.0C1045.9 255.3 1044.5 246.5 1042.7 234.0C1040.9 221.5 1038.4 203.7 1036.3 191.2C1034.2 178.7 1031.7 167.7 1029.9 159.1C1028.1 150.5 1027.4 145.9 1025.6 139.8C1023.8 133.7 1021.7 127.0 1019.2 122.7C1016.7 118.4 1014.2 116.7 1010.6 114.2C1007.0 111.7 1004.0 109.3 997.8 107.7C991.6 106.1 977.3 105.0 973.2 104.5Z" fill="#e2b0d2"/>
<path d="M973.2 96.0C977.3 96.2 991.3 96.8 997.8 97.5C1004.3 98.2 1008.3 99.2 1012.0 100.5C1015.7 101.8 1017.3 103.1 1020.0 105.3C1022.7 107.5 1026.2 108.9 1028.4 113.7C1030.7 118.5 1031.8 124.4 1033.5 133.9C1035.2 143.4 1036.8 156.3 1038.5 170.9C1040.2 185.5 1042.0 204.6 1043.6 221.4C1045.1 238.2 1046.8 257.8 1047.8 271.9C1048.8 286.0 1049.6 300.3 1049.9 306.0L1049.9 306.0C1050.5 303.7 1051.6 300.6 1053.6 292.1C1055.6 283.6 1059.3 266.9 1062.1 255.1C1064.9 243.3 1067.7 231.2 1070.5 221.4C1073.3 211.6 1075.5 205.4 1078.9 196.2C1082.3 186.9 1086.5 174.9 1090.7 165.9C1094.9 156.9 1099.1 149.9 1104.1 142.3C1109.1 134.7 1115.3 127.1 1120.9 120.5C1126.5 113.9 1132.8 107.4 1137.8 102.8C1142.8 98.2 1147.0 95.2 1151.2 92.7C1155.4 90.2 1158.2 88.8 1163.0 87.7C1167.8 86.6 1174.2 86.2 1179.8 86.0C1185.4 85.8 1191.2 86.3 1196.6 86.8C1202.0 87.3 1209.4 88.5 1212.0 88.8" fill="none" stroke="#9e1e5e" stroke-width="4.3" stroke-linejoin="miter" stroke-miterlimit="10"/>
<text transform="translate(1071.10,38.75) scale(0.2983,0.3178) translate(-128.30,34.40)" fill="#111">SPNs</text>
<rect x="1123.00" y="264.00" width="76.60" height="8.00" fill="#000" />
<text transform="translate(1166.80,305.15) scale(0.3340,0.3190) translate(-151.30,24.50)" fill="#111">500 µs</text>
<path d="M973.5 502.9C978.4 502.3 995.3 501.1 1002.7 499.2C1010.1 497.3 1014.2 494.8 1017.8 491.6C1021.3 488.4 1022.4 484.1 1024.0 480.0C1025.6 475.9 1025.9 472.4 1027.2 467.1C1028.5 461.8 1030.7 454.1 1031.9 448.3C1033.1 442.5 1034.0 435.0 1034.4 432.3L1034.4 432.3C1034.7 436.5 1035.6 448.9 1036.2 457.7C1036.8 466.5 1037.4 477.1 1038.0 485.0C1038.6 492.9 1039.2 495.8 1040.0 505.0C1040.8 514.2 1041.8 524.2 1043.0 540.0C1044.2 555.8 1045.8 580.0 1047.0 600.0C1048.2 620.0 1049.2 645.8 1050.0 660.0C1050.8 674.2 1051.2 680.8 1051.5 685.0L1051.5 685.0C1051.8 677.5 1052.2 655.8 1053.0 640.0C1053.8 624.2 1054.9 606.7 1056.0 590.0C1057.1 573.3 1058.4 555.0 1059.5 540.0C1060.6 525.0 1061.6 513.7 1062.5 500.0C1063.4 486.3 1064.0 466.9 1064.9 457.7C1065.8 448.4 1066.3 447.3 1067.7 444.5C1069.1 441.7 1071.4 440.1 1073.4 440.7C1075.5 441.3 1077.3 444.5 1080.0 448.3C1082.7 452.1 1086.0 458.6 1089.4 463.3C1092.9 468.0 1096.3 472.7 1100.7 476.5C1105.1 480.3 1110.1 483.5 1115.8 486.0C1121.5 488.5 1126.8 489.8 1135.0 491.6C1143.2 493.4 1152.0 495.4 1165.0 497.0C1178.0 498.6 1205.0 500.3 1213.0 501.0L1213.0 514.0C1205.0 513.8 1178.0 513.3 1165.0 513.0C1152.0 512.7 1143.2 512.7 1135.0 512.3C1126.8 511.9 1122.1 511.1 1115.8 510.5C1109.5 509.9 1102.6 509.2 1096.9 508.6C1091.2 508.0 1085.6 506.4 1081.8 506.7C1078.0 507.0 1076.2 508.3 1074.3 510.5C1072.4 512.7 1071.8 516.1 1070.5 519.9C1069.2 523.7 1068.0 527.8 1066.8 533.1C1065.5 538.4 1064.1 545.6 1063.0 551.9C1061.9 558.2 1061.2 561.1 1060.2 570.8C1059.2 580.5 1058.2 595.1 1057.0 610.0C1055.8 624.9 1054.2 646.7 1053.0 660.0C1051.8 673.3 1050.5 685.0 1050.0 690.0L1050.0 690.0C1049.3 681.7 1047.2 656.7 1046.0 640.0C1044.8 623.3 1044.0 605.0 1043.0 590.0C1042.0 575.0 1040.9 561.0 1040.0 550.0C1039.1 539.0 1038.2 528.7 1037.5 524.0C1036.8 519.3 1036.8 522.2 1035.7 521.8C1034.6 521.4 1033.4 522.4 1031.0 521.8C1028.6 521.2 1026.2 519.6 1021.5 518.0C1016.8 516.4 1010.7 513.4 1002.7 512.3C994.7 511.2 978.4 511.5 973.5 511.4Z" fill="#b0d8ee"/>
<path d="M973.5 507.1C976.2 507.2 984.6 507.6 989.5 507.6C994.4 507.6 999.2 507.4 1003.0 507.0C1006.8 506.6 1009.0 506.5 1012.1 505.2C1015.2 503.9 1018.7 501.8 1021.5 499.2C1024.3 496.6 1026.9 493.9 1029.1 489.7C1031.3 485.5 1033.8 476.8 1034.7 474.2L1034.7 474.2C1035.2 478.4 1036.5 489.4 1037.6 499.2C1038.7 509.0 1040.0 518.0 1041.3 533.1C1042.5 548.2 1044.0 570.8 1045.1 589.6C1046.2 608.5 1047.1 630.0 1047.9 646.2C1048.7 662.4 1049.5 680.2 1049.8 687.0L1049.8 687.0C1050.3 680.2 1051.3 662.4 1052.6 646.2C1053.8 630.0 1055.9 606.9 1057.3 589.6C1058.7 572.3 1060.0 556.6 1061.1 542.5C1062.2 528.4 1062.8 513.6 1063.9 504.8C1065.0 496.0 1066.1 493.9 1067.7 489.7C1069.3 485.5 1071.5 481.6 1073.4 479.4C1075.3 477.2 1077.0 476.4 1079.0 476.5C1081.0 476.6 1082.6 478.4 1085.6 480.3C1088.6 482.2 1092.5 485.3 1096.9 487.8C1101.3 490.3 1105.7 493.2 1112.0 495.4C1118.3 497.6 1125.6 499.5 1134.6 501.0C1143.6 502.5 1152.8 503.2 1165.9 504.3C1179.0 505.4 1205.2 507.1 1213.0 507.7" fill="none" stroke="#1b7bc2" stroke-width="4.3" stroke-linejoin="miter" stroke-miterlimit="10"/>
<text transform="translate(1071.55,400.20) scale(0.2864,0.3192) translate(-105.10,34.40)" fill="#111">FSIs</text>
<path d="M162.00 1067.37h8.23v6.93h-8.23zM178.45 1018.12h8.23v56.18h-8.23zM186.68 1032.12h8.23v20.22h-8.23zM194.91 1025.03h8.23v20.91h-8.23zM203.13 1053.55h8.23v2.77h-8.23zM219.59 1046.63h8.23v5.70h-8.23zM227.82 1003.94h8.23v53.58h-8.23zM244.27 946.56h8.23v30.59h-8.23zM252.50 946.56h8.23v7.78h-8.23zM268.95 932.22h8.23v61.87h-8.23zM301.86 1067.37h8.23v6.93h-8.23z" fill="#64c492"/>
<path d="M211.36 1040.24h8.23v6.05h-8.23zM236.04 1017.42h8.23v28.86h-8.23zM260.72 902.49h8.23v86.42h-8.23zM277.18 943.11h8.23v45.80h-8.23zM285.40 920.12h8.23v104.04h-8.23zM293.63 1057.18h8.23v2.07h-8.23z" fill="#f0747a"/>
<path d="M170.23 1068.06h8.23v6.24h-8.23zM186.68 1052.34h8.23v21.96h-8.23zM194.91 1045.94h8.23v28.36h-8.23zM203.13 1056.31h8.23v17.99h-8.23zM211.36 1046.29h8.23v28.01h-8.23zM219.59 1052.34h8.23v21.96h-8.23zM227.82 1057.52h8.23v16.78h-8.23zM236.04 1046.29h8.23v28.01h-8.23zM244.27 977.16h8.23v97.14h-8.23zM252.50 954.34h8.23v119.96h-8.23zM260.72 988.91h8.23v85.39h-8.23zM268.95 994.09h8.23v80.21h-8.23zM277.18 988.91h8.23v85.39h-8.23zM285.40 1024.17h8.23v50.13h-8.23zM293.63 1059.25h8.23v15.05h-8.23z" fill="#b66252"/>
<line x1="128.20" y1="877.80" x2="128.20" y2="1074.30" stroke="#1c1c1c" stroke-width="1.8" />
<line x1="125.00" y1="877.80" x2="128.20" y2="877.80" stroke="#1c1c1c" stroke-width="1.3" />
<line x1="125.00" y1="928.10" x2="128.20" y2="928.10" stroke="#1c1c1c" stroke-width="1.3" />
<line x1="125.00" y1="976.90" x2="128.20" y2="976.90" stroke="#1c1c1c" stroke-width="1.3" />
<line x1="125.00" y1="1025.50" x2="128.20" y2="1025.50" stroke="#1c1c1c" stroke-width="1.3" />
<line x1="125.00" y1="1074.30" x2="128.20" y2="1074.30" stroke="#1c1c1c" stroke-width="1.3" />
<line x1="127.40" y1="1074.30" x2="319.30" y2="1074.30" stroke="#1c1c1c" stroke-width="1.9" />
<line x1="153.30" y1="1074.30" x2="153.30" y2="1077.50" stroke="#1c1c1c" stroke-width="1.3" />
<line x1="231.40" y1="1074.30" x2="231.40" y2="1077.50" stroke="#1c1c1c" stroke-width="1.3" />
<line x1="309.80" y1="1074.30" x2="309.80" y2="1077.50" stroke="#1c1c1c" stroke-width="1.3" />
<path d="M173.91 1363.20h7.61v3.80h-7.61zM181.52 1311.70h7.61v40.27h-7.61zM189.12 1335.20h7.61v40.10h-7.61zM204.33 1344.19h7.61v22.81h-7.61zM211.94 1192.96h7.61v56.17h-7.61zM219.55 1283.35h7.61v3.80h-7.61zM249.97 1358.36h7.61v4.84h-7.61zM280.38 1372.71h7.61v2.25h-7.61zM310.81 1377.03h7.61v1.73h-7.61z" fill="#64c492"/>
<path d="M151.10 1374.95h7.61v6.95h-7.61zM158.70 1374.95h7.61v6.95h-7.61zM166.31 1374.95h7.61v6.95h-7.61zM227.15 1279.38h7.61v31.97h-7.61zM234.75 1309.97h7.61v48.91h-7.61zM242.36 1336.41h7.61v36.29h-7.61zM257.57 1363.20h7.61v4.32h-7.61zM265.18 1370.98h7.61v10.92h-7.61zM295.60 1370.98h7.61v10.92h-7.61zM303.20 1378.76h7.61v3.14h-7.61z" fill="#f0747a"/>
<path d="M173.91 1367.00h7.61v14.90h-7.61zM181.52 1351.97h7.61v29.93h-7.61zM189.12 1375.30h7.61v6.60h-7.61zM204.33 1367.00h7.61v14.90h-7.61zM211.94 1249.13h7.61v132.77h-7.61zM219.55 1287.16h7.61v94.74h-7.61zM227.15 1311.35h7.61v70.55h-7.61zM234.75 1358.88h7.61v23.02h-7.61zM242.36 1372.71h7.61v9.19h-7.61zM249.97 1363.20h7.61v18.70h-7.61zM257.57 1367.52h7.61v14.38h-7.61zM272.78 1363.20h7.61v18.70h-7.61zM280.38 1374.95h7.61v6.95h-7.61zM310.81 1378.76h7.61v3.14h-7.61z" fill="#b66252"/>
<line x1="127.70" y1="1186.00" x2="127.70" y2="1381.50" stroke="#1c1c1c" stroke-width="1.8" />
<line x1="124.50" y1="1187.40" x2="127.70" y2="1187.40" stroke="#1c1c1c" stroke-width="1.3" />
<line x1="124.50" y1="1252.30" x2="127.70" y2="1252.30" stroke="#1c1c1c" stroke-width="1.3" />
<line x1="124.50" y1="1317.10" x2="127.70" y2="1317.10" stroke="#1c1c1c" stroke-width="1.3" />
<line x1="124.50" y1="1381.50" x2="127.70" y2="1381.50" stroke="#1c1c1c" stroke-width="1.3" />
<line x1="126.00" y1="1381.50" x2="319.40" y2="1381.50" stroke="#1c1c1c" stroke-width="1.9" />
<line x1="128.00" y1="1381.50" x2="128.00" y2="1384.70" stroke="#1c1c1c" stroke-width="1.3" />
<line x1="204.20" y1="1381.50" x2="204.20" y2="1384.70" stroke="#1c1c1c" stroke-width="1.3" />
<line x1="281.00" y1="1381.50" x2="281.00" y2="1384.70" stroke="#1c1c1c" stroke-width="1.3" />
<path d="M761.82 1039.25h8.64v13.83h-8.64zM770.46 1048.24h8.64v4.84h-8.64zM779.10 1043.57h8.64v9.51h-8.64zM796.38 1039.25h8.64v13.83h-8.64zM813.66 1058.26h8.64v6.05h-8.64zM830.94 1058.26h8.64v9.51h-8.64zM839.58 1053.08h8.64v3.80h-8.64zM848.22 1048.24h8.64v16.07h-8.64zM874.14 1057.92h8.64v9.85h-8.64zM882.78 1067.25h8.64v3.11h-8.64z" fill="#64c492"/>
<path d="M744.54 942.12h8.64v39.23h-8.64zM753.18 1007.28h8.64v0.35h-8.64zM787.74 1045.30h8.64v12.10h-8.64zM805.02 1045.30h8.64v21.95h-8.64zM822.30 1049.28h8.64v8.99h-8.64zM856.86 1064.31h8.64v3.46h-8.64zM865.50 1053.08h8.64v9.51h-8.64zM891.42 1060.86h8.64v6.91h-8.64zM900.06 1064.31h8.64v2.59h-8.64z" fill="#f0747a"/>
<path d="M735.90 949.38h8.64v122.32h-8.64zM744.54 981.35h8.64v90.35h-8.64zM753.18 1007.63h8.64v64.07h-8.64zM761.82 1053.08h8.64v18.62h-8.64zM770.46 1053.08h8.64v18.62h-8.64zM779.10 1053.08h8.64v18.62h-8.64zM787.74 1057.40h8.64v14.30h-8.64zM796.38 1053.08h8.64v18.62h-8.64zM805.02 1067.25h8.64v4.45h-8.64zM813.66 1064.31h8.64v7.39h-8.64zM822.30 1058.26h8.64v13.44h-8.64zM830.94 1067.77h8.64v3.93h-8.64zM839.58 1056.88h8.64v14.82h-8.64zM848.22 1064.31h8.64v7.39h-8.64zM856.86 1067.77h8.64v3.93h-8.64zM865.50 1062.59h8.64v9.11h-8.64zM874.14 1067.77h8.64v3.93h-8.64zM882.78 1070.36h8.64v1.34h-8.64zM891.42 1067.77h8.64v3.93h-8.64zM900.06 1066.91h8.64v4.79h-8.64z" fill="#b66252"/>
<line x1="727.30" y1="874.40" x2="727.30" y2="1072.20" stroke="#1c1c1c" stroke-width="1.8" />
<line x1="724.10" y1="874.40" x2="727.30" y2="874.40" stroke="#1c1c1c" stroke-width="1.3" />
<line x1="724.10" y1="940.40" x2="727.30" y2="940.40" stroke="#1c1c1c" stroke-width="1.3" />
<line x1="724.10" y1="1006.20" x2="727.30" y2="1006.20" stroke="#1c1c1c" stroke-width="1.3" />
<line x1="724.10" y1="1072.20" x2="727.30" y2="1072.20" stroke="#1c1c1c" stroke-width="1.3" />
<line x1="724.60" y1="1072.20" x2="918.80" y2="1072.20" stroke="#1c1c1c" stroke-width="1.9" />
<line x1="736.20" y1="1072.20" x2="736.20" y2="1075.40" stroke="#1c1c1c" stroke-width="1.3" />
<line x1="793.80" y1="1072.20" x2="793.80" y2="1075.40" stroke="#1c1c1c" stroke-width="1.3" />
<line x1="850.90" y1="1072.20" x2="850.90" y2="1075.40" stroke="#1c1c1c" stroke-width="1.3" />
<line x1="907.90" y1="1072.20" x2="907.90" y2="1075.40" stroke="#1c1c1c" stroke-width="1.3" />
<path d="M735.90 1376.16h6.91v6.44h-6.91zM756.64 1347.99h6.91v34.61h-6.91zM763.55 1355.42h6.91v22.47h-6.91zM770.46 1263.82h6.91v74.32h-6.91zM777.38 1192.96h6.91v111.13h-6.91zM784.29 1263.82h6.91v22.99h-6.91zM798.12 1305.82h6.91v3.46h-6.91zM825.77 1347.99h6.91v1.38h-6.91z" fill="#64c492"/>
<path d="M791.20 1292.34h6.91v48.39h-6.91zM805.03 1320.86h6.91v2.59h-6.91zM811.94 1343.84h6.91v17.63h-6.91zM818.86 1337.62h6.91v3.11h-6.91zM832.68 1360.61h6.91v8.64h-6.91zM839.60 1349.37h6.91v6.05h-6.91zM846.51 1371.84h6.91v4.32h-6.91zM853.42 1350.24h6.91v31.11h-6.91zM860.33 1371.84h6.91v6.91h-6.91zM867.25 1349.72h6.91v19.53h-6.91zM881.07 1366.31h6.91v9.85h-6.91zM887.99 1371.84h6.91v9.51h-6.91zM894.90 1366.31h6.91v9.85h-6.91zM901.81 1366.31h6.91v9.85h-6.91z" fill="#f0747a"/>
<path d="M763.55 1377.89h6.91v4.71h-6.91zM770.46 1338.14h6.91v44.46h-6.91zM777.38 1304.09h6.91v78.51h-6.91zM784.29 1286.81h6.91v95.79h-6.91zM791.20 1340.73h6.91v41.87h-6.91zM798.12 1309.28h6.91v73.32h-6.91zM805.03 1323.45h6.91v59.15h-6.91zM811.94 1361.47h6.91v21.13h-6.91zM818.86 1340.73h6.91v41.87h-6.91zM825.77 1349.37h6.91v33.23h-6.91zM832.68 1369.25h6.91v13.35h-6.91zM839.60 1355.42h6.91v27.18h-6.91zM846.51 1376.16h6.91v6.44h-6.91zM853.42 1381.35h6.91v1.25h-6.91zM860.33 1378.76h6.91v3.84h-6.91zM867.25 1369.25h6.91v13.35h-6.91zM874.16 1376.68h6.91v5.92h-6.91zM881.07 1376.16h6.91v6.44h-6.91zM887.99 1381.35h6.91v1.25h-6.91zM894.90 1376.16h6.91v6.44h-6.91zM901.81 1376.16h6.91v6.44h-6.91z" fill="#b66252"/>
<line x1="727.30" y1="1187.20" x2="727.30" y2="1382.70" stroke="#1c1c1c" stroke-width="1.8" />
<line x1="724.10" y1="1187.20" x2="727.30" y2="1187.20" stroke="#1c1c1c" stroke-width="1.3" />
<line x1="724.10" y1="1237.40" x2="727.30" y2="1237.40" stroke="#1c1c1c" stroke-width="1.3" />
<line x1="724.10" y1="1285.70" x2="727.30" y2="1285.70" stroke="#1c1c1c" stroke-width="1.3" />
<line x1="724.10" y1="1335.20" x2="727.30" y2="1335.20" stroke="#1c1c1c" stroke-width="1.3" />
<line x1="724.10" y1="1382.70" x2="727.30" y2="1382.70" stroke="#1c1c1c" stroke-width="1.3" />
<line x1="724.60" y1="1382.70" x2="918.80" y2="1382.70" stroke="#1c1c1c" stroke-width="1.9" />
<line x1="770.70" y1="1382.70" x2="770.70" y2="1385.90" stroke="#1c1c1c" stroke-width="1.3" />
<line x1="839.40" y1="1382.70" x2="839.40" y2="1385.90" stroke="#1c1c1c" stroke-width="1.3" />
<line x1="908.40" y1="1382.70" x2="908.40" y2="1385.90" stroke="#1c1c1c" stroke-width="1.3" />
<rect x="443.60" y="969.50" width="35.50" height="105.60" fill="#f0747a" stroke="#1c1c1c" stroke-width="1.6"/>
<rect x="505.90" y="1004.50" width="34.30" height="70.60" fill="#64c492" stroke="#1c1c1c" stroke-width="1.6"/>
<line x1="461.40" y1="962.30" x2="461.40" y2="978.60" stroke="#1c1c1c" stroke-width="1.6" />
<line x1="455.40" y1="962.30" x2="467.40" y2="962.30" stroke="#1c1c1c" stroke-width="1.6" />
<line x1="455.40" y1="978.60" x2="467.40" y2="978.60" stroke="#1c1c1c" stroke-width="1.6" />
<line x1="523.00" y1="995.80" x2="523.00" y2="1013.00" stroke="#1c1c1c" stroke-width="1.6" />
<line x1="517.00" y1="995.80" x2="529.00" y2="995.80" stroke="#1c1c1c" stroke-width="1.6" />
<line x1="517.00" y1="1013.00" x2="529.00" y2="1013.00" stroke="#1c1c1c" stroke-width="1.6" />
<line x1="421.60" y1="877.20" x2="421.60" y2="1075.10" stroke="#1c1c1c" stroke-width="1.8" />
<line x1="418.40" y1="885.30" x2="421.60" y2="885.30" stroke="#1c1c1c" stroke-width="1.3" />
<line x1="418.40" y1="932.40" x2="421.60" y2="932.40" stroke="#1c1c1c" stroke-width="1.3" />
<line x1="418.40" y1="979.90" x2="421.60" y2="979.90" stroke="#1c1c1c" stroke-width="1.3" />
<line x1="418.40" y1="1027.50" x2="421.60" y2="1027.50" stroke="#1c1c1c" stroke-width="1.3" />
<line x1="418.40" y1="1075.10" x2="421.60" y2="1075.10" stroke="#1c1c1c" stroke-width="1.3" />
<line x1="419.80" y1="1075.10" x2="555.20" y2="1075.10" stroke="#1c1c1c" stroke-width="1.9" />
<line x1="461.35" y1="1075.10" x2="461.35" y2="1078.30" stroke="#1c1c1c" stroke-width="1.3" />
<line x1="523.05" y1="1075.10" x2="523.05" y2="1078.30" stroke="#1c1c1c" stroke-width="1.3" />
<line x1="504.40" y1="1075.10" x2="504.40" y2="1078.30" stroke="#1c1c1c" stroke-width="1.3" />
<rect x="443.40" y="1211.40" width="35.70" height="170.70" fill="#f0747a" stroke="#1c1c1c" stroke-width="1.6"/>
<rect x="504.80" y="1252.40" width="35.70" height="129.70" fill="#64c492" stroke="#1c1c1c" stroke-width="1.6"/>
<line x1="460.90" y1="1200.20" x2="460.90" y2="1223.10" stroke="#1c1c1c" stroke-width="1.6" />
<line x1="454.90" y1="1200.20" x2="466.90" y2="1200.20" stroke="#1c1c1c" stroke-width="1.6" />
<line x1="454.90" y1="1223.10" x2="466.90" y2="1223.10" stroke="#1c1c1c" stroke-width="1.6" />
<line x1="523.00" y1="1242.00" x2="523.00" y2="1263.80" stroke="#1c1c1c" stroke-width="1.6" />
<line x1="517.00" y1="1242.00" x2="529.00" y2="1242.00" stroke="#1c1c1c" stroke-width="1.6" />
<line x1="517.00" y1="1263.80" x2="529.00" y2="1263.80" stroke="#1c1c1c" stroke-width="1.6" />
<line x1="421.30" y1="1185.30" x2="421.30" y2="1382.10" stroke="#1c1c1c" stroke-width="1.8" />
<line x1="418.10" y1="1185.30" x2="421.30" y2="1185.30" stroke="#1c1c1c" stroke-width="1.3" />
<line x1="418.10" y1="1283.70" x2="421.30" y2="1283.70" stroke="#1c1c1c" stroke-width="1.3" />
<line x1="418.10" y1="1382.10" x2="421.30" y2="1382.10" stroke="#1c1c1c" stroke-width="1.3" />
<line x1="419.20" y1="1382.10" x2="554.60" y2="1382.10" stroke="#1c1c1c" stroke-width="1.9" />
<line x1="461.25" y1="1382.10" x2="461.25" y2="1385.30" stroke="#1c1c1c" stroke-width="1.3" />
<line x1="522.65" y1="1382.10" x2="522.65" y2="1385.30" stroke="#1c1c1c" stroke-width="1.3" />
<line x1="503.30" y1="1382.10" x2="503.30" y2="1385.30" stroke="#1c1c1c" stroke-width="1.3" />
<rect x="1042.20" y="925.10" width="35.20" height="146.60" fill="#f0747a" stroke="#1c1c1c" stroke-width="1.6"/>
<rect x="1103.90" y="892.90" width="35.10" height="178.80" fill="#64c492" stroke="#1c1c1c" stroke-width="1.6"/>
<line x1="1059.50" y1="912.70" x2="1059.50" y2="938.70" stroke="#1c1c1c" stroke-width="1.6" />
<line x1="1053.50" y1="912.70" x2="1065.50" y2="912.70" stroke="#1c1c1c" stroke-width="1.6" />
<line x1="1053.50" y1="938.70" x2="1065.50" y2="938.70" stroke="#1c1c1c" stroke-width="1.6" />
<line x1="1121.20" y1="874.90" x2="1121.20" y2="911.10" stroke="#1c1c1c" stroke-width="1.6" />
<line x1="1115.20" y1="874.90" x2="1127.20" y2="874.90" stroke="#1c1c1c" stroke-width="1.6" />
<line x1="1115.20" y1="911.10" x2="1127.20" y2="911.10" stroke="#1c1c1c" stroke-width="1.6" />
<line x1="1020.70" y1="874.20" x2="1020.70" y2="1071.70" stroke="#1c1c1c" stroke-width="1.8" />
<line x1="1017.50" y1="882.30" x2="1020.70" y2="882.30" stroke="#1c1c1c" stroke-width="1.3" />
<line x1="1017.50" y1="945.00" x2="1020.70" y2="945.00" stroke="#1c1c1c" stroke-width="1.3" />
<line x1="1017.50" y1="1008.60" x2="1020.70" y2="1008.60" stroke="#1c1c1c" stroke-width="1.3" />
<line x1="1017.50" y1="1071.70" x2="1020.70" y2="1071.70" stroke="#1c1c1c" stroke-width="1.3" />
<line x1="1018.00" y1="1071.70" x2="1153.50" y2="1071.70" stroke="#1c1c1c" stroke-width="1.9" />
<line x1="1059.80" y1="1071.70" x2="1059.80" y2="1074.90" stroke="#1c1c1c" stroke-width="1.3" />
<line x1="1121.45" y1="1071.70" x2="1121.45" y2="1074.90" stroke="#1c1c1c" stroke-width="1.3" />
<line x1="1102.40" y1="1071.70" x2="1102.40" y2="1074.90" stroke="#1c1c1c" stroke-width="1.3" />
<rect x="1042.20" y="1237.40" width="35.20" height="145.70" fill="#f0747a" stroke="#1c1c1c" stroke-width="1.6"/>
<rect x="1103.90" y="1295.30" width="35.10" height="87.80" fill="#64c492" stroke="#1c1c1c" stroke-width="1.6"/>
<line x1="1060.60" y1="1225.90" x2="1060.60" y2="1249.90" stroke="#1c1c1c" stroke-width="1.6" />
<line x1="1054.60" y1="1225.90" x2="1066.60" y2="1225.90" stroke="#1c1c1c" stroke-width="1.6" />
<line x1="1054.60" y1="1249.90" x2="1066.60" y2="1249.90" stroke="#1c1c1c" stroke-width="1.6" />
<line x1="1121.20" y1="1284.70" x2="1121.20" y2="1306.60" stroke="#1c1c1c" stroke-width="1.6" />
<line x1="1115.20" y1="1284.70" x2="1127.20" y2="1284.70" stroke="#1c1c1c" stroke-width="1.6" />
<line x1="1115.20" y1="1306.60" x2="1127.20" y2="1306.60" stroke="#1c1c1c" stroke-width="1.6" />
<line x1="1020.30" y1="1187.70" x2="1020.30" y2="1383.10" stroke="#1c1c1c" stroke-width="1.8" />
<line x1="1017.10" y1="1187.70" x2="1020.30" y2="1187.70" stroke="#1c1c1c" stroke-width="1.3" />
<line x1="1017.10" y1="1253.30" x2="1020.30" y2="1253.30" stroke="#1c1c1c" stroke-width="1.3" />
<line x1="1017.10" y1="1318.60" x2="1020.30" y2="1318.60" stroke="#1c1c1c" stroke-width="1.3" />
<line x1="1017.10" y1="1383.10" x2="1020.30" y2="1383.10" stroke="#1c1c1c" stroke-width="1.3" />
<line x1="1018.00" y1="1383.10" x2="1153.50" y2="1383.10" stroke="#1c1c1c" stroke-width="1.9" />
<line x1="1059.80" y1="1383.10" x2="1059.80" y2="1386.30" stroke="#1c1c1c" stroke-width="1.3" />
<line x1="1121.45" y1="1383.10" x2="1121.45" y2="1386.30" stroke="#1c1c1c" stroke-width="1.3" />
<line x1="1102.40" y1="1383.10" x2="1102.40" y2="1386.30" stroke="#1c1c1c" stroke-width="1.3" />
<text transform="translate(19.75,811.80) scale(0.5846,0.5959) translate(-34.80,34.40)" fill="#111">B</text>
<text transform="translate(604.65,824.90) scale(0.3111,0.3729) translate(-105.10,34.40)" fill="#111">FSIs</text>
<text transform="translate(36.60,1145.90) rotate(-90.00) scale(0.3493,0.3515) translate(-358.00,35.70)" fill="#111">Fraction of units</text>
<text transform="translate(648.30,1146.50) rotate(-90.00) scale(0.3495,0.3569) translate(-358.00,35.70)" fill="#111">Fraction of units</text>
<text transform="translate(95.10,878.40) scale(0.3415,0.2938) translate(-69.00,34.40)" fill="#111">0.2</text>
<text transform="translate(108.55,1073.90) scale(0.3577,0.3023) translate(-27.90,34.40)" fill="#111">0</text>
<text transform="translate(149.75,1095.30) scale(0.3396,0.3023) translate(-96.90,34.40)" fill="#111">0.01</text>
<text transform="translate(228.95,1095.30) scale(0.3218,0.3110) translate(-29.20,34.40)" fill="#111">1</text>
<text transform="translate(311.30,1095.30) scale(0.3372,0.3023) translate(-85.30,34.40)" fill="#111">100</text>
<text transform="translate(231.60,1134.05) scale(0.3454,0.3380) translate(-304.50,25.80)" fill="#111">Average firing</text>
<text transform="translate(232.00,1167.40) scale(0.3399,0.3369) translate(-194.60,25.80)" fill="#111">rate (Hz)</text>
<text transform="translate(95.10,1186.20) scale(0.3400,0.2994) translate(-69.30,34.40)" fill="#111">0.3</text>
<text transform="translate(109.55,1383.50) scale(0.3452,0.2768) translate(-27.90,34.40)" fill="#111">0</text>
<text transform="translate(124.60,1403.75) scale(0.3475,0.3065) translate(-72.60,34.40)" fill="#111">-20</text>
<text transform="translate(208.00,1403.75) scale(0.3515,0.3065) translate(-27.90,34.40)" fill="#111">0</text>
<text transform="translate(280.15,1403.75) scale(0.3564,0.3065) translate(-56.20,34.40)" fill="#111">20</text>
<text transform="translate(217.45,1439.85) scale(0.3510,0.3365) translate(-287.40,35.70)" fill="#111">Z modulation</text>
<text transform="translate(393.95,885.35) scale(0.3271,0.3065) translate(-56.20,34.40)" fill="#111">20</text>
<text transform="translate(403.00,1074.55) scale(0.3598,0.3065) translate(-27.90,34.40)" fill="#111">0</text>
<text transform="translate(458.70,1096.70) scale(0.2893,0.3192) translate(-99.10,34.40)" fill="#111">DLS</text>
<text transform="translate(530.65,1096.70) scale(0.3325,0.3192) translate(-113.00,34.40)" fill="#111">DMS</text>
<text transform="translate(377.20,998.50) rotate(-90.00) scale(0.3084,0.3112) translate(-284.90,25.80)" fill="#111">Avg. FR (Hz)</text>
<text transform="translate(394.00,1184.60) scale(0.3327,0.3023) translate(-57.50,34.40)" fill="#111">10</text>
<text transform="translate(402.90,1382.05) scale(0.3222,0.2867) translate(-27.90,34.40)" fill="#111">0</text>
<text transform="translate(458.95,1405.00) scale(0.2921,0.3023) translate(-99.10,34.40)" fill="#111">DLS</text>
<text transform="translate(530.80,1405.00) scale(0.3235,0.3023) translate(-113.00,34.40)" fill="#111">DMS</text>
<text transform="translate(375.35,1298.00) rotate(-90.00) scale(0.3720,0.3429) translate(-181.60,25.60)" fill="#111">|Z mod.|</text>
<text transform="translate(694.25,872.40) scale(0.3392,0.2881) translate(-69.30,34.40)" fill="#111">0.3</text>
<text transform="translate(708.95,1072.00) scale(0.3117,0.2881) translate(-27.90,34.40)" fill="#111">0</text>
<text transform="translate(735.45,1092.40) scale(0.3410,0.2881) translate(-27.90,34.40)" fill="#111">0</text>
<text transform="translate(909.25,1092.40) scale(0.3331,0.2881) translate(-69.30,34.40)" fill="#111">0.3</text>
<text transform="translate(824.20,1126.50) scale(0.3205,0.3355) translate(-264.50,24.50)" fill="#111">Sparseness</text>
<text transform="translate(824.60,1155.45) scale(0.3452,0.3093) translate(-122.20,35.70)" fill="#111">index</text>
<text transform="translate(694.25,1189.20) scale(0.3408,0.2881) translate(-69.00,34.40)" fill="#111">0.2</text>
<text transform="translate(708.95,1383.40) scale(0.3117,0.2881) translate(-27.90,34.40)" fill="#111">0</text>
<text transform="translate(769.95,1403.95) scale(0.3619,0.3263) translate(-27.90,34.40)" fill="#111">0</text>
<text transform="translate(905.35,1403.95) scale(0.3423,0.3263) translate(-69.00,34.40)" fill="#111">0.2</text>
<text transform="translate(832.55,1442.65) scale(0.3562,0.3358) translate(-259.80,25.80)" fill="#111">Trial-by-trial</text>
<text transform="translate(832.50,1473.50) scale(0.3591,0.3270) translate(-232.30,35.70)" fill="#111">correlation</text>
<text transform="translate(978.80,882.25) scale(0.3337,0.2924) translate(-97.20,34.40)" fill="#111">0.15</text>
<text transform="translate(1001.85,1067.20) scale(0.3368,0.2768) translate(-27.90,34.40)" fill="#111">0</text>
<text transform="translate(1057.80,1094.85) scale(0.2915,0.3093) translate(-99.10,34.40)" fill="#111">DLS</text>
<text transform="translate(1129.75,1094.85) scale(0.3297,0.3093) translate(-113.00,34.40)" fill="#111">DMS</text>
<text transform="translate(963.25,991.75) rotate(-90.00) scale(0.3192,0.3433) translate(-264.50,24.50)" fill="#111">Sparseness</text>
<text transform="translate(978.80,1188.00) scale(0.3337,0.2825) translate(-97.20,34.40)" fill="#111">0.15</text>
<text transform="translate(1001.85,1383.00) scale(0.3368,0.2768) translate(-27.90,34.40)" fill="#111">0</text>
<text transform="translate(1057.80,1406.00) scale(0.2915,0.3107) translate(-99.10,34.40)" fill="#111">DLS</text>
<text transform="translate(1129.75,1406.00) scale(0.3297,0.3107) translate(-113.00,34.40)" fill="#111">DMS</text>
<text transform="translate(960.35,1301.15) rotate(-90.00) scale(0.3499,0.3447) translate(-243.80,35.70)" fill="#111">Correlation</text>
</svg>
</body></html>
